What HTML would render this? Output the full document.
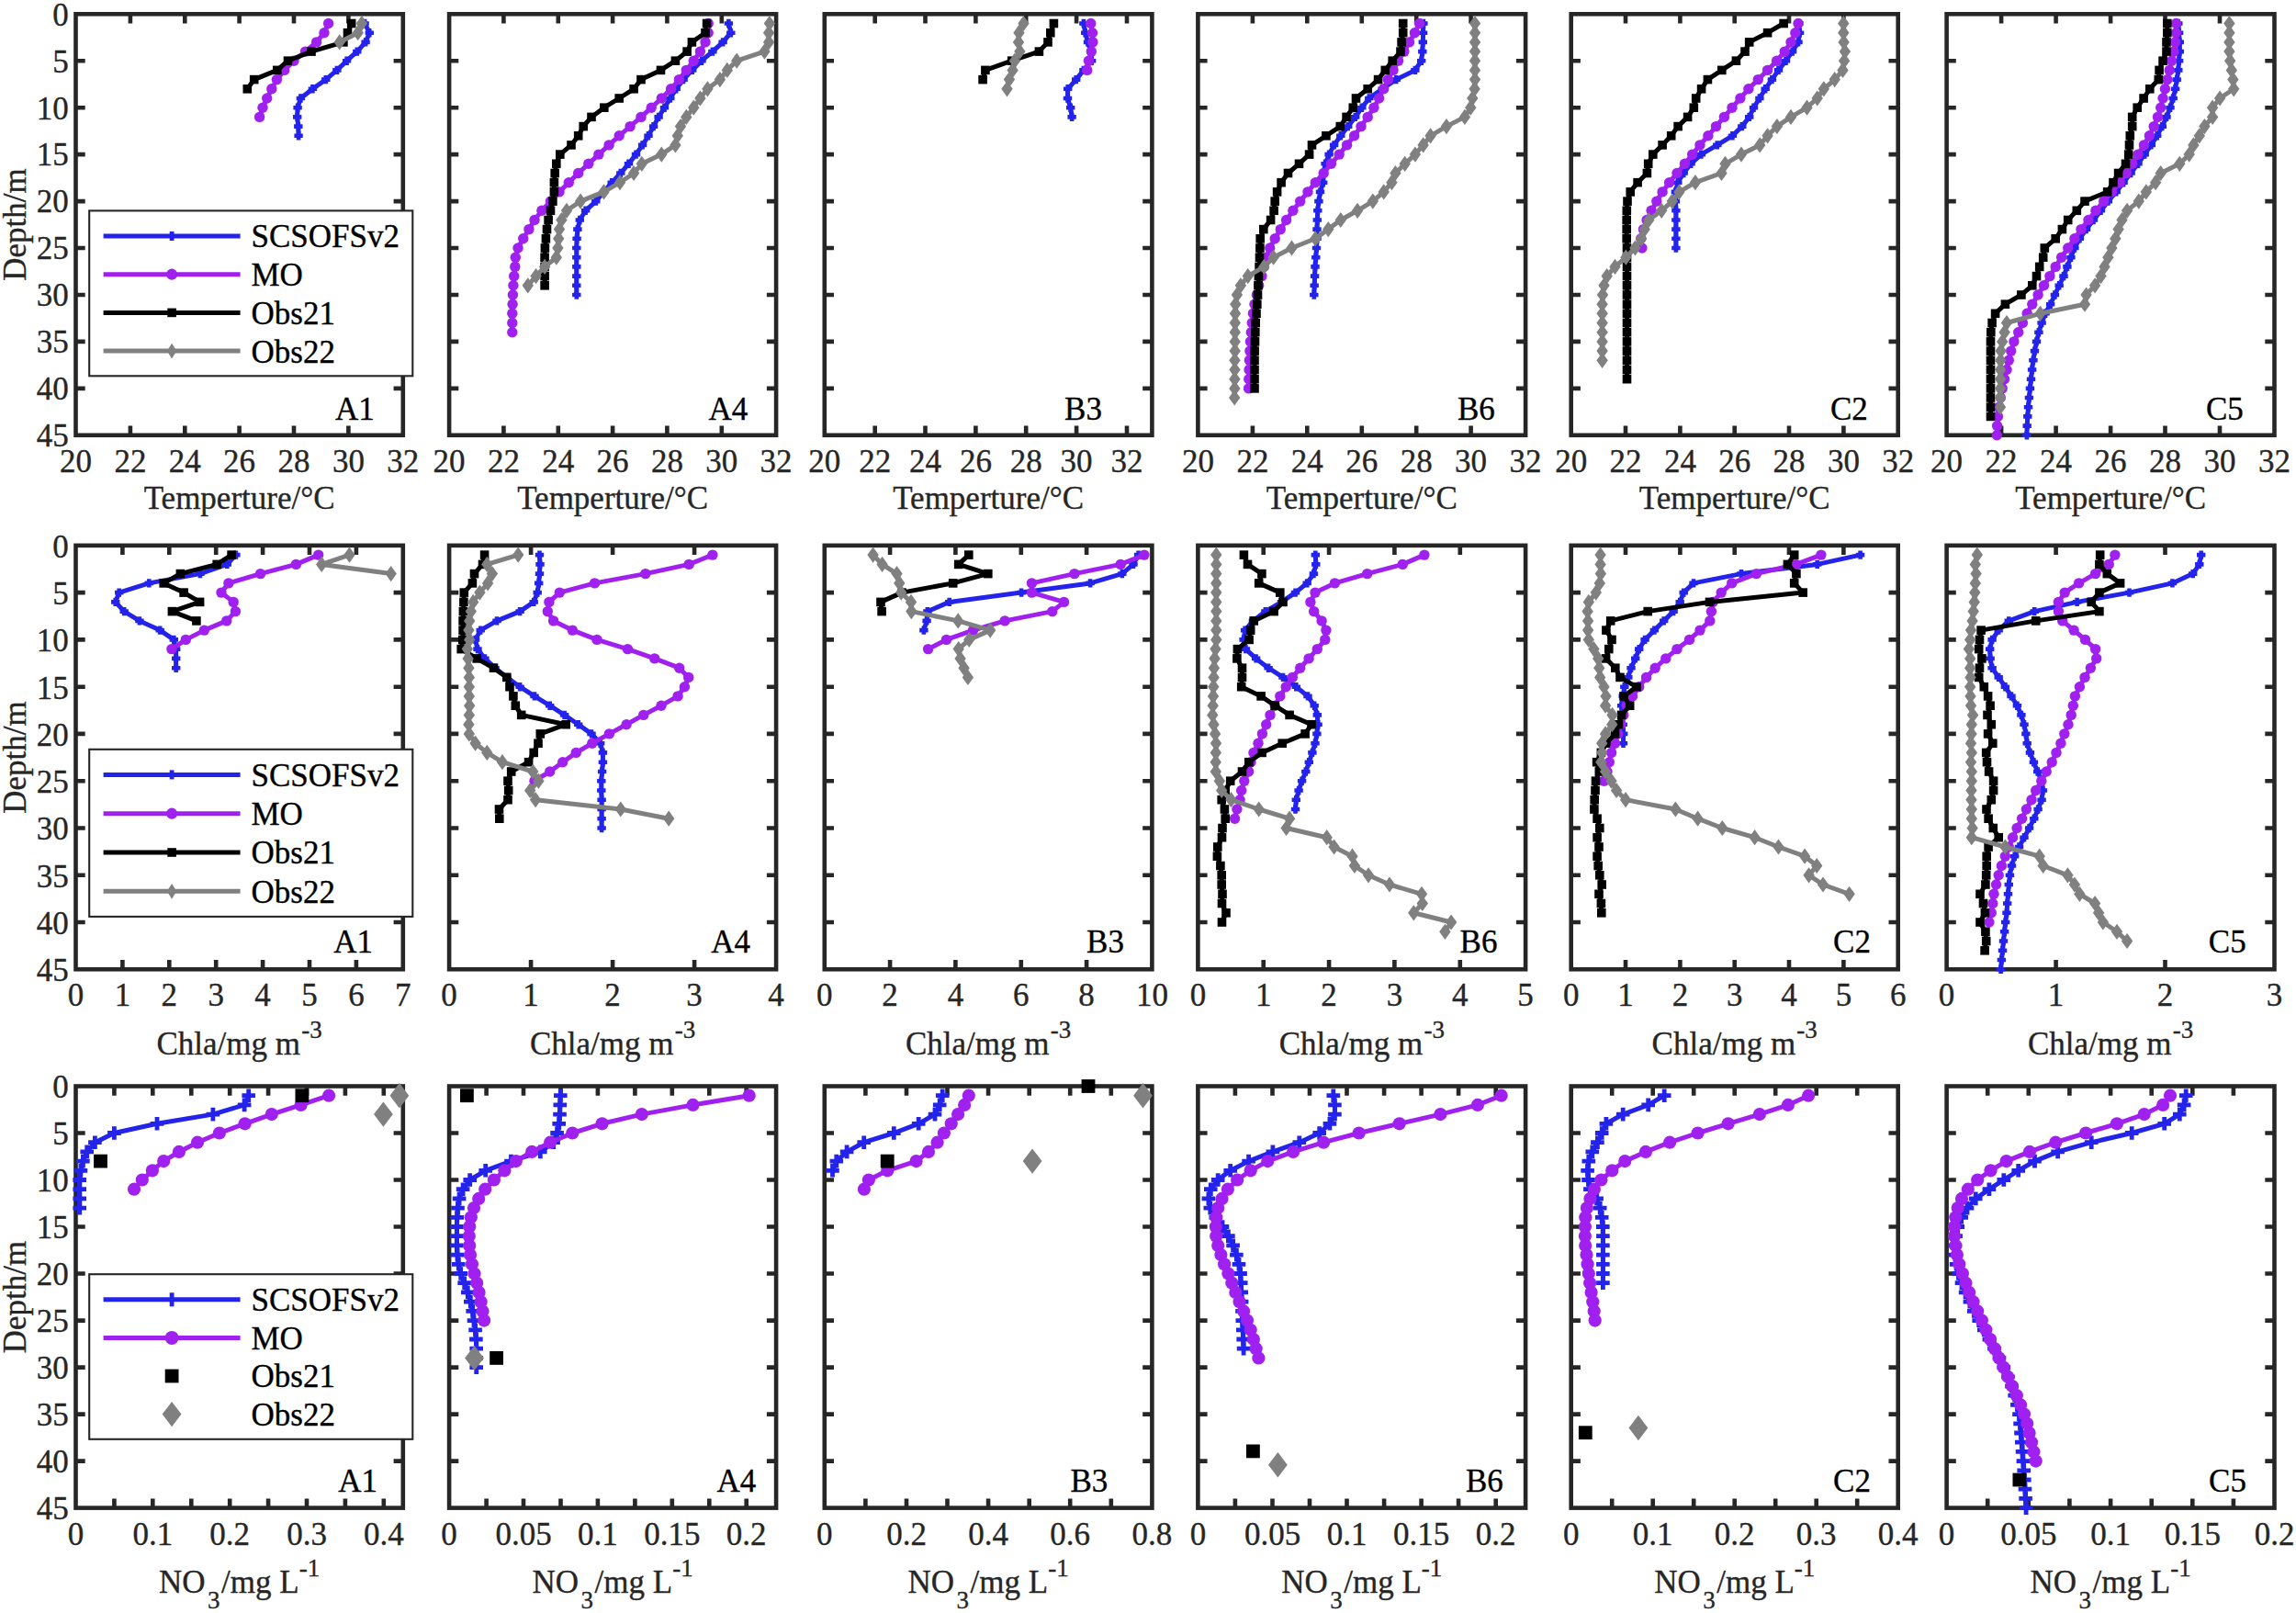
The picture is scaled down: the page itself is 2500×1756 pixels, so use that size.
<!DOCTYPE html><html><head><meta charset="utf-8"><title>Profiles</title>
<style>html,body{margin:0;padding:0;background:#fff}svg{display:block}text{font-family:"Liberation Serif","Times New Roman",serif;fill:#262626;stroke:#262626;stroke-width:0.35px}text.k{fill:#000;stroke:#000}</style></head><body>
<svg width="2500" height="1756" viewBox="0 0 2500 1756" font-size="35">
<rect width="2500" height="1756" fill="#fff"/>
<g id="p00">
<rect x="82.5" y="15.3" width="356.3" height="458.5" fill="none" stroke="#262626" stroke-width="4.6"/>
<path d="M82.5 66.2h10.2M438.8 66.2h-10.2M82.5 117.2h10.2M438.8 117.2h-10.2M82.5 168.1h10.2M438.8 168.1h-10.2M82.5 219.1h10.2M438.8 219.1h-10.2M82.5 270.0h10.2M438.8 270.0h-10.2M82.5 321.0h10.2M438.8 321.0h-10.2M82.5 371.9h10.2M438.8 371.9h-10.2M82.5 422.9h10.2M438.8 422.9h-10.2M141.9 15.3v10.2M141.9 473.8v-10.2M201.3 15.3v10.2M201.3 473.8v-10.2M260.6 15.3v10.2M260.6 473.8v-10.2M320.0 15.3v10.2M320.0 473.8v-10.2M379.4 15.3v10.2M379.4 473.8v-10.2" stroke="#262626" stroke-width="4.6" fill="none"/>
<polyline points="397.1,25.5 402.3,35.7 398.1,45.9 388.8,56.1 377.6,66.2 366.9,76.4 354.8,86.6 340.4,96.8 327.4,107.0 324.1,117.2 323.7,127.4 324.8,137.6 325.1,147.8" fill="none" stroke="#2323ec" stroke-width="5" stroke-linejoin="round"/><path d="M392.4 25.5h9.4M397.1 20.8v9.4M397.6 35.7h9.4M402.3 31.0v9.4M393.4 45.9h9.4M398.1 41.2v9.4M384.1 56.1h9.4M388.8 51.4v9.4M372.9 66.2h9.4M377.6 61.5v9.4M362.2 76.4h9.4M366.9 71.7v9.4M350.1 86.6h9.4M354.8 81.9v9.4M335.7 96.8h9.4M340.4 92.1v9.4M322.7 107.0h9.4M327.4 102.3v9.4M319.4 117.2h9.4M324.1 112.5v9.4M319.0 127.4h9.4M323.7 122.7v9.4M320.1 137.6h9.4M324.8 132.9v9.4M320.4 147.8h9.4M325.1 143.1v9.4" stroke="#2323ec" stroke-width="4.6" fill="none"/>
<polyline points="357.6,25.5 353.0,35.7 344.6,45.9 332.5,56.1 320.0,66.2 309.7,76.4 301.4,86.6 295.8,96.8 290.7,107.0 286.0,117.2 282.6,127.4" fill="none" stroke="#a020f0" stroke-width="5" stroke-linejoin="round"/><circle cx="357.6" cy="25.5" r="5.7" fill="#a020f0"/><circle cx="353.0" cy="35.7" r="5.7" fill="#a020f0"/><circle cx="344.6" cy="45.9" r="5.7" fill="#a020f0"/><circle cx="332.5" cy="56.1" r="5.7" fill="#a020f0"/><circle cx="320.0" cy="66.2" r="5.7" fill="#a020f0"/><circle cx="309.7" cy="76.4" r="5.7" fill="#a020f0"/><circle cx="301.4" cy="86.6" r="5.7" fill="#a020f0"/><circle cx="295.8" cy="96.8" r="5.7" fill="#a020f0"/><circle cx="290.7" cy="107.0" r="5.7" fill="#a020f0"/><circle cx="286.0" cy="117.2" r="5.7" fill="#a020f0"/><circle cx="282.6" cy="127.4" r="5.7" fill="#a020f0"/>
<polyline points="382.7,25.5 378.5,35.7 373.9,45.9 339.0,56.1 313.5,66.2 301.8,76.4 276.7,86.6 269.3,96.8" fill="none" stroke="#000000" stroke-width="5" stroke-linejoin="round"/><rect x="377.9" y="20.7" width="9.6" height="9.6" fill="#000000"/><rect x="373.7" y="30.9" width="9.6" height="9.6" fill="#000000"/><rect x="369.1" y="41.1" width="9.6" height="9.6" fill="#000000"/><rect x="334.2" y="51.3" width="9.6" height="9.6" fill="#000000"/><rect x="308.7" y="61.4" width="9.6" height="9.6" fill="#000000"/><rect x="297.0" y="71.6" width="9.6" height="9.6" fill="#000000"/><rect x="271.9" y="81.8" width="9.6" height="9.6" fill="#000000"/><rect x="264.5" y="92.0" width="9.6" height="9.6" fill="#000000"/>
<polyline points="393.9,25.5 389.7,35.7 369.7,45.9" fill="none" stroke="#808080" stroke-width="5" stroke-linejoin="round"/><path d="M393.9 16.9L400.1 25.5L393.9 34.1L387.7 25.5Z" fill="#808080"/><path d="M389.7 27.1L395.9 35.7L389.7 44.3L383.5 35.7Z" fill="#808080"/><path d="M369.7 37.3L375.9 45.9L369.7 54.5L363.5 45.9Z" fill="#808080"/>
<text x="82.5" y="513.8" text-anchor="middle">20</text>
<text x="141.9" y="513.8" text-anchor="middle">22</text>
<text x="201.3" y="513.8" text-anchor="middle">24</text>
<text x="260.6" y="513.8" text-anchor="middle">26</text>
<text x="320.0" y="513.8" text-anchor="middle">28</text>
<text x="379.4" y="513.8" text-anchor="middle">30</text>
<text x="438.8" y="513.8" text-anchor="middle">32</text>
<text x="74.8" y="27.6" text-anchor="end">0</text>
<text x="74.8" y="78.5" text-anchor="end">5</text>
<text x="74.8" y="129.5" text-anchor="end">10</text>
<text x="74.8" y="180.4" text-anchor="end">15</text>
<text x="74.8" y="231.4" text-anchor="end">20</text>
<text x="74.8" y="282.3" text-anchor="end">25</text>
<text x="74.8" y="333.3" text-anchor="end">30</text>
<text x="74.8" y="384.2" text-anchor="end">35</text>
<text x="74.8" y="435.2" text-anchor="end">40</text>
<text x="74.8" y="486.1" text-anchor="end">45</text>
<text transform="translate(28.3,244.6) rotate(-90)" text-anchor="middle">Depth/m</text>
<text x="260.6" y="553.5" text-anchor="middle">Temperture/°C</text>
<text x="364.9" y="456.9" class="k">A1</text>
<rect x="97.2" y="229.4" width="352.1" height="179.9" fill="#fff" stroke="#262626" stroke-width="2.1"/>
<path d="M112.6 257.0H261.6" stroke="#2323ec" stroke-width="5"/>
<path d="M187.1 252.0v10.0" stroke="#2323ec" stroke-width="4.8"/>
<text x="273.5" y="269.4" font-size="35" class="k">SCSOFSv2</text>
<path d="M112.6 298.7H261.6" stroke="#a020f0" stroke-width="5"/>
<circle cx="187.1" cy="298.7" r="6.1000000000000005" fill="#a020f0"/>
<text x="273.5" y="311.1" font-size="35" class="k">MO</text>
<path d="M112.6 340.4H261.6" stroke="#000000" stroke-width="5"/>
<rect x="182.3" y="335.6" width="9.6" height="9.6" fill="#000000"/>
<text x="273.5" y="352.8" font-size="35" class="k">Obs21</text>
<path d="M112.6 382.1H261.6" stroke="#808080" stroke-width="5"/>
<path d="M187.1 373.7L192.3 382.1L187.1 390.5L181.9 382.1Z" fill="#808080"/>
<text x="273.5" y="394.5" font-size="35" class="k">Obs22</text>
</g>
<g id="p01">
<rect x="489.1" y="15.3" width="356.0" height="458.5" fill="none" stroke="#262626" stroke-width="4.6"/>
<path d="M489.1 66.2h10.2M845.1 66.2h-10.2M489.1 117.2h10.2M845.1 117.2h-10.2M489.1 168.1h10.2M845.1 168.1h-10.2M489.1 219.1h10.2M845.1 219.1h-10.2M489.1 270.0h10.2M845.1 270.0h-10.2M489.1 321.0h10.2M845.1 321.0h-10.2M489.1 371.9h10.2M845.1 371.9h-10.2M489.1 422.9h10.2M845.1 422.9h-10.2M548.4 15.3v10.2M548.4 473.8v-10.2M607.8 15.3v10.2M607.8 473.8v-10.2M667.1 15.3v10.2M667.1 473.8v-10.2M726.4 15.3v10.2M726.4 473.8v-10.2M785.8 15.3v10.2M785.8 473.8v-10.2" stroke="#262626" stroke-width="4.6" fill="none"/>
<polyline points="793.4,25.5 795.8,35.7 787.1,45.9 775.9,56.1 764.0,66.2 753.7,76.4 744.1,86.6 736.2,96.8 729.8,107.0 723.5,117.2 717.1,127.4 711.6,137.6 706.0,147.8 699.6,157.9 692.5,168.1 684.5,178.3 675.8,188.5 666.2,198.7 657.5,208.9 648.8,219.1 637.6,229.3 631.3,239.5 628.9,249.6 628.1,259.8 627.8,270.0 627.8,280.2 627.8,290.4 627.8,300.6 627.8,310.8 627.8,321.0" fill="none" stroke="#2323ec" stroke-width="5" stroke-linejoin="round"/><path d="M788.7 25.5h9.4M793.4 20.8v9.4M791.1 35.7h9.4M795.8 31.0v9.4M782.4 45.9h9.4M787.1 41.2v9.4M771.2 56.1h9.4M775.9 51.4v9.4M759.3 66.2h9.4M764.0 61.5v9.4M749.0 76.4h9.4M753.7 71.7v9.4M739.4 86.6h9.4M744.1 81.9v9.4M731.5 96.8h9.4M736.2 92.1v9.4M725.1 107.0h9.4M729.8 102.3v9.4M718.8 117.2h9.4M723.5 112.5v9.4M712.4 127.4h9.4M717.1 122.7v9.4M706.9 137.6h9.4M711.6 132.9v9.4M701.3 147.8h9.4M706.0 143.1v9.4M694.9 157.9h9.4M699.6 153.2v9.4M687.8 168.1h9.4M692.5 163.4v9.4M679.8 178.3h9.4M684.5 173.6v9.4M671.1 188.5h9.4M675.8 183.8v9.4M661.5 198.7h9.4M666.2 194.0v9.4M652.8 208.9h9.4M657.5 204.2v9.4M644.1 219.1h9.4M648.8 214.4v9.4M632.9 229.3h9.4M637.6 224.6v9.4M626.6 239.5h9.4M631.3 234.8v9.4M624.2 249.6h9.4M628.9 244.9v9.4M623.4 259.8h9.4M628.1 255.1v9.4M623.1 270.0h9.4M627.8 265.3v9.4M623.1 280.2h9.4M627.8 275.5v9.4M623.1 290.4h9.4M627.8 285.7v9.4M623.1 300.6h9.4M627.8 295.9v9.4M623.1 310.8h9.4M627.8 306.1v9.4M623.1 321.0h9.4M627.8 316.3v9.4" stroke="#2323ec" stroke-width="4.6" fill="none"/>
<polyline points="771.2,25.5 771.2,35.7 768.0,45.9 762.4,56.1 755.3,66.2 747.3,76.4 739.4,86.6 730.6,96.8 720.3,107.0 709.2,117.2 698.0,127.4 686.1,137.6 674.2,147.8 663.1,157.9 651.9,168.1 640.8,178.3 629.7,188.5 619.3,198.7 609.0,208.9 599.5,219.1 589.9,229.3 582.0,239.5 575.9,249.6 569.7,259.8 564.0,270.0 561.3,280.2 560.8,290.4 559.7,300.6 558.9,310.8 558.4,321.0 558.1,331.2 557.8,341.3 557.8,351.5 557.8,361.7" fill="none" stroke="#a020f0" stroke-width="5" stroke-linejoin="round"/><circle cx="771.2" cy="25.5" r="5.7" fill="#a020f0"/><circle cx="771.2" cy="35.7" r="5.7" fill="#a020f0"/><circle cx="768.0" cy="45.9" r="5.7" fill="#a020f0"/><circle cx="762.4" cy="56.1" r="5.7" fill="#a020f0"/><circle cx="755.3" cy="66.2" r="5.7" fill="#a020f0"/><circle cx="747.3" cy="76.4" r="5.7" fill="#a020f0"/><circle cx="739.4" cy="86.6" r="5.7" fill="#a020f0"/><circle cx="730.6" cy="96.8" r="5.7" fill="#a020f0"/><circle cx="720.3" cy="107.0" r="5.7" fill="#a020f0"/><circle cx="709.2" cy="117.2" r="5.7" fill="#a020f0"/><circle cx="698.0" cy="127.4" r="5.7" fill="#a020f0"/><circle cx="686.1" cy="137.6" r="5.7" fill="#a020f0"/><circle cx="674.2" cy="147.8" r="5.7" fill="#a020f0"/><circle cx="663.1" cy="157.9" r="5.7" fill="#a020f0"/><circle cx="651.9" cy="168.1" r="5.7" fill="#a020f0"/><circle cx="640.8" cy="178.3" r="5.7" fill="#a020f0"/><circle cx="629.7" cy="188.5" r="5.7" fill="#a020f0"/><circle cx="619.3" cy="198.7" r="5.7" fill="#a020f0"/><circle cx="609.0" cy="208.9" r="5.7" fill="#a020f0"/><circle cx="599.5" cy="219.1" r="5.7" fill="#a020f0"/><circle cx="589.9" cy="229.3" r="5.7" fill="#a020f0"/><circle cx="582.0" cy="239.5" r="5.7" fill="#a020f0"/><circle cx="575.9" cy="249.6" r="5.7" fill="#a020f0"/><circle cx="569.7" cy="259.8" r="5.7" fill="#a020f0"/><circle cx="564.0" cy="270.0" r="5.7" fill="#a020f0"/><circle cx="561.3" cy="280.2" r="5.7" fill="#a020f0"/><circle cx="560.8" cy="290.4" r="5.7" fill="#a020f0"/><circle cx="559.7" cy="300.6" r="5.7" fill="#a020f0"/><circle cx="558.9" cy="310.8" r="5.7" fill="#a020f0"/><circle cx="558.4" cy="321.0" r="5.7" fill="#a020f0"/><circle cx="558.1" cy="331.2" r="5.7" fill="#a020f0"/><circle cx="557.8" cy="341.3" r="5.7" fill="#a020f0"/><circle cx="557.8" cy="351.5" r="5.7" fill="#a020f0"/><circle cx="557.8" cy="361.7" r="5.7" fill="#a020f0"/>
<polyline points="769.6,25.5 768.0,35.7 753.4,45.9 748.1,56.1 735.4,66.2 719.5,76.4 698.0,86.6 690.1,96.8 674.2,107.0 657.8,117.2 644.0,127.4 635.2,137.6 629.7,147.8 622.0,157.9 609.8,168.1 605.8,178.3 604.2,188.5 603.4,198.7 603.4,208.9 601.9,219.1 599.5,229.3 597.1,239.5 595.5,249.6 594.4,259.8 593.4,270.0 593.1,280.2 593.1,290.4 593.1,300.6 593.1,310.8" fill="none" stroke="#000000" stroke-width="5" stroke-linejoin="round"/><rect x="764.8" y="20.7" width="9.6" height="9.6" fill="#000000"/><rect x="763.2" y="30.9" width="9.6" height="9.6" fill="#000000"/><rect x="748.6" y="41.1" width="9.6" height="9.6" fill="#000000"/><rect x="743.3" y="51.3" width="9.6" height="9.6" fill="#000000"/><rect x="730.6" y="61.4" width="9.6" height="9.6" fill="#000000"/><rect x="714.7" y="71.6" width="9.6" height="9.6" fill="#000000"/><rect x="693.2" y="81.8" width="9.6" height="9.6" fill="#000000"/><rect x="685.3" y="92.0" width="9.6" height="9.6" fill="#000000"/><rect x="669.4" y="102.2" width="9.6" height="9.6" fill="#000000"/><rect x="653.0" y="112.4" width="9.6" height="9.6" fill="#000000"/><rect x="639.2" y="122.6" width="9.6" height="9.6" fill="#000000"/><rect x="630.4" y="132.8" width="9.6" height="9.6" fill="#000000"/><rect x="624.9" y="143.0" width="9.6" height="9.6" fill="#000000"/><rect x="617.2" y="153.1" width="9.6" height="9.6" fill="#000000"/><rect x="605.0" y="163.3" width="9.6" height="9.6" fill="#000000"/><rect x="601.0" y="173.5" width="9.6" height="9.6" fill="#000000"/><rect x="599.4" y="183.7" width="9.6" height="9.6" fill="#000000"/><rect x="598.6" y="193.9" width="9.6" height="9.6" fill="#000000"/><rect x="598.6" y="204.1" width="9.6" height="9.6" fill="#000000"/><rect x="597.1" y="214.3" width="9.6" height="9.6" fill="#000000"/><rect x="594.7" y="224.5" width="9.6" height="9.6" fill="#000000"/><rect x="592.3" y="234.7" width="9.6" height="9.6" fill="#000000"/><rect x="590.7" y="244.8" width="9.6" height="9.6" fill="#000000"/><rect x="589.6" y="255.0" width="9.6" height="9.6" fill="#000000"/><rect x="588.6" y="265.2" width="9.6" height="9.6" fill="#000000"/><rect x="588.3" y="275.4" width="9.6" height="9.6" fill="#000000"/><rect x="588.3" y="285.6" width="9.6" height="9.6" fill="#000000"/><rect x="588.3" y="295.8" width="9.6" height="9.6" fill="#000000"/><rect x="588.3" y="306.0" width="9.6" height="9.6" fill="#000000"/>
<polyline points="837.9,25.5 837.1,35.7 837.1,45.9 832.4,56.1 802.2,66.2 791.8,76.4 783.9,86.6 770.4,96.8 762.4,107.0 755.3,117.2 747.3,127.4 741.0,137.6 737.8,147.8 735.4,157.9 720.3,168.1 698.8,178.3 690.1,188.5 675.0,198.7 657.5,208.9 632.1,219.1 617.0,229.3 611.4,239.5 609.0,249.6 608.2,259.8 607.4,270.0 605.8,280.2 593.1,290.4 583.6,300.6 574.8,310.8" fill="none" stroke="#808080" stroke-width="5" stroke-linejoin="round"/><path d="M837.9 16.9L844.1 25.5L837.9 34.1L831.7 25.5Z" fill="#808080"/><path d="M837.1 27.1L843.3 35.7L837.1 44.3L830.9 35.7Z" fill="#808080"/><path d="M837.1 37.3L843.3 45.9L837.1 54.5L830.9 45.9Z" fill="#808080"/><path d="M832.4 47.5L838.6 56.1L832.4 64.7L826.2 56.1Z" fill="#808080"/><path d="M802.2 57.6L808.4 66.2L802.2 74.8L796.0 66.2Z" fill="#808080"/><path d="M791.8 67.8L798.0 76.4L791.8 85.0L785.6 76.4Z" fill="#808080"/><path d="M783.9 78.0L790.1 86.6L783.9 95.2L777.7 86.6Z" fill="#808080"/><path d="M770.4 88.2L776.6 96.8L770.4 105.4L764.2 96.8Z" fill="#808080"/><path d="M762.4 98.4L768.6 107.0L762.4 115.6L756.2 107.0Z" fill="#808080"/><path d="M755.3 108.6L761.5 117.2L755.3 125.8L749.1 117.2Z" fill="#808080"/><path d="M747.3 118.8L753.5 127.4L747.3 136.0L741.1 127.4Z" fill="#808080"/><path d="M741.0 129.0L747.2 137.6L741.0 146.2L734.8 137.6Z" fill="#808080"/><path d="M737.8 139.2L744.0 147.8L737.8 156.4L731.6 147.8Z" fill="#808080"/><path d="M735.4 149.3L741.6 157.9L735.4 166.5L729.2 157.9Z" fill="#808080"/><path d="M720.3 159.5L726.5 168.1L720.3 176.7L714.1 168.1Z" fill="#808080"/><path d="M698.8 169.7L705.0 178.3L698.8 186.9L692.6 178.3Z" fill="#808080"/><path d="M690.1 179.9L696.3 188.5L690.1 197.1L683.9 188.5Z" fill="#808080"/><path d="M675.0 190.1L681.2 198.7L675.0 207.3L668.8 198.7Z" fill="#808080"/><path d="M657.5 200.3L663.7 208.9L657.5 217.5L651.3 208.9Z" fill="#808080"/><path d="M632.1 210.5L638.3 219.1L632.1 227.7L625.9 219.1Z" fill="#808080"/><path d="M617.0 220.7L623.2 229.3L617.0 237.9L610.8 229.3Z" fill="#808080"/><path d="M611.4 230.9L617.6 239.5L611.4 248.1L605.2 239.5Z" fill="#808080"/><path d="M609.0 241.0L615.2 249.6L609.0 258.2L602.8 249.6Z" fill="#808080"/><path d="M608.2 251.2L614.4 259.8L608.2 268.4L602.0 259.8Z" fill="#808080"/><path d="M607.4 261.4L613.6 270.0L607.4 278.6L601.2 270.0Z" fill="#808080"/><path d="M605.8 271.6L612.0 280.2L605.8 288.8L599.6 280.2Z" fill="#808080"/><path d="M593.1 281.8L599.3 290.4L593.1 299.0L586.9 290.4Z" fill="#808080"/><path d="M583.6 292.0L589.8 300.6L583.6 309.2L577.4 300.6Z" fill="#808080"/><path d="M574.8 302.2L581.0 310.8L574.8 319.4L568.6 310.8Z" fill="#808080"/>
<text x="489.1" y="513.8" text-anchor="middle">20</text>
<text x="548.4" y="513.8" text-anchor="middle">22</text>
<text x="607.8" y="513.8" text-anchor="middle">24</text>
<text x="667.1" y="513.8" text-anchor="middle">26</text>
<text x="726.4" y="513.8" text-anchor="middle">28</text>
<text x="785.8" y="513.8" text-anchor="middle">30</text>
<text x="845.1" y="513.8" text-anchor="middle">32</text>
<text x="667.1" y="553.5" text-anchor="middle">Temperture/°C</text>
<text x="771.5" y="456.9" class="k">A4</text>
</g>
<g id="p02">
<rect x="897.8" y="15.3" width="356.6" height="458.5" fill="none" stroke="#262626" stroke-width="4.6"/>
<path d="M897.8 66.2h10.2M1254.4 66.2h-10.2M897.8 117.2h10.2M1254.4 117.2h-10.2M897.8 168.1h10.2M1254.4 168.1h-10.2M897.8 219.1h10.2M1254.4 219.1h-10.2M897.8 270.0h10.2M1254.4 270.0h-10.2M897.8 321.0h10.2M1254.4 321.0h-10.2M897.8 371.9h10.2M1254.4 371.9h-10.2M897.8 422.9h10.2M1254.4 422.9h-10.2M952.7 15.3v10.2M952.7 473.8v-10.2M1007.5 15.3v10.2M1007.5 473.8v-10.2M1062.4 15.3v10.2M1062.4 473.8v-10.2M1117.2 15.3v10.2M1117.2 473.8v-10.2M1172.1 15.3v10.2M1172.1 473.8v-10.2M1227.0 15.3v10.2M1227.0 473.8v-10.2" stroke="#262626" stroke-width="4.6" fill="none"/>
<polyline points="1179.9,25.5 1181.7,35.7 1184.5,45.9 1187.7,56.1 1188.6,66.2 1179.9,76.4 1171.7,86.6 1162.7,96.8 1162.5,107.0 1165.7,117.2 1167.1,127.4" fill="none" stroke="#2323ec" stroke-width="5" stroke-linejoin="round"/><path d="M1175.2 25.5h9.4M1179.9 20.8v9.4M1177.0 35.7h9.4M1181.7 31.0v9.4M1179.8 45.9h9.4M1184.5 41.2v9.4M1183.0 56.1h9.4M1187.7 51.4v9.4M1183.9 66.2h9.4M1188.6 61.5v9.4M1175.2 76.4h9.4M1179.9 71.7v9.4M1167.0 86.6h9.4M1171.7 81.9v9.4M1158.0 96.8h9.4M1162.7 92.1v9.4M1157.8 107.0h9.4M1162.5 102.3v9.4M1161.0 117.2h9.4M1165.7 112.5v9.4M1162.4 127.4h9.4M1167.1 122.7v9.4" stroke="#2323ec" stroke-width="4.6" fill="none"/>
<polyline points="1187.7,25.5 1189.5,35.7 1189.9,45.9 1188.3,56.1 1185.4,66.2 1183.7,76.4" fill="none" stroke="#a020f0" stroke-width="5" stroke-linejoin="round"/><circle cx="1187.7" cy="25.5" r="5.7" fill="#a020f0"/><circle cx="1189.5" cy="35.7" r="5.7" fill="#a020f0"/><circle cx="1189.9" cy="45.9" r="5.7" fill="#a020f0"/><circle cx="1188.3" cy="56.1" r="5.7" fill="#a020f0"/><circle cx="1185.4" cy="66.2" r="5.7" fill="#a020f0"/><circle cx="1183.7" cy="76.4" r="5.7" fill="#a020f0"/>
<polyline points="1147.4,25.5 1143.8,35.7 1141.0,45.9 1131.4,56.1 1101.7,66.2 1072.9,76.4 1070.1,86.6" fill="none" stroke="#000000" stroke-width="5" stroke-linejoin="round"/><rect x="1142.6" y="20.7" width="9.6" height="9.6" fill="#000000"/><rect x="1139.0" y="30.9" width="9.6" height="9.6" fill="#000000"/><rect x="1136.2" y="41.1" width="9.6" height="9.6" fill="#000000"/><rect x="1126.6" y="51.3" width="9.6" height="9.6" fill="#000000"/><rect x="1096.9" y="61.4" width="9.6" height="9.6" fill="#000000"/><rect x="1068.1" y="71.6" width="9.6" height="9.6" fill="#000000"/><rect x="1065.3" y="81.8" width="9.6" height="9.6" fill="#000000"/>
<polyline points="1114.5,25.5 1109.5,35.7 1109.0,45.9 1110.4,56.1 1104.9,66.2 1102.6,76.4 1098.9,86.6 1096.5,96.8" fill="none" stroke="#808080" stroke-width="5" stroke-linejoin="round"/><path d="M1114.5 16.9L1120.7 25.5L1114.5 34.1L1108.3 25.5Z" fill="#808080"/><path d="M1109.5 27.1L1115.7 35.7L1109.5 44.3L1103.3 35.7Z" fill="#808080"/><path d="M1109.0 37.3L1115.2 45.9L1109.0 54.5L1102.8 45.9Z" fill="#808080"/><path d="M1110.4 47.5L1116.6 56.1L1110.4 64.7L1104.2 56.1Z" fill="#808080"/><path d="M1104.9 57.6L1111.1 66.2L1104.9 74.8L1098.7 66.2Z" fill="#808080"/><path d="M1102.6 67.8L1108.8 76.4L1102.6 85.0L1096.4 76.4Z" fill="#808080"/><path d="M1098.9 78.0L1105.1 86.6L1098.9 95.2L1092.7 86.6Z" fill="#808080"/><path d="M1096.5 88.2L1102.7 96.8L1096.5 105.4L1090.3 96.8Z" fill="#808080"/>
<text x="897.8" y="513.8" text-anchor="middle">20</text>
<text x="952.7" y="513.8" text-anchor="middle">22</text>
<text x="1007.5" y="513.8" text-anchor="middle">24</text>
<text x="1062.4" y="513.8" text-anchor="middle">26</text>
<text x="1117.2" y="513.8" text-anchor="middle">28</text>
<text x="1172.1" y="513.8" text-anchor="middle">30</text>
<text x="1227.0" y="513.8" text-anchor="middle">32</text>
<text x="1076.1" y="553.5" text-anchor="middle">Temperture/°C</text>
<text x="1159.1" y="456.9" class="k">B3</text>
</g>
<g id="p03">
<rect x="1304.4" y="15.3" width="356.7" height="458.5" fill="none" stroke="#262626" stroke-width="4.6"/>
<path d="M1304.4 66.2h10.2M1661.1 66.2h-10.2M1304.4 117.2h10.2M1661.1 117.2h-10.2M1304.4 168.1h10.2M1661.1 168.1h-10.2M1304.4 219.1h10.2M1661.1 219.1h-10.2M1304.4 270.0h10.2M1661.1 270.0h-10.2M1304.4 321.0h10.2M1661.1 321.0h-10.2M1304.4 371.9h10.2M1661.1 371.9h-10.2M1304.4 422.9h10.2M1661.1 422.9h-10.2M1363.9 15.3v10.2M1363.9 473.8v-10.2M1423.3 15.3v10.2M1423.3 473.8v-10.2M1482.8 15.3v10.2M1482.8 473.8v-10.2M1542.2 15.3v10.2M1542.2 473.8v-10.2M1601.6 15.3v10.2M1601.6 473.8v-10.2" stroke="#262626" stroke-width="4.6" fill="none"/>
<polyline points="1549.9,25.5 1549.6,35.7 1549.3,45.9 1548.8,56.1 1547.7,66.2 1540.9,76.4 1520.2,86.6 1505.1,96.8 1490.8,107.0 1482.8,117.2 1475.7,127.4 1467.7,137.6 1459.8,147.8 1452.6,157.9 1447.1,168.1 1443.1,178.3 1441.2,188.5 1440.7,198.7 1437.5,208.9 1435.9,219.1 1434.8,229.3 1434.3,239.5 1434.0,249.6 1434.0,259.8 1433.5,270.0 1432.8,280.2 1432.0,290.4 1431.6,300.6 1431.2,310.8 1430.8,321.0" fill="none" stroke="#2323ec" stroke-width="5" stroke-linejoin="round"/><path d="M1545.2 25.5h9.4M1549.9 20.8v9.4M1544.9 35.7h9.4M1549.6 31.0v9.4M1544.6 45.9h9.4M1549.3 41.2v9.4M1544.1 56.1h9.4M1548.8 51.4v9.4M1543.0 66.2h9.4M1547.7 61.5v9.4M1536.2 76.4h9.4M1540.9 71.7v9.4M1515.5 86.6h9.4M1520.2 81.9v9.4M1500.4 96.8h9.4M1505.1 92.1v9.4M1486.1 107.0h9.4M1490.8 102.3v9.4M1478.1 117.2h9.4M1482.8 112.5v9.4M1471.0 127.4h9.4M1475.7 122.7v9.4M1463.0 137.6h9.4M1467.7 132.9v9.4M1455.1 147.8h9.4M1459.8 143.1v9.4M1447.9 157.9h9.4M1452.6 153.2v9.4M1442.4 168.1h9.4M1447.1 163.4v9.4M1438.4 178.3h9.4M1443.1 173.6v9.4M1436.5 188.5h9.4M1441.2 183.8v9.4M1436.0 198.7h9.4M1440.7 194.0v9.4M1432.8 208.9h9.4M1437.5 204.2v9.4M1431.2 219.1h9.4M1435.9 214.4v9.4M1430.1 229.3h9.4M1434.8 224.6v9.4M1429.6 239.5h9.4M1434.3 234.8v9.4M1429.3 249.6h9.4M1434.0 244.9v9.4M1429.3 259.8h9.4M1434.0 255.1v9.4M1428.8 270.0h9.4M1433.5 265.3v9.4M1428.1 280.2h9.4M1432.8 275.5v9.4M1427.3 290.4h9.4M1432.0 285.7v9.4M1426.9 300.6h9.4M1431.6 295.9v9.4M1426.5 310.8h9.4M1431.2 306.1v9.4M1426.1 321.0h9.4M1430.8 316.3v9.4" stroke="#2323ec" stroke-width="4.6" fill="none"/>
<polyline points="1545.6,25.5 1540.4,35.7 1534.5,45.9 1528.9,56.1 1522.6,66.2 1517.0,76.4 1511.4,86.6 1506.7,96.8 1501.6,107.0 1495.9,117.2 1489.2,127.4 1482.0,137.6 1474.6,147.8 1466.6,157.9 1458.2,168.1 1449.4,178.3 1441.2,188.5 1432.3,198.7 1424.0,208.9 1415.7,219.1 1407.9,229.3 1400.6,239.5 1394.3,249.6 1388.2,259.8 1382.7,270.0 1379.0,280.2 1376.3,290.4 1373.9,300.6 1370.7,310.8 1368.4,321.0 1366.0,331.2 1364.4,341.3 1363.3,351.5 1362.3,361.7 1361.5,371.9 1360.9,382.1 1360.4,392.3 1360.1,402.5 1359.8,412.7 1359.6,422.9" fill="none" stroke="#a020f0" stroke-width="5" stroke-linejoin="round"/><circle cx="1545.6" cy="25.5" r="5.7" fill="#a020f0"/><circle cx="1540.4" cy="35.7" r="5.7" fill="#a020f0"/><circle cx="1534.5" cy="45.9" r="5.7" fill="#a020f0"/><circle cx="1528.9" cy="56.1" r="5.7" fill="#a020f0"/><circle cx="1522.6" cy="66.2" r="5.7" fill="#a020f0"/><circle cx="1517.0" cy="76.4" r="5.7" fill="#a020f0"/><circle cx="1511.4" cy="86.6" r="5.7" fill="#a020f0"/><circle cx="1506.7" cy="96.8" r="5.7" fill="#a020f0"/><circle cx="1501.6" cy="107.0" r="5.7" fill="#a020f0"/><circle cx="1495.9" cy="117.2" r="5.7" fill="#a020f0"/><circle cx="1489.2" cy="127.4" r="5.7" fill="#a020f0"/><circle cx="1482.0" cy="137.6" r="5.7" fill="#a020f0"/><circle cx="1474.6" cy="147.8" r="5.7" fill="#a020f0"/><circle cx="1466.6" cy="157.9" r="5.7" fill="#a020f0"/><circle cx="1458.2" cy="168.1" r="5.7" fill="#a020f0"/><circle cx="1449.4" cy="178.3" r="5.7" fill="#a020f0"/><circle cx="1441.2" cy="188.5" r="5.7" fill="#a020f0"/><circle cx="1432.3" cy="198.7" r="5.7" fill="#a020f0"/><circle cx="1424.0" cy="208.9" r="5.7" fill="#a020f0"/><circle cx="1415.7" cy="219.1" r="5.7" fill="#a020f0"/><circle cx="1407.9" cy="229.3" r="5.7" fill="#a020f0"/><circle cx="1400.6" cy="239.5" r="5.7" fill="#a020f0"/><circle cx="1394.3" cy="249.6" r="5.7" fill="#a020f0"/><circle cx="1388.2" cy="259.8" r="5.7" fill="#a020f0"/><circle cx="1382.7" cy="270.0" r="5.7" fill="#a020f0"/><circle cx="1379.0" cy="280.2" r="5.7" fill="#a020f0"/><circle cx="1376.3" cy="290.4" r="5.7" fill="#a020f0"/><circle cx="1373.9" cy="300.6" r="5.7" fill="#a020f0"/><circle cx="1370.7" cy="310.8" r="5.7" fill="#a020f0"/><circle cx="1368.4" cy="321.0" r="5.7" fill="#a020f0"/><circle cx="1366.0" cy="331.2" r="5.7" fill="#a020f0"/><circle cx="1364.4" cy="341.3" r="5.7" fill="#a020f0"/><circle cx="1363.3" cy="351.5" r="5.7" fill="#a020f0"/><circle cx="1362.3" cy="361.7" r="5.7" fill="#a020f0"/><circle cx="1361.5" cy="371.9" r="5.7" fill="#a020f0"/><circle cx="1360.9" cy="382.1" r="5.7" fill="#a020f0"/><circle cx="1360.4" cy="392.3" r="5.7" fill="#a020f0"/><circle cx="1360.1" cy="402.5" r="5.7" fill="#a020f0"/><circle cx="1359.8" cy="412.7" r="5.7" fill="#a020f0"/><circle cx="1359.6" cy="422.9" r="5.7" fill="#a020f0"/>
<polyline points="1527.7,25.5 1527.7,35.7 1526.1,45.9 1525.0,56.1 1516.2,66.2 1508.3,76.4 1500.6,86.6 1489.2,96.8 1476.5,107.0 1473.3,117.2 1466.1,127.4 1459.3,137.6 1443.9,147.8 1428.5,157.9 1425.6,168.1 1414.5,178.3 1402.5,188.5 1395.1,198.7 1390.6,208.9 1388.2,219.1 1387.1,229.3 1383.6,239.5 1375.8,249.6 1372.2,259.8 1371.9,270.0 1371.5,280.2 1371.1,290.4 1370.4,300.6 1370.0,310.8 1369.5,321.0 1368.8,331.2 1368.0,341.3 1367.2,351.5 1366.8,361.7 1366.5,371.9 1366.1,382.1 1366.0,392.3 1366.0,402.5 1366.0,412.7 1366.0,422.9" fill="none" stroke="#000000" stroke-width="5" stroke-linejoin="round"/><rect x="1522.9" y="20.7" width="9.6" height="9.6" fill="#000000"/><rect x="1522.9" y="30.9" width="9.6" height="9.6" fill="#000000"/><rect x="1521.3" y="41.1" width="9.6" height="9.6" fill="#000000"/><rect x="1520.2" y="51.3" width="9.6" height="9.6" fill="#000000"/><rect x="1511.4" y="61.4" width="9.6" height="9.6" fill="#000000"/><rect x="1503.5" y="71.6" width="9.6" height="9.6" fill="#000000"/><rect x="1495.8" y="81.8" width="9.6" height="9.6" fill="#000000"/><rect x="1484.4" y="92.0" width="9.6" height="9.6" fill="#000000"/><rect x="1471.7" y="102.2" width="9.6" height="9.6" fill="#000000"/><rect x="1468.5" y="112.4" width="9.6" height="9.6" fill="#000000"/><rect x="1461.3" y="122.6" width="9.6" height="9.6" fill="#000000"/><rect x="1454.5" y="132.8" width="9.6" height="9.6" fill="#000000"/><rect x="1439.1" y="143.0" width="9.6" height="9.6" fill="#000000"/><rect x="1423.7" y="153.1" width="9.6" height="9.6" fill="#000000"/><rect x="1420.8" y="163.3" width="9.6" height="9.6" fill="#000000"/><rect x="1409.7" y="173.5" width="9.6" height="9.6" fill="#000000"/><rect x="1397.7" y="183.7" width="9.6" height="9.6" fill="#000000"/><rect x="1390.3" y="193.9" width="9.6" height="9.6" fill="#000000"/><rect x="1385.8" y="204.1" width="9.6" height="9.6" fill="#000000"/><rect x="1383.4" y="214.3" width="9.6" height="9.6" fill="#000000"/><rect x="1382.3" y="224.5" width="9.6" height="9.6" fill="#000000"/><rect x="1378.8" y="234.7" width="9.6" height="9.6" fill="#000000"/><rect x="1371.0" y="244.8" width="9.6" height="9.6" fill="#000000"/><rect x="1367.4" y="255.0" width="9.6" height="9.6" fill="#000000"/><rect x="1367.1" y="265.2" width="9.6" height="9.6" fill="#000000"/><rect x="1366.7" y="275.4" width="9.6" height="9.6" fill="#000000"/><rect x="1366.3" y="285.6" width="9.6" height="9.6" fill="#000000"/><rect x="1365.6" y="295.8" width="9.6" height="9.6" fill="#000000"/><rect x="1365.2" y="306.0" width="9.6" height="9.6" fill="#000000"/><rect x="1364.7" y="316.2" width="9.6" height="9.6" fill="#000000"/><rect x="1364.0" y="326.4" width="9.6" height="9.6" fill="#000000"/><rect x="1363.2" y="336.5" width="9.6" height="9.6" fill="#000000"/><rect x="1362.4" y="346.7" width="9.6" height="9.6" fill="#000000"/><rect x="1362.0" y="356.9" width="9.6" height="9.6" fill="#000000"/><rect x="1361.7" y="367.1" width="9.6" height="9.6" fill="#000000"/><rect x="1361.3" y="377.3" width="9.6" height="9.6" fill="#000000"/><rect x="1361.2" y="387.5" width="9.6" height="9.6" fill="#000000"/><rect x="1361.2" y="397.7" width="9.6" height="9.6" fill="#000000"/><rect x="1361.2" y="407.9" width="9.6" height="9.6" fill="#000000"/><rect x="1361.2" y="418.1" width="9.6" height="9.6" fill="#000000"/>
<polyline points="1606.0,25.5 1606.0,35.7 1606.0,45.9 1606.0,56.1 1606.0,66.2 1606.0,76.4 1606.0,86.6 1605.6,96.8 1603.3,107.0 1601.3,117.2 1594.9,127.4 1575.0,137.6 1557.6,147.8 1549.6,157.9 1540.9,168.1 1529.7,178.3 1519.4,188.5 1515.4,198.7 1506.7,208.9 1494.8,219.1 1478.1,229.3 1459.8,239.5 1446.3,249.6 1432.3,259.8 1406.5,270.0 1386.6,280.2 1376.3,290.4 1358.8,300.6 1350.9,310.8 1346.9,321.0 1345.3,331.2 1345.0,341.3 1344.8,351.5 1344.8,361.7 1344.7,371.9 1344.7,382.1 1344.5,392.3 1344.5,402.5 1344.4,412.7 1344.4,422.9 1344.2,433.0" fill="none" stroke="#808080" stroke-width="5" stroke-linejoin="round"/><path d="M1606.0 16.9L1612.2 25.5L1606.0 34.1L1599.8 25.5Z" fill="#808080"/><path d="M1606.0 27.1L1612.2 35.7L1606.0 44.3L1599.8 35.7Z" fill="#808080"/><path d="M1606.0 37.3L1612.2 45.9L1606.0 54.5L1599.8 45.9Z" fill="#808080"/><path d="M1606.0 47.5L1612.2 56.1L1606.0 64.7L1599.8 56.1Z" fill="#808080"/><path d="M1606.0 57.6L1612.2 66.2L1606.0 74.8L1599.8 66.2Z" fill="#808080"/><path d="M1606.0 67.8L1612.2 76.4L1606.0 85.0L1599.8 76.4Z" fill="#808080"/><path d="M1606.0 78.0L1612.2 86.6L1606.0 95.2L1599.8 86.6Z" fill="#808080"/><path d="M1605.6 88.2L1611.8 96.8L1605.6 105.4L1599.4 96.8Z" fill="#808080"/><path d="M1603.3 98.4L1609.5 107.0L1603.3 115.6L1597.1 107.0Z" fill="#808080"/><path d="M1601.3 108.6L1607.5 117.2L1601.3 125.8L1595.1 117.2Z" fill="#808080"/><path d="M1594.9 118.8L1601.1 127.4L1594.9 136.0L1588.7 127.4Z" fill="#808080"/><path d="M1575.0 129.0L1581.2 137.6L1575.0 146.2L1568.8 137.6Z" fill="#808080"/><path d="M1557.6 139.2L1563.8 147.8L1557.6 156.4L1551.4 147.8Z" fill="#808080"/><path d="M1549.6 149.3L1555.8 157.9L1549.6 166.5L1543.4 157.9Z" fill="#808080"/><path d="M1540.9 159.5L1547.1 168.1L1540.9 176.7L1534.7 168.1Z" fill="#808080"/><path d="M1529.7 169.7L1535.9 178.3L1529.7 186.9L1523.5 178.3Z" fill="#808080"/><path d="M1519.4 179.9L1525.6 188.5L1519.4 197.1L1513.2 188.5Z" fill="#808080"/><path d="M1515.4 190.1L1521.6 198.7L1515.4 207.3L1509.2 198.7Z" fill="#808080"/><path d="M1506.7 200.3L1512.9 208.9L1506.7 217.5L1500.5 208.9Z" fill="#808080"/><path d="M1494.8 210.5L1501.0 219.1L1494.8 227.7L1488.6 219.1Z" fill="#808080"/><path d="M1478.1 220.7L1484.3 229.3L1478.1 237.9L1471.9 229.3Z" fill="#808080"/><path d="M1459.8 230.9L1466.0 239.5L1459.8 248.1L1453.6 239.5Z" fill="#808080"/><path d="M1446.3 241.0L1452.5 249.6L1446.3 258.2L1440.1 249.6Z" fill="#808080"/><path d="M1432.3 251.2L1438.5 259.8L1432.3 268.4L1426.1 259.8Z" fill="#808080"/><path d="M1406.5 261.4L1412.7 270.0L1406.5 278.6L1400.3 270.0Z" fill="#808080"/><path d="M1386.6 271.6L1392.8 280.2L1386.6 288.8L1380.4 280.2Z" fill="#808080"/><path d="M1376.3 281.8L1382.5 290.4L1376.3 299.0L1370.1 290.4Z" fill="#808080"/><path d="M1358.8 292.0L1365.0 300.6L1358.8 309.2L1352.6 300.6Z" fill="#808080"/><path d="M1350.9 302.2L1357.1 310.8L1350.9 319.4L1344.7 310.8Z" fill="#808080"/><path d="M1346.9 312.4L1353.1 321.0L1346.9 329.6L1340.7 321.0Z" fill="#808080"/><path d="M1345.3 322.6L1351.5 331.2L1345.3 339.8L1339.1 331.2Z" fill="#808080"/><path d="M1345.0 332.7L1351.2 341.3L1345.0 349.9L1338.8 341.3Z" fill="#808080"/><path d="M1344.8 342.9L1351.0 351.5L1344.8 360.1L1338.6 351.5Z" fill="#808080"/><path d="M1344.8 353.1L1351.0 361.7L1344.8 370.3L1338.6 361.7Z" fill="#808080"/><path d="M1344.7 363.3L1350.9 371.9L1344.7 380.5L1338.5 371.9Z" fill="#808080"/><path d="M1344.7 373.5L1350.9 382.1L1344.7 390.7L1338.5 382.1Z" fill="#808080"/><path d="M1344.5 383.7L1350.7 392.3L1344.5 400.9L1338.3 392.3Z" fill="#808080"/><path d="M1344.5 393.9L1350.7 402.5L1344.5 411.1L1338.3 402.5Z" fill="#808080"/><path d="M1344.4 404.1L1350.6 412.7L1344.4 421.3L1338.2 412.7Z" fill="#808080"/><path d="M1344.4 414.3L1350.6 422.9L1344.4 431.5L1338.2 422.9Z" fill="#808080"/><path d="M1344.2 424.4L1350.4 433.0L1344.2 441.6L1338.0 433.0Z" fill="#808080"/>
<text x="1304.4" y="513.8" text-anchor="middle">20</text>
<text x="1363.9" y="513.8" text-anchor="middle">22</text>
<text x="1423.3" y="513.8" text-anchor="middle">24</text>
<text x="1482.8" y="513.8" text-anchor="middle">26</text>
<text x="1542.2" y="513.8" text-anchor="middle">28</text>
<text x="1601.6" y="513.8" text-anchor="middle">30</text>
<text x="1661.1" y="513.8" text-anchor="middle">32</text>
<text x="1482.8" y="553.5" text-anchor="middle">Temperture/°C</text>
<text x="1586.9" y="456.9" class="k">B6</text>
</g>
<g id="p04">
<rect x="1710.7" y="15.3" width="356.0" height="458.5" fill="none" stroke="#262626" stroke-width="4.6"/>
<path d="M1710.7 66.2h10.2M2066.7 66.2h-10.2M1710.7 117.2h10.2M2066.7 117.2h-10.2M1710.7 168.1h10.2M2066.7 168.1h-10.2M1710.7 219.1h10.2M2066.7 219.1h-10.2M1710.7 270.0h10.2M2066.7 270.0h-10.2M1710.7 321.0h10.2M2066.7 321.0h-10.2M1710.7 371.9h10.2M2066.7 371.9h-10.2M1710.7 422.9h10.2M2066.7 422.9h-10.2M1770.0 15.3v10.2M1770.0 473.8v-10.2M1829.4 15.3v10.2M1829.4 473.8v-10.2M1888.7 15.3v10.2M1888.7 473.8v-10.2M1948.0 15.3v10.2M1948.0 473.8v-10.2M2007.4 15.3v10.2M2007.4 473.8v-10.2" stroke="#262626" stroke-width="4.6" fill="none"/>
<polyline points="1958.8,25.5 1959.6,35.7 1958.0,45.9 1951.6,56.1 1944.5,66.2 1936.5,76.4 1929.4,86.6 1922.2,96.8 1915.9,107.0 1909.5,117.2 1904.7,127.4 1896.8,137.6 1886.4,147.8 1869.8,157.9 1852.3,168.1 1841.1,178.3 1833.2,188.5 1826.8,198.7 1824.4,208.9 1824.4,219.1 1824.9,229.3 1824.9,239.5 1824.9,249.6 1824.9,259.8 1824.9,270.0" fill="none" stroke="#2323ec" stroke-width="5" stroke-linejoin="round"/><path d="M1954.1 25.5h9.4M1958.8 20.8v9.4M1954.9 35.7h9.4M1959.6 31.0v9.4M1953.3 45.9h9.4M1958.0 41.2v9.4M1946.9 56.1h9.4M1951.6 51.4v9.4M1939.8 66.2h9.4M1944.5 61.5v9.4M1931.8 76.4h9.4M1936.5 71.7v9.4M1924.7 86.6h9.4M1929.4 81.9v9.4M1917.5 96.8h9.4M1922.2 92.1v9.4M1911.2 107.0h9.4M1915.9 102.3v9.4M1904.8 117.2h9.4M1909.5 112.5v9.4M1900.0 127.4h9.4M1904.7 122.7v9.4M1892.1 137.6h9.4M1896.8 132.9v9.4M1881.7 147.8h9.4M1886.4 143.1v9.4M1865.1 157.9h9.4M1869.8 153.2v9.4M1847.6 168.1h9.4M1852.3 163.4v9.4M1836.4 178.3h9.4M1841.1 173.6v9.4M1828.5 188.5h9.4M1833.2 183.8v9.4M1822.1 198.7h9.4M1826.8 194.0v9.4M1819.7 208.9h9.4M1824.4 204.2v9.4M1819.7 219.1h9.4M1824.4 214.4v9.4M1820.2 229.3h9.4M1824.9 224.6v9.4M1820.2 239.5h9.4M1824.9 234.8v9.4M1820.2 249.6h9.4M1824.9 244.9v9.4M1820.2 259.8h9.4M1824.9 255.1v9.4M1820.2 270.0h9.4M1824.9 265.3v9.4" stroke="#2323ec" stroke-width="4.6" fill="none"/>
<polyline points="1958.0,25.5 1954.8,35.7 1950.0,45.9 1943.2,56.1 1934.6,66.2 1924.6,76.4 1914.3,86.6 1903.9,96.8 1894.9,107.0 1886.0,117.2 1877.4,127.4 1868.5,137.6 1859.9,147.8 1851.0,157.9 1842.7,168.1 1834.5,178.3 1826.0,188.5 1817.6,198.7 1810.1,208.9 1803.8,219.1 1798.1,229.3 1793.1,239.5 1789.5,249.6 1786.8,259.8 1787.9,270.0" fill="none" stroke="#a020f0" stroke-width="5" stroke-linejoin="round"/><circle cx="1958.0" cy="25.5" r="5.7" fill="#a020f0"/><circle cx="1954.8" cy="35.7" r="5.7" fill="#a020f0"/><circle cx="1950.0" cy="45.9" r="5.7" fill="#a020f0"/><circle cx="1943.2" cy="56.1" r="5.7" fill="#a020f0"/><circle cx="1934.6" cy="66.2" r="5.7" fill="#a020f0"/><circle cx="1924.6" cy="76.4" r="5.7" fill="#a020f0"/><circle cx="1914.3" cy="86.6" r="5.7" fill="#a020f0"/><circle cx="1903.9" cy="96.8" r="5.7" fill="#a020f0"/><circle cx="1894.9" cy="107.0" r="5.7" fill="#a020f0"/><circle cx="1886.0" cy="117.2" r="5.7" fill="#a020f0"/><circle cx="1877.4" cy="127.4" r="5.7" fill="#a020f0"/><circle cx="1868.5" cy="137.6" r="5.7" fill="#a020f0"/><circle cx="1859.9" cy="147.8" r="5.7" fill="#a020f0"/><circle cx="1851.0" cy="157.9" r="5.7" fill="#a020f0"/><circle cx="1842.7" cy="168.1" r="5.7" fill="#a020f0"/><circle cx="1834.5" cy="178.3" r="5.7" fill="#a020f0"/><circle cx="1826.0" cy="188.5" r="5.7" fill="#a020f0"/><circle cx="1817.6" cy="198.7" r="5.7" fill="#a020f0"/><circle cx="1810.1" cy="208.9" r="5.7" fill="#a020f0"/><circle cx="1803.8" cy="219.1" r="5.7" fill="#a020f0"/><circle cx="1798.1" cy="229.3" r="5.7" fill="#a020f0"/><circle cx="1793.1" cy="239.5" r="5.7" fill="#a020f0"/><circle cx="1789.5" cy="249.6" r="5.7" fill="#a020f0"/><circle cx="1786.8" cy="259.8" r="5.7" fill="#a020f0"/><circle cx="1787.9" cy="270.0" r="5.7" fill="#a020f0"/>
<polyline points="1942.1,25.5 1924.6,35.7 1904.7,45.9 1900.0,56.1 1890.4,66.2 1874.8,76.4 1859.4,86.6 1852.6,96.8 1846.7,107.0 1844.3,117.2 1837.6,127.4 1827.1,137.6 1819.7,147.8 1810.1,157.9 1799.8,168.1 1794.7,178.3 1793.4,188.5 1783.1,198.7 1775.2,208.9 1772.0,219.1 1771.3,229.3 1771.2,239.5 1771.2,249.6 1771.2,259.8 1771.5,270.0 1771.5,280.2 1771.5,290.4 1771.5,300.6 1771.5,310.8 1771.5,321.0 1771.5,331.2 1771.5,341.3 1771.5,351.5 1771.5,361.7 1771.5,371.9 1771.5,382.1 1771.5,392.3 1771.5,402.5 1771.5,412.7" fill="none" stroke="#000000" stroke-width="5" stroke-linejoin="round"/><rect x="1937.3" y="20.7" width="9.6" height="9.6" fill="#000000"/><rect x="1919.8" y="30.9" width="9.6" height="9.6" fill="#000000"/><rect x="1899.9" y="41.1" width="9.6" height="9.6" fill="#000000"/><rect x="1895.2" y="51.3" width="9.6" height="9.6" fill="#000000"/><rect x="1885.6" y="61.4" width="9.6" height="9.6" fill="#000000"/><rect x="1870.0" y="71.6" width="9.6" height="9.6" fill="#000000"/><rect x="1854.6" y="81.8" width="9.6" height="9.6" fill="#000000"/><rect x="1847.8" y="92.0" width="9.6" height="9.6" fill="#000000"/><rect x="1841.9" y="102.2" width="9.6" height="9.6" fill="#000000"/><rect x="1839.5" y="112.4" width="9.6" height="9.6" fill="#000000"/><rect x="1832.8" y="122.6" width="9.6" height="9.6" fill="#000000"/><rect x="1822.3" y="132.8" width="9.6" height="9.6" fill="#000000"/><rect x="1814.9" y="143.0" width="9.6" height="9.6" fill="#000000"/><rect x="1805.3" y="153.1" width="9.6" height="9.6" fill="#000000"/><rect x="1795.0" y="163.3" width="9.6" height="9.6" fill="#000000"/><rect x="1789.9" y="173.5" width="9.6" height="9.6" fill="#000000"/><rect x="1788.6" y="183.7" width="9.6" height="9.6" fill="#000000"/><rect x="1778.3" y="193.9" width="9.6" height="9.6" fill="#000000"/><rect x="1770.4" y="204.1" width="9.6" height="9.6" fill="#000000"/><rect x="1767.2" y="214.3" width="9.6" height="9.6" fill="#000000"/><rect x="1766.5" y="224.5" width="9.6" height="9.6" fill="#000000"/><rect x="1766.4" y="234.7" width="9.6" height="9.6" fill="#000000"/><rect x="1766.4" y="244.8" width="9.6" height="9.6" fill="#000000"/><rect x="1766.4" y="255.0" width="9.6" height="9.6" fill="#000000"/><rect x="1766.7" y="265.2" width="9.6" height="9.6" fill="#000000"/><rect x="1766.7" y="275.4" width="9.6" height="9.6" fill="#000000"/><rect x="1766.7" y="285.6" width="9.6" height="9.6" fill="#000000"/><rect x="1766.7" y="295.8" width="9.6" height="9.6" fill="#000000"/><rect x="1766.7" y="306.0" width="9.6" height="9.6" fill="#000000"/><rect x="1766.7" y="316.2" width="9.6" height="9.6" fill="#000000"/><rect x="1766.7" y="326.4" width="9.6" height="9.6" fill="#000000"/><rect x="1766.7" y="336.5" width="9.6" height="9.6" fill="#000000"/><rect x="1766.7" y="346.7" width="9.6" height="9.6" fill="#000000"/><rect x="1766.7" y="356.9" width="9.6" height="9.6" fill="#000000"/><rect x="1766.7" y="367.1" width="9.6" height="9.6" fill="#000000"/><rect x="1766.7" y="377.3" width="9.6" height="9.6" fill="#000000"/><rect x="1766.7" y="387.5" width="9.6" height="9.6" fill="#000000"/><rect x="1766.7" y="397.7" width="9.6" height="9.6" fill="#000000"/><rect x="1766.7" y="407.9" width="9.6" height="9.6" fill="#000000"/>
<polyline points="2007.3,25.5 2007.3,35.7 2007.6,45.9 2008.9,56.1 2008.1,66.2 2006.5,76.4 1997.7,86.6 1985.8,96.8 1978.7,107.0 1967.5,117.2 1950.0,127.4 1934.9,137.6 1924.6,147.8 1916.2,157.9 1896.0,168.1 1878.5,178.3 1874.5,188.5 1845.9,198.7 1828.4,208.9 1820.8,219.1 1809.2,229.3 1795.3,239.5 1790.7,249.6 1787.1,259.8 1780.4,270.0 1770.4,280.2 1758.5,290.4 1749.7,300.6 1746.5,310.8 1745.0,321.0 1744.6,331.2 1744.6,341.3 1744.6,351.5 1744.6,361.7 1744.6,371.9 1744.6,382.1 1744.6,392.3" fill="none" stroke="#808080" stroke-width="5" stroke-linejoin="round"/><path d="M2007.3 16.9L2013.5 25.5L2007.3 34.1L2001.1 25.5Z" fill="#808080"/><path d="M2007.3 27.1L2013.5 35.7L2007.3 44.3L2001.1 35.7Z" fill="#808080"/><path d="M2007.6 37.3L2013.8 45.9L2007.6 54.5L2001.4 45.9Z" fill="#808080"/><path d="M2008.9 47.5L2015.1 56.1L2008.9 64.7L2002.7 56.1Z" fill="#808080"/><path d="M2008.1 57.6L2014.3 66.2L2008.1 74.8L2001.9 66.2Z" fill="#808080"/><path d="M2006.5 67.8L2012.7 76.4L2006.5 85.0L2000.3 76.4Z" fill="#808080"/><path d="M1997.7 78.0L2003.9 86.6L1997.7 95.2L1991.5 86.6Z" fill="#808080"/><path d="M1985.8 88.2L1992.0 96.8L1985.8 105.4L1979.6 96.8Z" fill="#808080"/><path d="M1978.7 98.4L1984.9 107.0L1978.7 115.6L1972.5 107.0Z" fill="#808080"/><path d="M1967.5 108.6L1973.7 117.2L1967.5 125.8L1961.3 117.2Z" fill="#808080"/><path d="M1950.0 118.8L1956.2 127.4L1950.0 136.0L1943.8 127.4Z" fill="#808080"/><path d="M1934.9 129.0L1941.1 137.6L1934.9 146.2L1928.7 137.6Z" fill="#808080"/><path d="M1924.6 139.2L1930.8 147.8L1924.6 156.4L1918.4 147.8Z" fill="#808080"/><path d="M1916.2 149.3L1922.4 157.9L1916.2 166.5L1910.0 157.9Z" fill="#808080"/><path d="M1896.0 159.5L1902.2 168.1L1896.0 176.7L1889.8 168.1Z" fill="#808080"/><path d="M1878.5 169.7L1884.7 178.3L1878.5 186.9L1872.3 178.3Z" fill="#808080"/><path d="M1874.5 179.9L1880.7 188.5L1874.5 197.1L1868.3 188.5Z" fill="#808080"/><path d="M1845.9 190.1L1852.1 198.7L1845.9 207.3L1839.7 198.7Z" fill="#808080"/><path d="M1828.4 200.3L1834.6 208.9L1828.4 217.5L1822.2 208.9Z" fill="#808080"/><path d="M1820.8 210.5L1827.0 219.1L1820.8 227.7L1814.6 219.1Z" fill="#808080"/><path d="M1809.2 220.7L1815.4 229.3L1809.2 237.9L1803.0 229.3Z" fill="#808080"/><path d="M1795.3 230.9L1801.5 239.5L1795.3 248.1L1789.1 239.5Z" fill="#808080"/><path d="M1790.7 241.0L1796.9 249.6L1790.7 258.2L1784.5 249.6Z" fill="#808080"/><path d="M1787.1 251.2L1793.3 259.8L1787.1 268.4L1780.9 259.8Z" fill="#808080"/><path d="M1780.4 261.4L1786.6 270.0L1780.4 278.6L1774.2 270.0Z" fill="#808080"/><path d="M1770.4 271.6L1776.6 280.2L1770.4 288.8L1764.2 280.2Z" fill="#808080"/><path d="M1758.5 281.8L1764.7 290.4L1758.5 299.0L1752.3 290.4Z" fill="#808080"/><path d="M1749.7 292.0L1755.9 300.6L1749.7 309.2L1743.5 300.6Z" fill="#808080"/><path d="M1746.5 302.2L1752.7 310.8L1746.5 319.4L1740.3 310.8Z" fill="#808080"/><path d="M1745.0 312.4L1751.2 321.0L1745.0 329.6L1738.8 321.0Z" fill="#808080"/><path d="M1744.6 322.6L1750.8 331.2L1744.6 339.8L1738.4 331.2Z" fill="#808080"/><path d="M1744.6 332.7L1750.8 341.3L1744.6 349.9L1738.4 341.3Z" fill="#808080"/><path d="M1744.6 342.9L1750.8 351.5L1744.6 360.1L1738.4 351.5Z" fill="#808080"/><path d="M1744.6 353.1L1750.8 361.7L1744.6 370.3L1738.4 361.7Z" fill="#808080"/><path d="M1744.6 363.3L1750.8 371.9L1744.6 380.5L1738.4 371.9Z" fill="#808080"/><path d="M1744.6 373.5L1750.8 382.1L1744.6 390.7L1738.4 382.1Z" fill="#808080"/><path d="M1744.6 383.7L1750.8 392.3L1744.6 400.9L1738.4 392.3Z" fill="#808080"/>
<text x="1710.7" y="513.8" text-anchor="middle">20</text>
<text x="1770.0" y="513.8" text-anchor="middle">22</text>
<text x="1829.4" y="513.8" text-anchor="middle">24</text>
<text x="1888.7" y="513.8" text-anchor="middle">26</text>
<text x="1948.0" y="513.8" text-anchor="middle">28</text>
<text x="2007.4" y="513.8" text-anchor="middle">30</text>
<text x="2066.7" y="513.8" text-anchor="middle">32</text>
<text x="1888.7" y="553.5" text-anchor="middle">Temperture/°C</text>
<text x="1993.0" y="456.9" class="k">C2</text>
</g>
<g id="p05">
<rect x="2119.6" y="15.3" width="356.9" height="458.5" fill="none" stroke="#262626" stroke-width="4.6"/>
<path d="M2119.6 66.2h10.2M2476.5 66.2h-10.2M2119.6 117.2h10.2M2476.5 117.2h-10.2M2119.6 168.1h10.2M2476.5 168.1h-10.2M2119.6 219.1h10.2M2476.5 219.1h-10.2M2119.6 270.0h10.2M2476.5 270.0h-10.2M2119.6 321.0h10.2M2476.5 321.0h-10.2M2119.6 371.9h10.2M2476.5 371.9h-10.2M2119.6 422.9h10.2M2476.5 422.9h-10.2M2179.1 15.3v10.2M2179.1 473.8v-10.2M2238.6 15.3v10.2M2238.6 473.8v-10.2M2298.1 15.3v10.2M2298.1 473.8v-10.2M2357.5 15.3v10.2M2357.5 473.8v-10.2M2417.0 15.3v10.2M2417.0 473.8v-10.2" stroke="#262626" stroke-width="4.6" fill="none"/>
<polyline points="2371.8,25.5 2372.6,35.7 2373.3,45.9 2373.3,56.1 2372.6,66.2 2371.8,76.4 2370.2,86.6 2368.6,96.8 2366.2,107.0 2363.0,117.2 2359.0,127.4 2354.3,137.6 2348.7,147.8 2342.3,157.9 2335.2,168.1 2328.0,178.3 2320.1,188.5 2312.1,198.7 2304.2,208.9 2295.4,219.1 2287.5,229.3 2279.5,239.5 2271.6,249.6 2264.4,259.8 2258.9,270.0 2254.9,280.2 2250.9,290.4 2247.0,300.6 2242.2,310.8 2237.4,321.0 2232.6,331.2 2227.1,341.3 2223.1,351.5 2219.9,361.7 2217.5,371.9 2215.5,382.1 2213.9,392.3 2212.6,402.5 2211.5,412.7 2210.4,422.9 2209.4,433.0 2208.5,443.2 2207.8,453.4 2207.2,463.6 2206.9,473.8" fill="none" stroke="#2323ec" stroke-width="5" stroke-linejoin="round"/><path d="M2367.1 25.5h9.4M2371.8 20.8v9.4M2367.9 35.7h9.4M2372.6 31.0v9.4M2368.6 45.9h9.4M2373.3 41.2v9.4M2368.6 56.1h9.4M2373.3 51.4v9.4M2367.9 66.2h9.4M2372.6 61.5v9.4M2367.1 76.4h9.4M2371.8 71.7v9.4M2365.5 86.6h9.4M2370.2 81.9v9.4M2363.9 96.8h9.4M2368.6 92.1v9.4M2361.5 107.0h9.4M2366.2 102.3v9.4M2358.3 117.2h9.4M2363.0 112.5v9.4M2354.3 127.4h9.4M2359.0 122.7v9.4M2349.6 137.6h9.4M2354.3 132.9v9.4M2344.0 147.8h9.4M2348.7 143.1v9.4M2337.6 157.9h9.4M2342.3 153.2v9.4M2330.5 168.1h9.4M2335.2 163.4v9.4M2323.3 178.3h9.4M2328.0 173.6v9.4M2315.4 188.5h9.4M2320.1 183.8v9.4M2307.4 198.7h9.4M2312.1 194.0v9.4M2299.5 208.9h9.4M2304.2 204.2v9.4M2290.7 219.1h9.4M2295.4 214.4v9.4M2282.8 229.3h9.4M2287.5 224.6v9.4M2274.8 239.5h9.4M2279.5 234.8v9.4M2266.9 249.6h9.4M2271.6 244.9v9.4M2259.7 259.8h9.4M2264.4 255.1v9.4M2254.2 270.0h9.4M2258.9 265.3v9.4M2250.2 280.2h9.4M2254.9 275.5v9.4M2246.2 290.4h9.4M2250.9 285.7v9.4M2242.3 300.6h9.4M2247.0 295.9v9.4M2237.5 310.8h9.4M2242.2 306.1v9.4M2232.7 321.0h9.4M2237.4 316.3v9.4M2227.9 331.2h9.4M2232.6 326.5v9.4M2222.4 341.3h9.4M2227.1 336.6v9.4M2218.4 351.5h9.4M2223.1 346.8v9.4M2215.2 361.7h9.4M2219.9 357.0v9.4M2212.8 371.9h9.4M2217.5 367.2v9.4M2210.8 382.1h9.4M2215.5 377.4v9.4M2209.2 392.3h9.4M2213.9 387.6v9.4M2207.9 402.5h9.4M2212.6 397.8v9.4M2206.8 412.7h9.4M2211.5 408.0v9.4M2205.7 422.9h9.4M2210.4 418.2v9.4M2204.7 433.0h9.4M2209.4 428.3v9.4M2203.8 443.2h9.4M2208.5 438.5v9.4M2203.1 453.4h9.4M2207.8 448.7v9.4M2202.5 463.6h9.4M2207.2 458.9v9.4M2202.2 473.8h9.4M2206.9 469.1v9.4" stroke="#2323ec" stroke-width="4.6" fill="none"/>
<polyline points="2369.4,25.5 2369.4,35.7 2368.6,45.9 2367.0,56.1 2364.6,66.2 2362.2,76.4 2359.8,86.6 2357.4,96.8 2355.1,107.0 2352.7,117.2 2349.5,127.4 2345.2,137.6 2340.4,147.8 2334.4,157.9 2328.0,168.1 2321.7,178.3 2315.3,188.5 2308.2,198.7 2299.4,208.9 2290.7,219.1 2281.9,229.3 2274.0,239.5 2266.0,249.6 2258.9,259.8 2251.7,270.0 2244.6,280.2 2238.2,290.4 2231.9,300.6 2225.5,310.8 2219.1,321.0 2212.8,331.2 2207.2,341.3 2202.4,351.5 2197.7,361.7 2192.9,371.9 2189.7,382.1 2187.3,392.3 2185.0,402.5 2182.6,412.7 2180.2,422.9 2178.3,433.0 2176.7,443.2 2175.4,453.4 2174.6,463.6 2174.3,473.8" fill="none" stroke="#a020f0" stroke-width="5" stroke-linejoin="round"/><circle cx="2369.4" cy="25.5" r="5.7" fill="#a020f0"/><circle cx="2369.4" cy="35.7" r="5.7" fill="#a020f0"/><circle cx="2368.6" cy="45.9" r="5.7" fill="#a020f0"/><circle cx="2367.0" cy="56.1" r="5.7" fill="#a020f0"/><circle cx="2364.6" cy="66.2" r="5.7" fill="#a020f0"/><circle cx="2362.2" cy="76.4" r="5.7" fill="#a020f0"/><circle cx="2359.8" cy="86.6" r="5.7" fill="#a020f0"/><circle cx="2357.4" cy="96.8" r="5.7" fill="#a020f0"/><circle cx="2355.1" cy="107.0" r="5.7" fill="#a020f0"/><circle cx="2352.7" cy="117.2" r="5.7" fill="#a020f0"/><circle cx="2349.5" cy="127.4" r="5.7" fill="#a020f0"/><circle cx="2345.2" cy="137.6" r="5.7" fill="#a020f0"/><circle cx="2340.4" cy="147.8" r="5.7" fill="#a020f0"/><circle cx="2334.4" cy="157.9" r="5.7" fill="#a020f0"/><circle cx="2328.0" cy="168.1" r="5.7" fill="#a020f0"/><circle cx="2321.7" cy="178.3" r="5.7" fill="#a020f0"/><circle cx="2315.3" cy="188.5" r="5.7" fill="#a020f0"/><circle cx="2308.2" cy="198.7" r="5.7" fill="#a020f0"/><circle cx="2299.4" cy="208.9" r="5.7" fill="#a020f0"/><circle cx="2290.7" cy="219.1" r="5.7" fill="#a020f0"/><circle cx="2281.9" cy="229.3" r="5.7" fill="#a020f0"/><circle cx="2274.0" cy="239.5" r="5.7" fill="#a020f0"/><circle cx="2266.0" cy="249.6" r="5.7" fill="#a020f0"/><circle cx="2258.9" cy="259.8" r="5.7" fill="#a020f0"/><circle cx="2251.7" cy="270.0" r="5.7" fill="#a020f0"/><circle cx="2244.6" cy="280.2" r="5.7" fill="#a020f0"/><circle cx="2238.2" cy="290.4" r="5.7" fill="#a020f0"/><circle cx="2231.9" cy="300.6" r="5.7" fill="#a020f0"/><circle cx="2225.5" cy="310.8" r="5.7" fill="#a020f0"/><circle cx="2219.1" cy="321.0" r="5.7" fill="#a020f0"/><circle cx="2212.8" cy="331.2" r="5.7" fill="#a020f0"/><circle cx="2207.2" cy="341.3" r="5.7" fill="#a020f0"/><circle cx="2202.4" cy="351.5" r="5.7" fill="#a020f0"/><circle cx="2197.7" cy="361.7" r="5.7" fill="#a020f0"/><circle cx="2192.9" cy="371.9" r="5.7" fill="#a020f0"/><circle cx="2189.7" cy="382.1" r="5.7" fill="#a020f0"/><circle cx="2187.3" cy="392.3" r="5.7" fill="#a020f0"/><circle cx="2185.0" cy="402.5" r="5.7" fill="#a020f0"/><circle cx="2182.6" cy="412.7" r="5.7" fill="#a020f0"/><circle cx="2180.2" cy="422.9" r="5.7" fill="#a020f0"/><circle cx="2178.3" cy="433.0" r="5.7" fill="#a020f0"/><circle cx="2176.7" cy="443.2" r="5.7" fill="#a020f0"/><circle cx="2175.4" cy="453.4" r="5.7" fill="#a020f0"/><circle cx="2174.6" cy="463.6" r="5.7" fill="#a020f0"/><circle cx="2174.3" cy="473.8" r="5.7" fill="#a020f0"/>
<polyline points="2359.8,25.5 2359.8,35.7 2359.0,45.9 2359.0,56.1 2355.1,66.2 2351.1,76.4 2350.3,86.6 2340.8,96.8 2334.1,107.0 2327.2,117.2 2321.7,127.4 2321.7,137.6 2319.3,147.8 2318.5,157.9 2317.7,168.1 2314.5,178.3 2306.6,188.5 2301.0,198.7 2294.7,208.9 2270.0,219.1 2261.3,229.3 2251.7,239.5 2245.4,249.6 2238.2,259.8 2226.3,270.0 2224.7,280.2 2220.7,290.4 2217.5,300.6 2212.8,310.8 2200.9,321.0 2183.4,331.2 2172.6,341.3 2169.1,351.5 2167.8,361.7 2167.5,371.9 2167.5,382.1 2167.5,392.3 2167.5,402.5 2167.5,412.7 2167.5,422.9 2167.5,433.0 2167.5,443.2 2167.5,453.4" fill="none" stroke="#000000" stroke-width="5" stroke-linejoin="round"/><rect x="2355.0" y="20.7" width="9.6" height="9.6" fill="#000000"/><rect x="2355.0" y="30.9" width="9.6" height="9.6" fill="#000000"/><rect x="2354.2" y="41.1" width="9.6" height="9.6" fill="#000000"/><rect x="2354.2" y="51.3" width="9.6" height="9.6" fill="#000000"/><rect x="2350.3" y="61.4" width="9.6" height="9.6" fill="#000000"/><rect x="2346.3" y="71.6" width="9.6" height="9.6" fill="#000000"/><rect x="2345.5" y="81.8" width="9.6" height="9.6" fill="#000000"/><rect x="2336.0" y="92.0" width="9.6" height="9.6" fill="#000000"/><rect x="2329.3" y="102.2" width="9.6" height="9.6" fill="#000000"/><rect x="2322.4" y="112.4" width="9.6" height="9.6" fill="#000000"/><rect x="2316.9" y="122.6" width="9.6" height="9.6" fill="#000000"/><rect x="2316.9" y="132.8" width="9.6" height="9.6" fill="#000000"/><rect x="2314.5" y="143.0" width="9.6" height="9.6" fill="#000000"/><rect x="2313.7" y="153.1" width="9.6" height="9.6" fill="#000000"/><rect x="2312.9" y="163.3" width="9.6" height="9.6" fill="#000000"/><rect x="2309.7" y="173.5" width="9.6" height="9.6" fill="#000000"/><rect x="2301.8" y="183.7" width="9.6" height="9.6" fill="#000000"/><rect x="2296.2" y="193.9" width="9.6" height="9.6" fill="#000000"/><rect x="2289.9" y="204.1" width="9.6" height="9.6" fill="#000000"/><rect x="2265.2" y="214.3" width="9.6" height="9.6" fill="#000000"/><rect x="2256.5" y="224.5" width="9.6" height="9.6" fill="#000000"/><rect x="2246.9" y="234.7" width="9.6" height="9.6" fill="#000000"/><rect x="2240.6" y="244.8" width="9.6" height="9.6" fill="#000000"/><rect x="2233.4" y="255.0" width="9.6" height="9.6" fill="#000000"/><rect x="2221.5" y="265.2" width="9.6" height="9.6" fill="#000000"/><rect x="2219.9" y="275.4" width="9.6" height="9.6" fill="#000000"/><rect x="2215.9" y="285.6" width="9.6" height="9.6" fill="#000000"/><rect x="2212.7" y="295.8" width="9.6" height="9.6" fill="#000000"/><rect x="2208.0" y="306.0" width="9.6" height="9.6" fill="#000000"/><rect x="2196.1" y="316.2" width="9.6" height="9.6" fill="#000000"/><rect x="2178.6" y="326.4" width="9.6" height="9.6" fill="#000000"/><rect x="2167.8" y="336.5" width="9.6" height="9.6" fill="#000000"/><rect x="2164.3" y="346.7" width="9.6" height="9.6" fill="#000000"/><rect x="2163.0" y="356.9" width="9.6" height="9.6" fill="#000000"/><rect x="2162.7" y="367.1" width="9.6" height="9.6" fill="#000000"/><rect x="2162.7" y="377.3" width="9.6" height="9.6" fill="#000000"/><rect x="2162.7" y="387.5" width="9.6" height="9.6" fill="#000000"/><rect x="2162.7" y="397.7" width="9.6" height="9.6" fill="#000000"/><rect x="2162.7" y="407.9" width="9.6" height="9.6" fill="#000000"/><rect x="2162.7" y="418.1" width="9.6" height="9.6" fill="#000000"/><rect x="2162.7" y="428.2" width="9.6" height="9.6" fill="#000000"/><rect x="2162.7" y="438.4" width="9.6" height="9.6" fill="#000000"/><rect x="2162.7" y="448.6" width="9.6" height="9.6" fill="#000000"/>
<polyline points="2427.4,25.5 2427.4,35.7 2427.4,45.9 2427.4,56.1 2428.2,66.2 2429.8,76.4 2431.4,86.6 2432.2,96.8 2417.1,107.0 2409.1,117.2 2409.1,127.4 2400.4,137.6 2394.8,147.8 2388.4,157.9 2383.7,168.1 2373.3,178.3 2352.7,188.5 2347.1,198.7 2336.8,208.9 2328.8,219.1 2316.1,229.3 2310.5,239.5 2306.6,249.6 2303.4,259.8 2299.4,270.0 2295.4,280.2 2291.5,290.4 2287.5,300.6 2281.1,310.8 2271.6,321.0 2270.0,331.2 2221.5,341.3 2185.0,351.5 2182.6,361.7 2180.2,371.9 2178.6,382.1 2178.3,392.3 2178.1,402.5 2178.0,412.7 2178.0,422.9 2178.0,433.0 2178.0,443.2" fill="none" stroke="#808080" stroke-width="5" stroke-linejoin="round"/><path d="M2427.4 16.9L2433.6 25.5L2427.4 34.1L2421.2 25.5Z" fill="#808080"/><path d="M2427.4 27.1L2433.6 35.7L2427.4 44.3L2421.2 35.7Z" fill="#808080"/><path d="M2427.4 37.3L2433.6 45.9L2427.4 54.5L2421.2 45.9Z" fill="#808080"/><path d="M2427.4 47.5L2433.6 56.1L2427.4 64.7L2421.2 56.1Z" fill="#808080"/><path d="M2428.2 57.6L2434.4 66.2L2428.2 74.8L2422.0 66.2Z" fill="#808080"/><path d="M2429.8 67.8L2436.0 76.4L2429.8 85.0L2423.6 76.4Z" fill="#808080"/><path d="M2431.4 78.0L2437.6 86.6L2431.4 95.2L2425.2 86.6Z" fill="#808080"/><path d="M2432.2 88.2L2438.4 96.8L2432.2 105.4L2426.0 96.8Z" fill="#808080"/><path d="M2417.1 98.4L2423.3 107.0L2417.1 115.6L2410.9 107.0Z" fill="#808080"/><path d="M2409.1 108.6L2415.3 117.2L2409.1 125.8L2402.9 117.2Z" fill="#808080"/><path d="M2409.1 118.8L2415.3 127.4L2409.1 136.0L2402.9 127.4Z" fill="#808080"/><path d="M2400.4 129.0L2406.6 137.6L2400.4 146.2L2394.2 137.6Z" fill="#808080"/><path d="M2394.8 139.2L2401.0 147.8L2394.8 156.4L2388.6 147.8Z" fill="#808080"/><path d="M2388.4 149.3L2394.6 157.9L2388.4 166.5L2382.2 157.9Z" fill="#808080"/><path d="M2383.7 159.5L2389.9 168.1L2383.7 176.7L2377.5 168.1Z" fill="#808080"/><path d="M2373.3 169.7L2379.5 178.3L2373.3 186.9L2367.1 178.3Z" fill="#808080"/><path d="M2352.7 179.9L2358.9 188.5L2352.7 197.1L2346.5 188.5Z" fill="#808080"/><path d="M2347.1 190.1L2353.3 198.7L2347.1 207.3L2340.9 198.7Z" fill="#808080"/><path d="M2336.8 200.3L2343.0 208.9L2336.8 217.5L2330.6 208.9Z" fill="#808080"/><path d="M2328.8 210.5L2335.0 219.1L2328.8 227.7L2322.6 219.1Z" fill="#808080"/><path d="M2316.1 220.7L2322.3 229.3L2316.1 237.9L2309.9 229.3Z" fill="#808080"/><path d="M2310.5 230.9L2316.7 239.5L2310.5 248.1L2304.3 239.5Z" fill="#808080"/><path d="M2306.6 241.0L2312.8 249.6L2306.6 258.2L2300.4 249.6Z" fill="#808080"/><path d="M2303.4 251.2L2309.6 259.8L2303.4 268.4L2297.2 259.8Z" fill="#808080"/><path d="M2299.4 261.4L2305.6 270.0L2299.4 278.6L2293.2 270.0Z" fill="#808080"/><path d="M2295.4 271.6L2301.6 280.2L2295.4 288.8L2289.2 280.2Z" fill="#808080"/><path d="M2291.5 281.8L2297.7 290.4L2291.5 299.0L2285.3 290.4Z" fill="#808080"/><path d="M2287.5 292.0L2293.7 300.6L2287.5 309.2L2281.3 300.6Z" fill="#808080"/><path d="M2281.1 302.2L2287.3 310.8L2281.1 319.4L2274.9 310.8Z" fill="#808080"/><path d="M2271.6 312.4L2277.8 321.0L2271.6 329.6L2265.4 321.0Z" fill="#808080"/><path d="M2270.0 322.6L2276.2 331.2L2270.0 339.8L2263.8 331.2Z" fill="#808080"/><path d="M2221.5 332.7L2227.7 341.3L2221.5 349.9L2215.3 341.3Z" fill="#808080"/><path d="M2185.0 342.9L2191.2 351.5L2185.0 360.1L2178.8 351.5Z" fill="#808080"/><path d="M2182.6 353.1L2188.8 361.7L2182.6 370.3L2176.4 361.7Z" fill="#808080"/><path d="M2180.2 363.3L2186.4 371.9L2180.2 380.5L2174.0 371.9Z" fill="#808080"/><path d="M2178.6 373.5L2184.8 382.1L2178.6 390.7L2172.4 382.1Z" fill="#808080"/><path d="M2178.3 383.7L2184.5 392.3L2178.3 400.9L2172.1 392.3Z" fill="#808080"/><path d="M2178.1 393.9L2184.3 402.5L2178.1 411.1L2171.9 402.5Z" fill="#808080"/><path d="M2178.0 404.1L2184.2 412.7L2178.0 421.3L2171.8 412.7Z" fill="#808080"/><path d="M2178.0 414.3L2184.2 422.9L2178.0 431.5L2171.8 422.9Z" fill="#808080"/><path d="M2178.0 424.4L2184.2 433.0L2178.0 441.6L2171.8 433.0Z" fill="#808080"/><path d="M2178.0 434.6L2184.2 443.2L2178.0 451.8L2171.8 443.2Z" fill="#808080"/>
<text x="2119.6" y="513.8" text-anchor="middle">20</text>
<text x="2179.1" y="513.8" text-anchor="middle">22</text>
<text x="2238.6" y="513.8" text-anchor="middle">24</text>
<text x="2298.1" y="513.8" text-anchor="middle">26</text>
<text x="2357.5" y="513.8" text-anchor="middle">28</text>
<text x="2417.0" y="513.8" text-anchor="middle">30</text>
<text x="2476.5" y="513.8" text-anchor="middle">32</text>
<text x="2298.1" y="553.5" text-anchor="middle">Temperture/°C</text>
<text x="2402.0" y="456.9" class="k">C5</text>
</g>
<g id="p10">
<rect x="82.5" y="593.85" width="356.3" height="461.4" fill="none" stroke="#262626" stroke-width="4.6"/>
<path d="M82.5 645.1h10.2M438.8 645.1h-10.2M82.5 696.4h10.2M438.8 696.4h-10.2M82.5 747.7h10.2M438.8 747.7h-10.2M82.5 798.9h10.2M438.8 798.9h-10.2M82.5 850.2h10.2M438.8 850.2h-10.2M82.5 901.5h10.2M438.8 901.5h-10.2M82.5 952.8h10.2M438.8 952.8h-10.2M82.5 1004.0h10.2M438.8 1004.0h-10.2M133.4 593.85v10.2M133.4 1055.3v-10.2M184.3 593.85v10.2M184.3 1055.3v-10.2M235.2 593.85v10.2M235.2 1055.3v-10.2M286.1 593.85v10.2M286.1 1055.3v-10.2M337.0 593.85v10.2M337.0 1055.3v-10.2M387.9 593.85v10.2M387.9 1055.3v-10.2" stroke="#262626" stroke-width="4.6" fill="none"/>
<polyline points="256.9,604.1 247.3,614.4 217.9,624.6 162.3,634.9 129.7,645.1 125.7,655.4 135.2,665.6 151.9,675.9 174.2,686.1 189.3,696.4 191.7,706.6 191.7,716.9 191.7,727.2" fill="none" stroke="#2323ec" stroke-width="5" stroke-linejoin="round"/><path d="M252.2 604.1h9.4M256.9 599.4v9.4M242.6 614.4h9.4M247.3 609.7v9.4M213.2 624.6h9.4M217.9 619.9v9.4M157.6 634.9h9.4M162.3 630.2v9.4M125.0 645.1h9.4M129.7 640.4v9.4M121.0 655.4h9.4M125.7 650.7v9.4M130.5 665.6h9.4M135.2 660.9v9.4M147.2 675.9h9.4M151.9 671.2v9.4M169.5 686.1h9.4M174.2 681.4v9.4M184.6 696.4h9.4M189.3 691.7v9.4M187.0 706.6h9.4M191.7 701.9v9.4M187.0 716.9h9.4M191.7 712.2v9.4M187.0 727.2h9.4M191.7 722.5v9.4" stroke="#2323ec" stroke-width="4.6" fill="none"/>
<polyline points="346.7,604.1 322.4,614.4 283.6,624.6 248.9,634.9 241.0,645.1 254.2,655.4 256.4,665.6 246.8,675.9 222.4,686.1 202.3,696.4 186.9,706.6" fill="none" stroke="#a020f0" stroke-width="5" stroke-linejoin="round"/><circle cx="346.7" cy="604.1" r="5.7" fill="#a020f0"/><circle cx="322.4" cy="614.4" r="5.7" fill="#a020f0"/><circle cx="283.6" cy="624.6" r="5.7" fill="#a020f0"/><circle cx="248.9" cy="634.9" r="5.7" fill="#a020f0"/><circle cx="241.0" cy="645.1" r="5.7" fill="#a020f0"/><circle cx="254.2" cy="655.4" r="5.7" fill="#a020f0"/><circle cx="256.4" cy="665.6" r="5.7" fill="#a020f0"/><circle cx="246.8" cy="675.9" r="5.7" fill="#a020f0"/><circle cx="222.4" cy="686.1" r="5.7" fill="#a020f0"/><circle cx="202.3" cy="696.4" r="5.7" fill="#a020f0"/><circle cx="186.9" cy="706.6" r="5.7" fill="#a020f0"/>
<polyline points="252.1,604.1 236.2,614.4 196.4,624.6 178.2,634.9 200.1,645.1 217.6,655.4 187.4,665.6 213.9,675.9" fill="none" stroke="#000000" stroke-width="5" stroke-linejoin="round"/><rect x="247.3" y="599.3" width="9.6" height="9.6" fill="#000000"/><rect x="231.4" y="609.6" width="9.6" height="9.6" fill="#000000"/><rect x="191.6" y="619.8" width="9.6" height="9.6" fill="#000000"/><rect x="173.4" y="630.1" width="9.6" height="9.6" fill="#000000"/><rect x="195.3" y="640.3" width="9.6" height="9.6" fill="#000000"/><rect x="212.8" y="650.6" width="9.6" height="9.6" fill="#000000"/><rect x="182.6" y="660.8" width="9.6" height="9.6" fill="#000000"/><rect x="209.1" y="671.1" width="9.6" height="9.6" fill="#000000"/>
<polyline points="380.5,604.1 350.2,614.4 425.7,624.6" fill="none" stroke="#808080" stroke-width="5" stroke-linejoin="round"/><path d="M380.5 595.5L386.7 604.1L380.5 612.7L374.3 604.1Z" fill="#808080"/><path d="M350.2 605.8L356.4 614.4L350.2 623.0L344.0 614.4Z" fill="#808080"/><path d="M425.7 616.0L431.9 624.6L425.7 633.2L419.5 624.6Z" fill="#808080"/>
<text x="82.5" y="1095.3" text-anchor="middle">0</text>
<text x="133.4" y="1095.3" text-anchor="middle">1</text>
<text x="184.3" y="1095.3" text-anchor="middle">2</text>
<text x="235.2" y="1095.3" text-anchor="middle">3</text>
<text x="286.1" y="1095.3" text-anchor="middle">4</text>
<text x="337.0" y="1095.3" text-anchor="middle">5</text>
<text x="387.9" y="1095.3" text-anchor="middle">6</text>
<text x="438.8" y="1095.3" text-anchor="middle">7</text>
<text x="74.8" y="606.6" text-anchor="end">0</text>
<text x="74.8" y="657.9" text-anchor="end">5</text>
<text x="74.8" y="709.2" text-anchor="end">10</text>
<text x="74.8" y="760.5" text-anchor="end">15</text>
<text x="74.8" y="811.7" text-anchor="end">20</text>
<text x="74.8" y="863.0" text-anchor="end">25</text>
<text x="74.8" y="914.3" text-anchor="end">30</text>
<text x="74.8" y="965.6" text-anchor="end">35</text>
<text x="74.8" y="1016.8" text-anchor="end">40</text>
<text x="74.8" y="1068.1" text-anchor="end">45</text>
<text transform="translate(28.3,824.6) rotate(-90)" text-anchor="middle">Depth/m</text>
<text x="260.6" y="1147.9" text-anchor="middle">Chla/mg m<tspan dy="-18" dx="1.2" font-size="27">-3</tspan></text>
<text x="363.2" y="1037.2" class="k">A1</text>
<rect x="97.2" y="815.8" width="352.1" height="182.1" fill="#fff" stroke="#262626" stroke-width="2.1"/>
<path d="M112.6 843.4H261.6" stroke="#2323ec" stroke-width="5"/>
<path d="M187.1 838.4v10.0" stroke="#2323ec" stroke-width="4.8"/>
<text x="273.5" y="855.8" font-size="35" class="k">SCSOFSv2</text>
<path d="M112.6 885.7H261.6" stroke="#a020f0" stroke-width="5"/>
<circle cx="187.1" cy="885.7" r="6.1000000000000005" fill="#a020f0"/>
<text x="273.5" y="898.1" font-size="35" class="k">MO</text>
<path d="M112.6 928.0H261.6" stroke="#000000" stroke-width="5"/>
<rect x="182.3" y="923.2" width="9.6" height="9.6" fill="#000000"/>
<text x="273.5" y="940.4" font-size="35" class="k">Obs21</text>
<path d="M112.6 970.3H261.6" stroke="#808080" stroke-width="5"/>
<path d="M187.1 961.9L192.3 970.3L187.1 978.7L181.9 970.3Z" fill="#808080"/>
<text x="273.5" y="982.7" font-size="35" class="k">Obs22</text>
</g>
<g id="p11">
<rect x="489.1" y="593.85" width="356.0" height="461.4" fill="none" stroke="#262626" stroke-width="4.6"/>
<path d="M489.1 645.1h10.2M845.1 645.1h-10.2M489.1 696.4h10.2M845.1 696.4h-10.2M489.1 747.7h10.2M845.1 747.7h-10.2M489.1 798.9h10.2M845.1 798.9h-10.2M489.1 850.2h10.2M845.1 850.2h-10.2M489.1 901.5h10.2M845.1 901.5h-10.2M489.1 952.8h10.2M845.1 952.8h-10.2M489.1 1004.0h10.2M845.1 1004.0h-10.2M578.1 593.85v10.2M578.1 1055.3v-10.2M667.1 593.85v10.2M667.1 1055.3v-10.2M756.1 593.85v10.2M756.1 1055.3v-10.2" stroke="#262626" stroke-width="4.6" fill="none"/>
<polyline points="587.5,604.1 588.0,614.4 587.5,624.6 586.7,634.9 585.2,645.1 581.2,655.4 566.1,665.6 541.0,675.9 523.2,686.1 517.6,696.4 520.0,706.6 527.9,716.9 539.1,727.2 551.8,737.4 566.1,747.7 582.0,757.9 598.7,768.2 614.6,778.4 629.7,788.7 644.0,798.9 653.7,809.2 656.4,819.4 656.4,829.7 655.6,840.0 654.8,850.2 654.8,860.5 655.1,870.7 655.1,881.0 655.1,891.2 655.1,901.5" fill="none" stroke="#2323ec" stroke-width="5" stroke-linejoin="round"/><path d="M582.8 604.1h9.4M587.5 599.4v9.4M583.3 614.4h9.4M588.0 609.7v9.4M582.8 624.6h9.4M587.5 619.9v9.4M582.0 634.9h9.4M586.7 630.2v9.4M580.5 645.1h9.4M585.2 640.4v9.4M576.5 655.4h9.4M581.2 650.7v9.4M561.4 665.6h9.4M566.1 660.9v9.4M536.3 675.9h9.4M541.0 671.2v9.4M518.5 686.1h9.4M523.2 681.4v9.4M512.9 696.4h9.4M517.6 691.7v9.4M515.3 706.6h9.4M520.0 701.9v9.4M523.2 716.9h9.4M527.9 712.2v9.4M534.4 727.2h9.4M539.1 722.5v9.4M547.1 737.4h9.4M551.8 732.7v9.4M561.4 747.7h9.4M566.1 743.0v9.4M577.3 757.9h9.4M582.0 753.2v9.4M594.0 768.2h9.4M598.7 763.5v9.4M609.9 778.4h9.4M614.6 773.7v9.4M625.0 788.7h9.4M629.7 784.0v9.4M639.3 798.9h9.4M644.0 794.2v9.4M649.0 809.2h9.4M653.7 804.5v9.4M651.7 819.4h9.4M656.4 814.7v9.4M651.7 829.7h9.4M656.4 825.0v9.4M650.9 840.0h9.4M655.6 835.3v9.4M650.1 850.2h9.4M654.8 845.5v9.4M650.1 860.5h9.4M654.8 855.8v9.4M650.4 870.7h9.4M655.1 866.0v9.4M650.4 881.0h9.4M655.1 876.3v9.4M650.4 891.2h9.4M655.1 886.5v9.4M650.4 901.5h9.4M655.1 896.8v9.4" stroke="#2323ec" stroke-width="4.6" fill="none"/>
<polyline points="775.9,604.1 750.2,614.4 702.8,624.6 647.5,634.9 609.3,645.1 597.9,655.4 596.3,665.6 602.6,675.9 623.3,686.1 650.0,696.4 683.4,706.6 712.7,716.9 739.7,727.2 749.7,737.4 745.4,747.7 738.1,757.9 720.0,768.2 700.7,778.4 682.1,788.7 663.4,798.9 644.8,809.2 627.3,819.4 612.7,829.7 598.7,840.0 582.0,850.2" fill="none" stroke="#a020f0" stroke-width="5" stroke-linejoin="round"/><circle cx="775.9" cy="604.1" r="5.7" fill="#a020f0"/><circle cx="750.2" cy="614.4" r="5.7" fill="#a020f0"/><circle cx="702.8" cy="624.6" r="5.7" fill="#a020f0"/><circle cx="647.5" cy="634.9" r="5.7" fill="#a020f0"/><circle cx="609.3" cy="645.1" r="5.7" fill="#a020f0"/><circle cx="597.9" cy="655.4" r="5.7" fill="#a020f0"/><circle cx="596.3" cy="665.6" r="5.7" fill="#a020f0"/><circle cx="602.6" cy="675.9" r="5.7" fill="#a020f0"/><circle cx="623.3" cy="686.1" r="5.7" fill="#a020f0"/><circle cx="650.0" cy="696.4" r="5.7" fill="#a020f0"/><circle cx="683.4" cy="706.6" r="5.7" fill="#a020f0"/><circle cx="712.7" cy="716.9" r="5.7" fill="#a020f0"/><circle cx="739.7" cy="727.2" r="5.7" fill="#a020f0"/><circle cx="749.7" cy="737.4" r="5.7" fill="#a020f0"/><circle cx="745.4" cy="747.7" r="5.7" fill="#a020f0"/><circle cx="738.1" cy="757.9" r="5.7" fill="#a020f0"/><circle cx="720.0" cy="768.2" r="5.7" fill="#a020f0"/><circle cx="700.7" cy="778.4" r="5.7" fill="#a020f0"/><circle cx="682.1" cy="788.7" r="5.7" fill="#a020f0"/><circle cx="663.4" cy="798.9" r="5.7" fill="#a020f0"/><circle cx="644.8" cy="809.2" r="5.7" fill="#a020f0"/><circle cx="627.3" cy="819.4" r="5.7" fill="#a020f0"/><circle cx="612.7" cy="829.7" r="5.7" fill="#a020f0"/><circle cx="598.7" cy="840.0" r="5.7" fill="#a020f0"/><circle cx="582.0" cy="850.2" r="5.7" fill="#a020f0"/>
<polyline points="527.6,604.1 525.5,614.4 516.5,624.6 514.4,634.9 505.3,645.1 504.9,655.4 504.4,665.6 504.1,675.9 504.1,686.1 503.8,696.4 502.2,706.6 519.2,716.9 537.5,727.2 551.8,737.4 555.0,747.7 558.9,757.9 561.3,768.2 567.7,778.4 616.2,788.7 588.3,798.9 586.0,809.2 581.2,819.4 575.6,829.7 556.7,840.0 553.0,850.2 553.7,860.5 553.0,870.7 543.5,881.0 543.8,891.2" fill="none" stroke="#000000" stroke-width="5" stroke-linejoin="round"/><rect x="522.8" y="599.3" width="9.6" height="9.6" fill="#000000"/><rect x="520.7" y="609.6" width="9.6" height="9.6" fill="#000000"/><rect x="511.7" y="619.8" width="9.6" height="9.6" fill="#000000"/><rect x="509.6" y="630.1" width="9.6" height="9.6" fill="#000000"/><rect x="500.5" y="640.3" width="9.6" height="9.6" fill="#000000"/><rect x="500.1" y="650.6" width="9.6" height="9.6" fill="#000000"/><rect x="499.6" y="660.8" width="9.6" height="9.6" fill="#000000"/><rect x="499.3" y="671.1" width="9.6" height="9.6" fill="#000000"/><rect x="499.3" y="681.3" width="9.6" height="9.6" fill="#000000"/><rect x="499.0" y="691.6" width="9.6" height="9.6" fill="#000000"/><rect x="497.4" y="701.8" width="9.6" height="9.6" fill="#000000"/><rect x="514.4" y="712.1" width="9.6" height="9.6" fill="#000000"/><rect x="532.7" y="722.4" width="9.6" height="9.6" fill="#000000"/><rect x="547.0" y="732.6" width="9.6" height="9.6" fill="#000000"/><rect x="550.2" y="742.9" width="9.6" height="9.6" fill="#000000"/><rect x="554.1" y="753.1" width="9.6" height="9.6" fill="#000000"/><rect x="556.5" y="763.4" width="9.6" height="9.6" fill="#000000"/><rect x="562.9" y="773.6" width="9.6" height="9.6" fill="#000000"/><rect x="611.4" y="783.9" width="9.6" height="9.6" fill="#000000"/><rect x="583.5" y="794.1" width="9.6" height="9.6" fill="#000000"/><rect x="581.2" y="804.4" width="9.6" height="9.6" fill="#000000"/><rect x="576.4" y="814.6" width="9.6" height="9.6" fill="#000000"/><rect x="570.8" y="824.9" width="9.6" height="9.6" fill="#000000"/><rect x="551.9" y="835.2" width="9.6" height="9.6" fill="#000000"/><rect x="548.2" y="845.4" width="9.6" height="9.6" fill="#000000"/><rect x="548.9" y="855.7" width="9.6" height="9.6" fill="#000000"/><rect x="548.2" y="865.9" width="9.6" height="9.6" fill="#000000"/><rect x="538.7" y="876.2" width="9.6" height="9.6" fill="#000000"/><rect x="539.0" y="886.4" width="9.6" height="9.6" fill="#000000"/>
<polyline points="564.2,604.1 530.3,614.4 535.9,624.6 531.1,634.9 522.4,645.1 515.2,655.4 512.8,665.6 511.2,675.9 510.4,686.1 511.2,696.4 508.8,706.6 509.6,716.9 510.4,727.2 510.8,737.4 510.8,747.7 510.8,757.9 511.2,768.2 510.8,778.4 510.4,788.7 510.8,798.9 517.6,809.2 530.3,819.4 547.0,829.7 580.2,840.0 586.4,850.2 577.2,860.5 583.1,870.7 675.8,881.0 728.2,891.2" fill="none" stroke="#808080" stroke-width="5" stroke-linejoin="round"/><path d="M564.2 595.5L570.4 604.1L564.2 612.7L558.0 604.1Z" fill="#808080"/><path d="M530.3 605.8L536.5 614.4L530.3 623.0L524.1 614.4Z" fill="#808080"/><path d="M535.9 616.0L542.1 624.6L535.9 633.2L529.7 624.6Z" fill="#808080"/><path d="M531.1 626.3L537.3 634.9L531.1 643.5L524.9 634.9Z" fill="#808080"/><path d="M522.4 636.5L528.6 645.1L522.4 653.7L516.2 645.1Z" fill="#808080"/><path d="M515.2 646.8L521.4 655.4L515.2 664.0L509.0 655.4Z" fill="#808080"/><path d="M512.8 657.0L519.0 665.6L512.8 674.2L506.6 665.6Z" fill="#808080"/><path d="M511.2 667.3L517.4 675.9L511.2 684.5L505.0 675.9Z" fill="#808080"/><path d="M510.4 677.5L516.6 686.1L510.4 694.7L504.2 686.1Z" fill="#808080"/><path d="M511.2 687.8L517.4 696.4L511.2 705.0L505.0 696.4Z" fill="#808080"/><path d="M508.8 698.0L515.0 706.6L508.8 715.2L502.6 706.6Z" fill="#808080"/><path d="M509.6 708.3L515.8 716.9L509.6 725.5L503.4 716.9Z" fill="#808080"/><path d="M510.4 718.6L516.6 727.2L510.4 735.8L504.2 727.2Z" fill="#808080"/><path d="M510.8 728.8L517.0 737.4L510.8 746.0L504.6 737.4Z" fill="#808080"/><path d="M510.8 739.1L517.0 747.7L510.8 756.3L504.6 747.7Z" fill="#808080"/><path d="M510.8 749.3L517.0 757.9L510.8 766.5L504.6 757.9Z" fill="#808080"/><path d="M511.2 759.6L517.4 768.2L511.2 776.8L505.0 768.2Z" fill="#808080"/><path d="M510.8 769.8L517.0 778.4L510.8 787.0L504.6 778.4Z" fill="#808080"/><path d="M510.4 780.1L516.6 788.7L510.4 797.3L504.2 788.7Z" fill="#808080"/><path d="M510.8 790.3L517.0 798.9L510.8 807.5L504.6 798.9Z" fill="#808080"/><path d="M517.6 800.6L523.8 809.2L517.6 817.8L511.4 809.2Z" fill="#808080"/><path d="M530.3 810.8L536.5 819.4L530.3 828.0L524.1 819.4Z" fill="#808080"/><path d="M547.0 821.1L553.2 829.7L547.0 838.3L540.8 829.7Z" fill="#808080"/><path d="M580.2 831.4L586.4 840.0L580.2 848.6L574.0 840.0Z" fill="#808080"/><path d="M586.4 841.6L592.6 850.2L586.4 858.8L580.2 850.2Z" fill="#808080"/><path d="M577.2 851.9L583.4 860.5L577.2 869.1L571.0 860.5Z" fill="#808080"/><path d="M583.1 862.1L589.3 870.7L583.1 879.3L576.9 870.7Z" fill="#808080"/><path d="M675.8 872.4L682.0 881.0L675.8 889.6L669.6 881.0Z" fill="#808080"/><path d="M728.2 882.6L734.4 891.2L728.2 899.8L722.0 891.2Z" fill="#808080"/>
<text x="489.1" y="1095.3" text-anchor="middle">0</text>
<text x="578.1" y="1095.3" text-anchor="middle">1</text>
<text x="667.1" y="1095.3" text-anchor="middle">2</text>
<text x="756.1" y="1095.3" text-anchor="middle">3</text>
<text x="845.1" y="1095.3" text-anchor="middle">4</text>
<text x="667.1" y="1147.9" text-anchor="middle">Chla/mg m<tspan dy="-18" dx="1.2" font-size="27">-3</tspan></text>
<text x="774.2" y="1037.2" class="k">A4</text>
</g>
<g id="p12">
<rect x="897.8" y="593.85" width="356.6" height="461.4" fill="none" stroke="#262626" stroke-width="4.6"/>
<path d="M897.8 645.1h10.2M1254.4 645.1h-10.2M897.8 696.4h10.2M1254.4 696.4h-10.2M897.8 747.7h10.2M1254.4 747.7h-10.2M897.8 798.9h10.2M1254.4 798.9h-10.2M897.8 850.2h10.2M1254.4 850.2h-10.2M897.8 901.5h10.2M1254.4 901.5h-10.2M897.8 952.8h10.2M1254.4 952.8h-10.2M897.8 1004.0h10.2M1254.4 1004.0h-10.2M969.1 593.85v10.2M969.1 1055.3v-10.2M1040.4 593.85v10.2M1040.4 1055.3v-10.2M1111.8 593.85v10.2M1111.8 1055.3v-10.2M1183.1 593.85v10.2M1183.1 1055.3v-10.2" stroke="#262626" stroke-width="4.6" fill="none"/>
<polyline points="1239.6,604.1 1234.0,614.4 1221.8,624.6 1187.1,634.9 1112.1,645.1 1033.7,655.4 1009.9,665.6 1009.1,675.9 1005.9,686.1" fill="none" stroke="#2323ec" stroke-width="5" stroke-linejoin="round"/><path d="M1234.9 604.1h9.4M1239.6 599.4v9.4M1229.3 614.4h9.4M1234.0 609.7v9.4M1217.1 624.6h9.4M1221.8 619.9v9.4M1182.4 634.9h9.4M1187.1 630.2v9.4M1107.4 645.1h9.4M1112.1 640.4v9.4M1029.0 655.4h9.4M1033.7 650.7v9.4M1005.2 665.6h9.4M1009.9 660.9v9.4M1004.4 675.9h9.4M1009.1 671.2v9.4M1001.2 686.1h9.4M1005.9 681.4v9.4" stroke="#2323ec" stroke-width="4.6" fill="none"/>
<polyline points="1245.9,604.1 1220.2,614.4 1169.9,624.6 1123.5,634.9 1123.5,645.1 1158.5,655.4 1145.8,665.6 1094.1,675.9 1059.6,686.1 1030.5,696.4 1010.6,706.6" fill="none" stroke="#a020f0" stroke-width="5" stroke-linejoin="round"/><circle cx="1245.9" cy="604.1" r="5.7" fill="#a020f0"/><circle cx="1220.2" cy="614.4" r="5.7" fill="#a020f0"/><circle cx="1169.9" cy="624.6" r="5.7" fill="#a020f0"/><circle cx="1123.5" cy="634.9" r="5.7" fill="#a020f0"/><circle cx="1123.5" cy="645.1" r="5.7" fill="#a020f0"/><circle cx="1158.5" cy="655.4" r="5.7" fill="#a020f0"/><circle cx="1145.8" cy="665.6" r="5.7" fill="#a020f0"/><circle cx="1094.1" cy="675.9" r="5.7" fill="#a020f0"/><circle cx="1059.6" cy="686.1" r="5.7" fill="#a020f0"/><circle cx="1030.5" cy="696.4" r="5.7" fill="#a020f0"/><circle cx="1010.6" cy="706.6" r="5.7" fill="#a020f0"/>
<polyline points="1054.8,604.1 1043.7,614.4 1075.8,624.6 1037.7,634.9 982.0,645.1 959.0,655.4 960.1,665.6" fill="none" stroke="#000000" stroke-width="5" stroke-linejoin="round"/><rect x="1050.0" y="599.3" width="9.6" height="9.6" fill="#000000"/><rect x="1038.9" y="609.6" width="9.6" height="9.6" fill="#000000"/><rect x="1071.0" y="619.8" width="9.6" height="9.6" fill="#000000"/><rect x="1032.9" y="630.1" width="9.6" height="9.6" fill="#000000"/><rect x="977.2" y="640.3" width="9.6" height="9.6" fill="#000000"/><rect x="954.2" y="650.6" width="9.6" height="9.6" fill="#000000"/><rect x="955.3" y="660.8" width="9.6" height="9.6" fill="#000000"/>
<polyline points="950.6,604.1 960.6,614.4 976.5,624.6 979.3,634.9 981.2,645.1 992.0,655.4 992.4,665.6 1043.2,675.9 1078.2,686.1 1055.2,696.4 1043.7,706.6 1045.6,716.9 1049.6,727.2 1053.9,737.4" fill="none" stroke="#808080" stroke-width="5" stroke-linejoin="round"/><path d="M950.6 595.5L956.8 604.1L950.6 612.7L944.4 604.1Z" fill="#808080"/><path d="M960.6 605.8L966.8 614.4L960.6 623.0L954.4 614.4Z" fill="#808080"/><path d="M976.5 616.0L982.7 624.6L976.5 633.2L970.3 624.6Z" fill="#808080"/><path d="M979.3 626.3L985.5 634.9L979.3 643.5L973.1 634.9Z" fill="#808080"/><path d="M981.2 636.5L987.4 645.1L981.2 653.7L975.0 645.1Z" fill="#808080"/><path d="M992.0 646.8L998.2 655.4L992.0 664.0L985.8 655.4Z" fill="#808080"/><path d="M992.4 657.0L998.6 665.6L992.4 674.2L986.2 665.6Z" fill="#808080"/><path d="M1043.2 667.3L1049.4 675.9L1043.2 684.5L1037.0 675.9Z" fill="#808080"/><path d="M1078.2 677.5L1084.4 686.1L1078.2 694.7L1072.0 686.1Z" fill="#808080"/><path d="M1055.2 687.8L1061.4 696.4L1055.2 705.0L1049.0 696.4Z" fill="#808080"/><path d="M1043.7 698.0L1049.9 706.6L1043.7 715.2L1037.5 706.6Z" fill="#808080"/><path d="M1045.6 708.3L1051.8 716.9L1045.6 725.5L1039.4 716.9Z" fill="#808080"/><path d="M1049.6 718.6L1055.8 727.2L1049.6 735.8L1043.4 727.2Z" fill="#808080"/><path d="M1053.9 728.8L1060.1 737.4L1053.9 746.0L1047.7 737.4Z" fill="#808080"/>
<text x="897.8" y="1095.3" text-anchor="middle">0</text>
<text x="969.1" y="1095.3" text-anchor="middle">2</text>
<text x="1040.4" y="1095.3" text-anchor="middle">4</text>
<text x="1111.8" y="1095.3" text-anchor="middle">6</text>
<text x="1183.1" y="1095.3" text-anchor="middle">8</text>
<text x="1254.4" y="1095.3" text-anchor="middle">10</text>
<text x="1076.1" y="1147.9" text-anchor="middle">Chla/mg m<tspan dy="-18" dx="1.2" font-size="27">-3</tspan></text>
<text x="1183.1" y="1037.2" class="k">B3</text>
</g>
<g id="p13">
<rect x="1304.4" y="593.85" width="356.7" height="461.4" fill="none" stroke="#262626" stroke-width="4.6"/>
<path d="M1304.4 645.1h10.2M1661.1 645.1h-10.2M1304.4 696.4h10.2M1661.1 696.4h-10.2M1304.4 747.7h10.2M1661.1 747.7h-10.2M1304.4 798.9h10.2M1661.1 798.9h-10.2M1304.4 850.2h10.2M1661.1 850.2h-10.2M1304.4 901.5h10.2M1661.1 901.5h-10.2M1304.4 952.8h10.2M1661.1 952.8h-10.2M1304.4 1004.0h10.2M1661.1 1004.0h-10.2M1375.7 593.85v10.2M1375.7 1055.3v-10.2M1447.1 593.85v10.2M1447.1 1055.3v-10.2M1518.4 593.85v10.2M1518.4 1055.3v-10.2M1589.8 593.85v10.2M1589.8 1055.3v-10.2" stroke="#262626" stroke-width="4.6" fill="none"/>
<polyline points="1432.3,604.1 1432.8,614.4 1430.4,624.6 1423.2,634.9 1410.5,645.1 1395.4,655.4 1377.9,665.6 1364.4,675.9 1355.6,686.1 1354.1,696.4 1356.4,706.6 1367.6,716.9 1381.1,727.2 1397.0,737.4 1411.3,747.7 1424.0,757.9 1431.2,768.2 1434.3,778.4 1435.1,788.7 1433.9,798.9 1432.0,809.2 1428.9,819.4 1425.3,829.7 1421.8,840.0 1417.6,850.2 1414.1,860.5 1411.3,870.7 1410.5,881.0" fill="none" stroke="#2323ec" stroke-width="5" stroke-linejoin="round"/><path d="M1427.6 604.1h9.4M1432.3 599.4v9.4M1428.1 614.4h9.4M1432.8 609.7v9.4M1425.7 624.6h9.4M1430.4 619.9v9.4M1418.5 634.9h9.4M1423.2 630.2v9.4M1405.8 645.1h9.4M1410.5 640.4v9.4M1390.7 655.4h9.4M1395.4 650.7v9.4M1373.2 665.6h9.4M1377.9 660.9v9.4M1359.7 675.9h9.4M1364.4 671.2v9.4M1350.9 686.1h9.4M1355.6 681.4v9.4M1349.4 696.4h9.4M1354.1 691.7v9.4M1351.7 706.6h9.4M1356.4 701.9v9.4M1362.9 716.9h9.4M1367.6 712.2v9.4M1376.4 727.2h9.4M1381.1 722.5v9.4M1392.3 737.4h9.4M1397.0 732.7v9.4M1406.6 747.7h9.4M1411.3 743.0v9.4M1419.3 757.9h9.4M1424.0 753.2v9.4M1426.5 768.2h9.4M1431.2 763.5v9.4M1429.6 778.4h9.4M1434.3 773.7v9.4M1430.4 788.7h9.4M1435.1 784.0v9.4M1429.2 798.9h9.4M1433.9 794.2v9.4M1427.3 809.2h9.4M1432.0 804.5v9.4M1424.2 819.4h9.4M1428.9 814.7v9.4M1420.6 829.7h9.4M1425.3 825.0v9.4M1417.1 840.0h9.4M1421.8 835.3v9.4M1412.9 850.2h9.4M1417.6 845.5v9.4M1409.4 860.5h9.4M1414.1 855.8v9.4M1406.6 870.7h9.4M1411.3 866.0v9.4M1405.8 881.0h9.4M1410.5 876.3v9.4" stroke="#2323ec" stroke-width="4.6" fill="none"/>
<polyline points="1550.9,604.1 1527.3,614.4 1488.7,624.6 1453.4,634.9 1432.0,645.1 1426.9,655.4 1430.7,665.6 1439.1,675.9 1443.9,686.1 1442.8,696.4 1434.3,706.6 1425.1,716.9 1415.7,727.2 1407.3,737.4 1400.2,747.7 1393.8,757.9 1388.2,768.2 1383.0,778.4 1378.7,788.7 1374.4,798.9 1370.0,809.2 1365.0,819.4 1362.0,829.7 1359.6,840.0 1354.8,850.2 1351.7,860.5 1350.1,870.7 1346.9,881.0 1344.5,891.2" fill="none" stroke="#a020f0" stroke-width="5" stroke-linejoin="round"/><circle cx="1550.9" cy="604.1" r="5.7" fill="#a020f0"/><circle cx="1527.3" cy="614.4" r="5.7" fill="#a020f0"/><circle cx="1488.7" cy="624.6" r="5.7" fill="#a020f0"/><circle cx="1453.4" cy="634.9" r="5.7" fill="#a020f0"/><circle cx="1432.0" cy="645.1" r="5.7" fill="#a020f0"/><circle cx="1426.9" cy="655.4" r="5.7" fill="#a020f0"/><circle cx="1430.7" cy="665.6" r="5.7" fill="#a020f0"/><circle cx="1439.1" cy="675.9" r="5.7" fill="#a020f0"/><circle cx="1443.9" cy="686.1" r="5.7" fill="#a020f0"/><circle cx="1442.8" cy="696.4" r="5.7" fill="#a020f0"/><circle cx="1434.3" cy="706.6" r="5.7" fill="#a020f0"/><circle cx="1425.1" cy="716.9" r="5.7" fill="#a020f0"/><circle cx="1415.7" cy="727.2" r="5.7" fill="#a020f0"/><circle cx="1407.3" cy="737.4" r="5.7" fill="#a020f0"/><circle cx="1400.2" cy="747.7" r="5.7" fill="#a020f0"/><circle cx="1393.8" cy="757.9" r="5.7" fill="#a020f0"/><circle cx="1388.2" cy="768.2" r="5.7" fill="#a020f0"/><circle cx="1383.0" cy="778.4" r="5.7" fill="#a020f0"/><circle cx="1378.7" cy="788.7" r="5.7" fill="#a020f0"/><circle cx="1374.4" cy="798.9" r="5.7" fill="#a020f0"/><circle cx="1370.0" cy="809.2" r="5.7" fill="#a020f0"/><circle cx="1365.0" cy="819.4" r="5.7" fill="#a020f0"/><circle cx="1362.0" cy="829.7" r="5.7" fill="#a020f0"/><circle cx="1359.6" cy="840.0" r="5.7" fill="#a020f0"/><circle cx="1354.8" cy="850.2" r="5.7" fill="#a020f0"/><circle cx="1351.7" cy="860.5" r="5.7" fill="#a020f0"/><circle cx="1350.1" cy="870.7" r="5.7" fill="#a020f0"/><circle cx="1346.9" cy="881.0" r="5.7" fill="#a020f0"/><circle cx="1344.5" cy="891.2" r="5.7" fill="#a020f0"/>
<polyline points="1354.4,604.1 1358.5,614.4 1373.9,624.6 1370.7,634.9 1393.8,645.1 1397.0,655.4 1387.1,665.6 1365.2,675.9 1361.7,686.1 1360.1,696.4 1347.4,706.6 1346.9,716.9 1352.5,727.2 1352.5,737.4 1351.7,747.7 1373.1,757.9 1388.2,768.2 1404.1,778.4 1428.0,788.7 1421.1,798.9 1396.2,809.2 1374.1,819.4 1359.8,829.7 1352.5,840.0 1339.7,850.2 1334.2,860.5 1330.2,870.7 1333.4,881.0 1334.2,891.2 1331.0,901.5 1330.5,911.7 1325.8,922.0 1325.4,932.2 1328.9,942.5 1330.2,952.8 1330.2,963.0 1331.0,973.3 1330.5,983.5 1335.0,993.8 1330.5,1004.0" fill="none" stroke="#000000" stroke-width="5" stroke-linejoin="round"/><rect x="1349.6" y="599.3" width="9.6" height="9.6" fill="#000000"/><rect x="1353.7" y="609.6" width="9.6" height="9.6" fill="#000000"/><rect x="1369.1" y="619.8" width="9.6" height="9.6" fill="#000000"/><rect x="1365.9" y="630.1" width="9.6" height="9.6" fill="#000000"/><rect x="1389.0" y="640.3" width="9.6" height="9.6" fill="#000000"/><rect x="1392.2" y="650.6" width="9.6" height="9.6" fill="#000000"/><rect x="1382.3" y="660.8" width="9.6" height="9.6" fill="#000000"/><rect x="1360.4" y="671.1" width="9.6" height="9.6" fill="#000000"/><rect x="1356.9" y="681.3" width="9.6" height="9.6" fill="#000000"/><rect x="1355.3" y="691.6" width="9.6" height="9.6" fill="#000000"/><rect x="1342.6" y="701.8" width="9.6" height="9.6" fill="#000000"/><rect x="1342.1" y="712.1" width="9.6" height="9.6" fill="#000000"/><rect x="1347.7" y="722.4" width="9.6" height="9.6" fill="#000000"/><rect x="1347.7" y="732.6" width="9.6" height="9.6" fill="#000000"/><rect x="1346.9" y="742.9" width="9.6" height="9.6" fill="#000000"/><rect x="1368.3" y="753.1" width="9.6" height="9.6" fill="#000000"/><rect x="1383.4" y="763.4" width="9.6" height="9.6" fill="#000000"/><rect x="1399.3" y="773.6" width="9.6" height="9.6" fill="#000000"/><rect x="1423.2" y="783.9" width="9.6" height="9.6" fill="#000000"/><rect x="1416.3" y="794.1" width="9.6" height="9.6" fill="#000000"/><rect x="1391.4" y="804.4" width="9.6" height="9.6" fill="#000000"/><rect x="1369.3" y="814.6" width="9.6" height="9.6" fill="#000000"/><rect x="1355.0" y="824.9" width="9.6" height="9.6" fill="#000000"/><rect x="1347.7" y="835.2" width="9.6" height="9.6" fill="#000000"/><rect x="1334.9" y="845.4" width="9.6" height="9.6" fill="#000000"/><rect x="1329.4" y="855.7" width="9.6" height="9.6" fill="#000000"/><rect x="1325.4" y="865.9" width="9.6" height="9.6" fill="#000000"/><rect x="1328.6" y="876.2" width="9.6" height="9.6" fill="#000000"/><rect x="1329.4" y="886.4" width="9.6" height="9.6" fill="#000000"/><rect x="1326.2" y="896.7" width="9.6" height="9.6" fill="#000000"/><rect x="1325.7" y="906.9" width="9.6" height="9.6" fill="#000000"/><rect x="1321.0" y="917.2" width="9.6" height="9.6" fill="#000000"/><rect x="1320.6" y="927.4" width="9.6" height="9.6" fill="#000000"/><rect x="1324.1" y="937.7" width="9.6" height="9.6" fill="#000000"/><rect x="1325.4" y="948.0" width="9.6" height="9.6" fill="#000000"/><rect x="1325.4" y="958.2" width="9.6" height="9.6" fill="#000000"/><rect x="1326.2" y="968.5" width="9.6" height="9.6" fill="#000000"/><rect x="1325.7" y="978.7" width="9.6" height="9.6" fill="#000000"/><rect x="1330.2" y="989.0" width="9.6" height="9.6" fill="#000000"/><rect x="1325.7" y="999.2" width="9.6" height="9.6" fill="#000000"/>
<polyline points="1324.3,604.1 1324.3,614.4 1324.3,624.6 1324.3,634.9 1324.3,645.1 1324.3,655.4 1324.3,665.6 1324.3,675.9 1324.3,686.1 1324.3,696.4 1323.5,706.6 1322.6,716.9 1321.9,727.2 1321.6,737.4 1321.3,747.7 1321.0,757.9 1320.7,768.2 1320.3,778.4 1321.5,788.7 1323.1,798.9 1324.0,809.2 1323.8,819.4 1323.7,829.7 1323.8,840.0 1327.8,850.2 1330.2,860.5 1340.5,870.7 1370.7,881.0 1404.1,891.2 1400.6,901.5 1444.7,911.7 1452.6,922.0 1472.5,932.2 1474.9,942.5 1490.0,952.8 1513.0,963.0 1548.0,973.3 1548.8,983.5 1539.3,993.8 1580.1,1004.0 1573.4,1014.3" fill="none" stroke="#808080" stroke-width="5" stroke-linejoin="round"/><path d="M1324.3 595.5L1330.5 604.1L1324.3 612.7L1318.1 604.1Z" fill="#808080"/><path d="M1324.3 605.8L1330.5 614.4L1324.3 623.0L1318.1 614.4Z" fill="#808080"/><path d="M1324.3 616.0L1330.5 624.6L1324.3 633.2L1318.1 624.6Z" fill="#808080"/><path d="M1324.3 626.3L1330.5 634.9L1324.3 643.5L1318.1 634.9Z" fill="#808080"/><path d="M1324.3 636.5L1330.5 645.1L1324.3 653.7L1318.1 645.1Z" fill="#808080"/><path d="M1324.3 646.8L1330.5 655.4L1324.3 664.0L1318.1 655.4Z" fill="#808080"/><path d="M1324.3 657.0L1330.5 665.6L1324.3 674.2L1318.1 665.6Z" fill="#808080"/><path d="M1324.3 667.3L1330.5 675.9L1324.3 684.5L1318.1 675.9Z" fill="#808080"/><path d="M1324.3 677.5L1330.5 686.1L1324.3 694.7L1318.1 686.1Z" fill="#808080"/><path d="M1324.3 687.8L1330.5 696.4L1324.3 705.0L1318.1 696.4Z" fill="#808080"/><path d="M1323.5 698.0L1329.7 706.6L1323.5 715.2L1317.3 706.6Z" fill="#808080"/><path d="M1322.6 708.3L1328.8 716.9L1322.6 725.5L1316.4 716.9Z" fill="#808080"/><path d="M1321.9 718.6L1328.1 727.2L1321.9 735.8L1315.7 727.2Z" fill="#808080"/><path d="M1321.6 728.8L1327.8 737.4L1321.6 746.0L1315.4 737.4Z" fill="#808080"/><path d="M1321.3 739.1L1327.5 747.7L1321.3 756.3L1315.1 747.7Z" fill="#808080"/><path d="M1321.0 749.3L1327.2 757.9L1321.0 766.5L1314.8 757.9Z" fill="#808080"/><path d="M1320.7 759.6L1326.9 768.2L1320.7 776.8L1314.5 768.2Z" fill="#808080"/><path d="M1320.3 769.8L1326.5 778.4L1320.3 787.0L1314.1 778.4Z" fill="#808080"/><path d="M1321.5 780.1L1327.7 788.7L1321.5 797.3L1315.3 788.7Z" fill="#808080"/><path d="M1323.1 790.3L1329.3 798.9L1323.1 807.5L1316.9 798.9Z" fill="#808080"/><path d="M1324.0 800.6L1330.2 809.2L1324.0 817.8L1317.8 809.2Z" fill="#808080"/><path d="M1323.8 810.8L1330.0 819.4L1323.8 828.0L1317.6 819.4Z" fill="#808080"/><path d="M1323.7 821.1L1329.9 829.7L1323.7 838.3L1317.5 829.7Z" fill="#808080"/><path d="M1323.8 831.4L1330.0 840.0L1323.8 848.6L1317.6 840.0Z" fill="#808080"/><path d="M1327.8 841.6L1334.0 850.2L1327.8 858.8L1321.6 850.2Z" fill="#808080"/><path d="M1330.2 851.9L1336.4 860.5L1330.2 869.1L1324.0 860.5Z" fill="#808080"/><path d="M1340.5 862.1L1346.7 870.7L1340.5 879.3L1334.3 870.7Z" fill="#808080"/><path d="M1370.7 872.4L1376.9 881.0L1370.7 889.6L1364.5 881.0Z" fill="#808080"/><path d="M1404.1 882.6L1410.3 891.2L1404.1 899.8L1397.9 891.2Z" fill="#808080"/><path d="M1400.6 892.9L1406.8 901.5L1400.6 910.1L1394.4 901.5Z" fill="#808080"/><path d="M1444.7 903.1L1450.9 911.7L1444.7 920.3L1438.5 911.7Z" fill="#808080"/><path d="M1452.6 913.4L1458.8 922.0L1452.6 930.6L1446.4 922.0Z" fill="#808080"/><path d="M1472.5 923.6L1478.7 932.2L1472.5 940.8L1466.3 932.2Z" fill="#808080"/><path d="M1474.9 933.9L1481.1 942.5L1474.9 951.1L1468.7 942.5Z" fill="#808080"/><path d="M1490.0 944.2L1496.2 952.8L1490.0 961.4L1483.8 952.8Z" fill="#808080"/><path d="M1513.0 954.4L1519.2 963.0L1513.0 971.6L1506.8 963.0Z" fill="#808080"/><path d="M1548.0 964.7L1554.2 973.3L1548.0 981.9L1541.8 973.3Z" fill="#808080"/><path d="M1548.8 974.9L1555.0 983.5L1548.8 992.1L1542.6 983.5Z" fill="#808080"/><path d="M1539.3 985.2L1545.5 993.8L1539.3 1002.4L1533.1 993.8Z" fill="#808080"/><path d="M1580.1 995.4L1586.3 1004.0L1580.1 1012.6L1573.9 1004.0Z" fill="#808080"/><path d="M1573.4 1005.7L1579.6 1014.3L1573.4 1022.9L1567.2 1014.3Z" fill="#808080"/>
<text x="1304.4" y="1095.3" text-anchor="middle">0</text>
<text x="1375.7" y="1095.3" text-anchor="middle">1</text>
<text x="1447.1" y="1095.3" text-anchor="middle">2</text>
<text x="1518.4" y="1095.3" text-anchor="middle">3</text>
<text x="1589.8" y="1095.3" text-anchor="middle">4</text>
<text x="1661.1" y="1095.3" text-anchor="middle">5</text>
<text x="1482.8" y="1147.9" text-anchor="middle">Chla/mg m<tspan dy="-18" dx="1.2" font-size="27">-3</tspan></text>
<text x="1589.6" y="1037.2" class="k">B6</text>
</g>
<g id="p14">
<rect x="1710.7" y="593.85" width="356.0" height="461.4" fill="none" stroke="#262626" stroke-width="4.6"/>
<path d="M1710.7 645.1h10.2M2066.7 645.1h-10.2M1710.7 696.4h10.2M2066.7 696.4h-10.2M1710.7 747.7h10.2M2066.7 747.7h-10.2M1710.7 798.9h10.2M2066.7 798.9h-10.2M1710.7 850.2h10.2M2066.7 850.2h-10.2M1710.7 901.5h10.2M2066.7 901.5h-10.2M1710.7 952.8h10.2M2066.7 952.8h-10.2M1710.7 1004.0h10.2M2066.7 1004.0h-10.2M1770.0 593.85v10.2M1770.0 1055.3v-10.2M1829.4 593.85v10.2M1829.4 1055.3v-10.2M1888.7 593.85v10.2M1888.7 1055.3v-10.2M1948.0 593.85v10.2M1948.0 1055.3v-10.2M2007.4 593.85v10.2M2007.4 1055.3v-10.2" stroke="#262626" stroke-width="4.6" fill="none"/>
<polyline points="2025.6,604.1 1978.7,614.4 1896.0,624.6 1844.0,634.9 1833.2,645.1 1829.2,655.4 1822.1,665.6 1811.7,675.9 1801.4,686.1 1791.1,696.4 1784.7,706.6 1780.7,716.9 1776.0,727.2 1772.8,737.4 1768.8,747.7 1767.2,757.9 1765.6,768.2 1766.4,778.4 1767.2,788.7 1767.7,798.9 1767.5,809.2" fill="none" stroke="#2323ec" stroke-width="5" stroke-linejoin="round"/><path d="M2020.9 604.1h9.4M2025.6 599.4v9.4M1974.0 614.4h9.4M1978.7 609.7v9.4M1891.3 624.6h9.4M1896.0 619.9v9.4M1839.3 634.9h9.4M1844.0 630.2v9.4M1828.5 645.1h9.4M1833.2 640.4v9.4M1824.5 655.4h9.4M1829.2 650.7v9.4M1817.4 665.6h9.4M1822.1 660.9v9.4M1807.0 675.9h9.4M1811.7 671.2v9.4M1796.7 686.1h9.4M1801.4 681.4v9.4M1786.4 696.4h9.4M1791.1 691.7v9.4M1780.0 706.6h9.4M1784.7 701.9v9.4M1776.0 716.9h9.4M1780.7 712.2v9.4M1771.3 727.2h9.4M1776.0 722.5v9.4M1768.1 737.4h9.4M1772.8 732.7v9.4M1764.1 747.7h9.4M1768.8 743.0v9.4M1762.5 757.9h9.4M1767.2 753.2v9.4M1760.9 768.2h9.4M1765.6 763.5v9.4M1761.7 778.4h9.4M1766.4 773.7v9.4M1762.5 788.7h9.4M1767.2 784.0v9.4M1763.0 798.9h9.4M1767.7 794.2v9.4M1762.8 809.2h9.4M1767.5 804.5v9.4" stroke="#2323ec" stroke-width="4.6" fill="none"/>
<polyline points="1982.9,604.1 1955.6,614.4 1912.4,624.6 1885.7,634.9 1874.2,645.1 1865.0,655.4 1863.4,665.6 1861.8,675.9 1851.0,686.1 1839.5,696.4 1826.0,706.6 1813.8,716.9 1802.2,727.2 1792.6,737.4 1784.7,747.7 1777.5,757.9 1771.2,768.2 1767.7,778.4 1764.8,788.7 1761.6,798.9 1758.5,809.2 1754.6,819.4 1752.3,829.7 1750.0,840.0 1746.5,850.2" fill="none" stroke="#a020f0" stroke-width="5" stroke-linejoin="round"/><circle cx="1982.9" cy="604.1" r="5.7" fill="#a020f0"/><circle cx="1955.6" cy="614.4" r="5.7" fill="#a020f0"/><circle cx="1912.4" cy="624.6" r="5.7" fill="#a020f0"/><circle cx="1885.7" cy="634.9" r="5.7" fill="#a020f0"/><circle cx="1874.2" cy="645.1" r="5.7" fill="#a020f0"/><circle cx="1865.0" cy="655.4" r="5.7" fill="#a020f0"/><circle cx="1863.4" cy="665.6" r="5.7" fill="#a020f0"/><circle cx="1861.8" cy="675.9" r="5.7" fill="#a020f0"/><circle cx="1851.0" cy="686.1" r="5.7" fill="#a020f0"/><circle cx="1839.5" cy="696.4" r="5.7" fill="#a020f0"/><circle cx="1826.0" cy="706.6" r="5.7" fill="#a020f0"/><circle cx="1813.8" cy="716.9" r="5.7" fill="#a020f0"/><circle cx="1802.2" cy="727.2" r="5.7" fill="#a020f0"/><circle cx="1792.6" cy="737.4" r="5.7" fill="#a020f0"/><circle cx="1784.7" cy="747.7" r="5.7" fill="#a020f0"/><circle cx="1777.5" cy="757.9" r="5.7" fill="#a020f0"/><circle cx="1771.2" cy="768.2" r="5.7" fill="#a020f0"/><circle cx="1767.7" cy="778.4" r="5.7" fill="#a020f0"/><circle cx="1764.8" cy="788.7" r="5.7" fill="#a020f0"/><circle cx="1761.6" cy="798.9" r="5.7" fill="#a020f0"/><circle cx="1758.5" cy="809.2" r="5.7" fill="#a020f0"/><circle cx="1754.6" cy="819.4" r="5.7" fill="#a020f0"/><circle cx="1752.3" cy="829.7" r="5.7" fill="#a020f0"/><circle cx="1750.0" cy="840.0" r="5.7" fill="#a020f0"/><circle cx="1746.5" cy="850.2" r="5.7" fill="#a020f0"/>
<polyline points="1953.7,604.1 1946.4,614.4 1955.9,624.6 1953.7,634.9 1963.2,645.1 1861.5,655.4 1794.2,665.6 1753.7,675.9 1748.9,686.1 1755.0,696.4 1751.8,706.6 1748.6,716.9 1758.8,727.2 1764.0,737.4 1782.0,747.7 1768.0,757.9 1774.7,768.2 1765.6,778.4 1762.4,788.7 1758.5,798.9 1748.9,809.2 1743.4,819.4 1738.6,829.7 1741.3,840.0 1737.5,850.2 1737.0,860.5 1736.2,870.7 1735.9,881.0 1739.1,891.2 1741.8,901.5 1739.1,911.7 1741.0,922.0 1739.1,932.2 1740.2,942.5 1741.8,952.8 1744.2,963.0 1741.0,973.3 1743.4,983.5 1743.8,993.8" fill="none" stroke="#000000" stroke-width="5" stroke-linejoin="round"/><rect x="1948.9" y="599.3" width="9.6" height="9.6" fill="#000000"/><rect x="1941.6" y="609.6" width="9.6" height="9.6" fill="#000000"/><rect x="1951.1" y="619.8" width="9.6" height="9.6" fill="#000000"/><rect x="1948.9" y="630.1" width="9.6" height="9.6" fill="#000000"/><rect x="1958.4" y="640.3" width="9.6" height="9.6" fill="#000000"/><rect x="1856.7" y="650.6" width="9.6" height="9.6" fill="#000000"/><rect x="1789.4" y="660.8" width="9.6" height="9.6" fill="#000000"/><rect x="1748.9" y="671.1" width="9.6" height="9.6" fill="#000000"/><rect x="1744.1" y="681.3" width="9.6" height="9.6" fill="#000000"/><rect x="1750.2" y="691.6" width="9.6" height="9.6" fill="#000000"/><rect x="1747.0" y="701.8" width="9.6" height="9.6" fill="#000000"/><rect x="1743.8" y="712.1" width="9.6" height="9.6" fill="#000000"/><rect x="1754.0" y="722.4" width="9.6" height="9.6" fill="#000000"/><rect x="1759.2" y="732.6" width="9.6" height="9.6" fill="#000000"/><rect x="1777.2" y="742.9" width="9.6" height="9.6" fill="#000000"/><rect x="1763.2" y="753.1" width="9.6" height="9.6" fill="#000000"/><rect x="1769.9" y="763.4" width="9.6" height="9.6" fill="#000000"/><rect x="1760.8" y="773.6" width="9.6" height="9.6" fill="#000000"/><rect x="1757.6" y="783.9" width="9.6" height="9.6" fill="#000000"/><rect x="1753.7" y="794.1" width="9.6" height="9.6" fill="#000000"/><rect x="1744.1" y="804.4" width="9.6" height="9.6" fill="#000000"/><rect x="1738.6" y="814.6" width="9.6" height="9.6" fill="#000000"/><rect x="1733.8" y="824.9" width="9.6" height="9.6" fill="#000000"/><rect x="1736.5" y="835.2" width="9.6" height="9.6" fill="#000000"/><rect x="1732.7" y="845.4" width="9.6" height="9.6" fill="#000000"/><rect x="1732.2" y="855.7" width="9.6" height="9.6" fill="#000000"/><rect x="1731.4" y="865.9" width="9.6" height="9.6" fill="#000000"/><rect x="1731.1" y="876.2" width="9.6" height="9.6" fill="#000000"/><rect x="1734.3" y="886.4" width="9.6" height="9.6" fill="#000000"/><rect x="1737.0" y="896.7" width="9.6" height="9.6" fill="#000000"/><rect x="1734.3" y="906.9" width="9.6" height="9.6" fill="#000000"/><rect x="1736.2" y="917.2" width="9.6" height="9.6" fill="#000000"/><rect x="1734.3" y="927.4" width="9.6" height="9.6" fill="#000000"/><rect x="1735.4" y="937.7" width="9.6" height="9.6" fill="#000000"/><rect x="1737.0" y="948.0" width="9.6" height="9.6" fill="#000000"/><rect x="1739.4" y="958.2" width="9.6" height="9.6" fill="#000000"/><rect x="1736.2" y="968.5" width="9.6" height="9.6" fill="#000000"/><rect x="1738.6" y="978.7" width="9.6" height="9.6" fill="#000000"/><rect x="1739.0" y="989.0" width="9.6" height="9.6" fill="#000000"/>
<polyline points="1742.6,604.1 1742.6,614.4 1742.9,624.6 1741.8,634.9 1737.8,645.1 1729.8,655.4 1728.6,665.6 1729.1,675.9 1729.1,686.1 1729.8,696.4 1735.4,706.6 1740.2,716.9 1741.3,727.2 1742.2,737.4 1746.5,747.7 1748.6,757.9 1748.1,768.2 1755.6,778.4 1755.3,788.7 1748.1,798.9 1744.2,809.2 1744.2,819.4 1743.4,829.7 1748.1,840.0 1754.5,850.2 1760.1,860.5 1770.1,870.7 1824.4,881.0 1848.6,891.2 1875.3,901.5 1910.6,911.7 1936.5,922.0 1965.1,932.2 1978.2,942.5 1969.6,952.8 1985.0,963.0 2013.6,973.3" fill="none" stroke="#808080" stroke-width="5" stroke-linejoin="round"/><path d="M1742.6 595.5L1748.8 604.1L1742.6 612.7L1736.4 604.1Z" fill="#808080"/><path d="M1742.6 605.8L1748.8 614.4L1742.6 623.0L1736.4 614.4Z" fill="#808080"/><path d="M1742.9 616.0L1749.1 624.6L1742.9 633.2L1736.7 624.6Z" fill="#808080"/><path d="M1741.8 626.3L1748.0 634.9L1741.8 643.5L1735.6 634.9Z" fill="#808080"/><path d="M1737.8 636.5L1744.0 645.1L1737.8 653.7L1731.6 645.1Z" fill="#808080"/><path d="M1729.8 646.8L1736.0 655.4L1729.8 664.0L1723.6 655.4Z" fill="#808080"/><path d="M1728.6 657.0L1734.8 665.6L1728.6 674.2L1722.4 665.6Z" fill="#808080"/><path d="M1729.1 667.3L1735.3 675.9L1729.1 684.5L1722.9 675.9Z" fill="#808080"/><path d="M1729.1 677.5L1735.3 686.1L1729.1 694.7L1722.9 686.1Z" fill="#808080"/><path d="M1729.8 687.8L1736.0 696.4L1729.8 705.0L1723.6 696.4Z" fill="#808080"/><path d="M1735.4 698.0L1741.6 706.6L1735.4 715.2L1729.2 706.6Z" fill="#808080"/><path d="M1740.2 708.3L1746.4 716.9L1740.2 725.5L1734.0 716.9Z" fill="#808080"/><path d="M1741.3 718.6L1747.5 727.2L1741.3 735.8L1735.1 727.2Z" fill="#808080"/><path d="M1742.2 728.8L1748.4 737.4L1742.2 746.0L1736.0 737.4Z" fill="#808080"/><path d="M1746.5 739.1L1752.7 747.7L1746.5 756.3L1740.3 747.7Z" fill="#808080"/><path d="M1748.6 749.3L1754.8 757.9L1748.6 766.5L1742.4 757.9Z" fill="#808080"/><path d="M1748.1 759.6L1754.3 768.2L1748.1 776.8L1741.9 768.2Z" fill="#808080"/><path d="M1755.6 769.8L1761.8 778.4L1755.6 787.0L1749.4 778.4Z" fill="#808080"/><path d="M1755.3 780.1L1761.5 788.7L1755.3 797.3L1749.1 788.7Z" fill="#808080"/><path d="M1748.1 790.3L1754.3 798.9L1748.1 807.5L1741.9 798.9Z" fill="#808080"/><path d="M1744.2 800.6L1750.4 809.2L1744.2 817.8L1738.0 809.2Z" fill="#808080"/><path d="M1744.2 810.8L1750.4 819.4L1744.2 828.0L1738.0 819.4Z" fill="#808080"/><path d="M1743.4 821.1L1749.6 829.7L1743.4 838.3L1737.2 829.7Z" fill="#808080"/><path d="M1748.1 831.4L1754.3 840.0L1748.1 848.6L1741.9 840.0Z" fill="#808080"/><path d="M1754.5 841.6L1760.7 850.2L1754.5 858.8L1748.3 850.2Z" fill="#808080"/><path d="M1760.1 851.9L1766.3 860.5L1760.1 869.1L1753.9 860.5Z" fill="#808080"/><path d="M1770.1 862.1L1776.3 870.7L1770.1 879.3L1763.9 870.7Z" fill="#808080"/><path d="M1824.4 872.4L1830.6 881.0L1824.4 889.6L1818.2 881.0Z" fill="#808080"/><path d="M1848.6 882.6L1854.8 891.2L1848.6 899.8L1842.4 891.2Z" fill="#808080"/><path d="M1875.3 892.9L1881.5 901.5L1875.3 910.1L1869.1 901.5Z" fill="#808080"/><path d="M1910.6 903.1L1916.8 911.7L1910.6 920.3L1904.4 911.7Z" fill="#808080"/><path d="M1936.5 913.4L1942.7 922.0L1936.5 930.6L1930.3 922.0Z" fill="#808080"/><path d="M1965.1 923.6L1971.3 932.2L1965.1 940.8L1958.9 932.2Z" fill="#808080"/><path d="M1978.2 933.9L1984.4 942.5L1978.2 951.1L1972.0 942.5Z" fill="#808080"/><path d="M1969.6 944.2L1975.8 952.8L1969.6 961.4L1963.4 952.8Z" fill="#808080"/><path d="M1985.0 954.4L1991.2 963.0L1985.0 971.6L1978.8 963.0Z" fill="#808080"/><path d="M2013.6 964.7L2019.8 973.3L2013.6 981.9L2007.4 973.3Z" fill="#808080"/>
<text x="1710.7" y="1095.3" text-anchor="middle">0</text>
<text x="1770.0" y="1095.3" text-anchor="middle">1</text>
<text x="1829.4" y="1095.3" text-anchor="middle">2</text>
<text x="1888.7" y="1095.3" text-anchor="middle">3</text>
<text x="1948.0" y="1095.3" text-anchor="middle">4</text>
<text x="2007.4" y="1095.3" text-anchor="middle">5</text>
<text x="2066.7" y="1095.3" text-anchor="middle">6</text>
<text x="1888.7" y="1147.9" text-anchor="middle">Chla/mg m<tspan dy="-18" dx="1.2" font-size="27">-3</tspan></text>
<text x="1996.1" y="1037.2" class="k">C2</text>
</g>
<g id="p15">
<rect x="2119.6" y="593.85" width="356.9" height="461.4" fill="none" stroke="#262626" stroke-width="4.6"/>
<path d="M2119.6 645.1h10.2M2476.5 645.1h-10.2M2119.6 696.4h10.2M2476.5 696.4h-10.2M2119.6 747.7h10.2M2476.5 747.7h-10.2M2119.6 798.9h10.2M2476.5 798.9h-10.2M2119.6 850.2h10.2M2476.5 850.2h-10.2M2119.6 901.5h10.2M2476.5 901.5h-10.2M2119.6 952.8h10.2M2476.5 952.8h-10.2M2119.6 1004.0h10.2M2476.5 1004.0h-10.2M2238.6 593.85v10.2M2238.6 1055.3v-10.2M2357.5 593.85v10.2M2357.5 1055.3v-10.2" stroke="#262626" stroke-width="4.6" fill="none"/>
<polyline points="2396.7,604.1 2394.8,614.4 2387.7,624.6 2365.4,634.9 2318.5,645.1 2261.6,655.4 2215.2,665.6 2187.3,675.9 2176.2,686.1 2169.1,696.4 2166.7,706.6 2167.1,716.9 2169.1,727.2 2176.2,737.4 2183.4,747.7 2190.0,757.9 2196.4,768.2 2200.9,778.4 2204.0,788.7 2205.9,798.9 2207.2,809.2 2210.4,819.4 2214.4,829.7 2218.7,840.0 2223.1,850.2 2224.4,860.5 2223.1,870.7 2219.1,881.0 2214.8,891.2 2209.6,901.5 2204.0,911.7 2198.5,922.0 2193.7,932.2 2190.5,942.5 2188.4,952.8 2187.3,963.0 2186.5,973.3 2185.7,983.5 2185.0,993.8 2183.7,1004.0 2182.6,1014.3 2181.5,1024.5 2180.5,1034.8 2179.4,1045.0 2178.6,1055.3" fill="none" stroke="#2323ec" stroke-width="5" stroke-linejoin="round"/><path d="M2392.0 604.1h9.4M2396.7 599.4v9.4M2390.1 614.4h9.4M2394.8 609.7v9.4M2383.0 624.6h9.4M2387.7 619.9v9.4M2360.7 634.9h9.4M2365.4 630.2v9.4M2313.8 645.1h9.4M2318.5 640.4v9.4M2256.9 655.4h9.4M2261.6 650.7v9.4M2210.5 665.6h9.4M2215.2 660.9v9.4M2182.6 675.9h9.4M2187.3 671.2v9.4M2171.5 686.1h9.4M2176.2 681.4v9.4M2164.4 696.4h9.4M2169.1 691.7v9.4M2162.0 706.6h9.4M2166.7 701.9v9.4M2162.4 716.9h9.4M2167.1 712.2v9.4M2164.4 727.2h9.4M2169.1 722.5v9.4M2171.5 737.4h9.4M2176.2 732.7v9.4M2178.7 747.7h9.4M2183.4 743.0v9.4M2185.3 757.9h9.4M2190.0 753.2v9.4M2191.7 768.2h9.4M2196.4 763.5v9.4M2196.2 778.4h9.4M2200.9 773.7v9.4M2199.3 788.7h9.4M2204.0 784.0v9.4M2201.2 798.9h9.4M2205.9 794.2v9.4M2202.5 809.2h9.4M2207.2 804.5v9.4M2205.7 819.4h9.4M2210.4 814.7v9.4M2209.7 829.7h9.4M2214.4 825.0v9.4M2214.0 840.0h9.4M2218.7 835.3v9.4M2218.4 850.2h9.4M2223.1 845.5v9.4M2219.7 860.5h9.4M2224.4 855.8v9.4M2218.4 870.7h9.4M2223.1 866.0v9.4M2214.4 881.0h9.4M2219.1 876.3v9.4M2210.1 891.2h9.4M2214.8 886.5v9.4M2204.9 901.5h9.4M2209.6 896.8v9.4M2199.3 911.7h9.4M2204.0 907.0v9.4M2193.8 922.0h9.4M2198.5 917.3v9.4M2189.0 932.2h9.4M2193.7 927.5v9.4M2185.8 942.5h9.4M2190.5 937.8v9.4M2183.7 952.8h9.4M2188.4 948.1v9.4M2182.6 963.0h9.4M2187.3 958.3v9.4M2181.8 973.3h9.4M2186.5 968.6v9.4M2181.0 983.5h9.4M2185.7 978.8v9.4M2180.3 993.8h9.4M2185.0 989.1v9.4M2179.0 1004.0h9.4M2183.7 999.3v9.4M2177.9 1014.3h9.4M2182.6 1009.6v9.4M2176.8 1024.5h9.4M2181.5 1019.8v9.4M2175.8 1034.8h9.4M2180.5 1030.1v9.4M2174.7 1045.0h9.4M2179.4 1040.3v9.4M2173.9 1055.3h9.4M2178.6 1050.6v9.4" stroke="#2323ec" stroke-width="4.6" fill="none"/>
<polyline points="2302.9,604.1 2296.2,614.4 2281.6,624.6 2263.6,634.9 2248.2,645.1 2241.4,655.4 2241.4,665.6 2245.7,675.9 2258.1,686.1 2270.5,696.4 2281.6,706.6 2282.7,716.9 2276.4,727.2 2270.0,737.4 2264.4,747.7 2259.4,757.9 2257.3,768.2 2255.2,778.4 2252.0,788.7 2247.8,798.9 2243.9,809.2 2239.0,819.4 2234.2,829.7 2228.2,840.0 2222.8,850.2 2216.7,860.5 2212.0,870.7 2206.4,881.0 2201.6,891.2 2196.1,901.5 2191.6,911.7 2187.3,922.0 2183.4,932.2 2179.4,942.5 2176.2,952.8 2173.5,963.0 2171.0,973.3 2169.8,983.5 2168.3,993.8 2165.9,1004.0" fill="none" stroke="#a020f0" stroke-width="5" stroke-linejoin="round"/><circle cx="2302.9" cy="604.1" r="5.7" fill="#a020f0"/><circle cx="2296.2" cy="614.4" r="5.7" fill="#a020f0"/><circle cx="2281.6" cy="624.6" r="5.7" fill="#a020f0"/><circle cx="2263.6" cy="634.9" r="5.7" fill="#a020f0"/><circle cx="2248.2" cy="645.1" r="5.7" fill="#a020f0"/><circle cx="2241.4" cy="655.4" r="5.7" fill="#a020f0"/><circle cx="2241.4" cy="665.6" r="5.7" fill="#a020f0"/><circle cx="2245.7" cy="675.9" r="5.7" fill="#a020f0"/><circle cx="2258.1" cy="686.1" r="5.7" fill="#a020f0"/><circle cx="2270.5" cy="696.4" r="5.7" fill="#a020f0"/><circle cx="2281.6" cy="706.6" r="5.7" fill="#a020f0"/><circle cx="2282.7" cy="716.9" r="5.7" fill="#a020f0"/><circle cx="2276.4" cy="727.2" r="5.7" fill="#a020f0"/><circle cx="2270.0" cy="737.4" r="5.7" fill="#a020f0"/><circle cx="2264.4" cy="747.7" r="5.7" fill="#a020f0"/><circle cx="2259.4" cy="757.9" r="5.7" fill="#a020f0"/><circle cx="2257.3" cy="768.2" r="5.7" fill="#a020f0"/><circle cx="2255.2" cy="778.4" r="5.7" fill="#a020f0"/><circle cx="2252.0" cy="788.7" r="5.7" fill="#a020f0"/><circle cx="2247.8" cy="798.9" r="5.7" fill="#a020f0"/><circle cx="2243.9" cy="809.2" r="5.7" fill="#a020f0"/><circle cx="2239.0" cy="819.4" r="5.7" fill="#a020f0"/><circle cx="2234.2" cy="829.7" r="5.7" fill="#a020f0"/><circle cx="2228.2" cy="840.0" r="5.7" fill="#a020f0"/><circle cx="2222.8" cy="850.2" r="5.7" fill="#a020f0"/><circle cx="2216.7" cy="860.5" r="5.7" fill="#a020f0"/><circle cx="2212.0" cy="870.7" r="5.7" fill="#a020f0"/><circle cx="2206.4" cy="881.0" r="5.7" fill="#a020f0"/><circle cx="2201.6" cy="891.2" r="5.7" fill="#a020f0"/><circle cx="2196.1" cy="901.5" r="5.7" fill="#a020f0"/><circle cx="2191.6" cy="911.7" r="5.7" fill="#a020f0"/><circle cx="2187.3" cy="922.0" r="5.7" fill="#a020f0"/><circle cx="2183.4" cy="932.2" r="5.7" fill="#a020f0"/><circle cx="2179.4" cy="942.5" r="5.7" fill="#a020f0"/><circle cx="2176.2" cy="952.8" r="5.7" fill="#a020f0"/><circle cx="2173.5" cy="963.0" r="5.7" fill="#a020f0"/><circle cx="2171.0" cy="973.3" r="5.7" fill="#a020f0"/><circle cx="2169.8" cy="983.5" r="5.7" fill="#a020f0"/><circle cx="2168.3" cy="993.8" r="5.7" fill="#a020f0"/><circle cx="2165.9" cy="1004.0" r="5.7" fill="#a020f0"/>
<polyline points="2286.7,604.1 2285.9,614.4 2294.3,624.6 2308.6,634.9 2285.9,645.1 2277.2,655.4 2285.9,665.6 2216.7,675.9 2157.1,686.1 2155.5,696.4 2154.7,706.6 2157.9,716.9 2155.5,727.2 2154.7,737.4 2160.3,747.7 2164.6,757.9 2167.1,768.2 2164.0,778.4 2168.3,788.7 2164.6,798.9 2169.8,809.2 2162.7,819.4 2163.5,829.7 2165.6,840.0 2170.6,850.2 2170.6,860.5 2168.3,870.7 2163.0,881.0 2165.1,891.2 2170.3,901.5 2176.2,911.7 2165.1,922.0 2163.2,932.2 2163.2,942.5 2162.7,952.8 2161.9,963.0 2156.0,973.3 2159.5,983.5 2161.4,993.8 2156.0,1004.0 2161.9,1014.3 2162.7,1024.5 2161.1,1034.8" fill="none" stroke="#000000" stroke-width="5" stroke-linejoin="round"/><rect x="2281.9" y="599.3" width="9.6" height="9.6" fill="#000000"/><rect x="2281.1" y="609.6" width="9.6" height="9.6" fill="#000000"/><rect x="2289.5" y="619.8" width="9.6" height="9.6" fill="#000000"/><rect x="2303.8" y="630.1" width="9.6" height="9.6" fill="#000000"/><rect x="2281.1" y="640.3" width="9.6" height="9.6" fill="#000000"/><rect x="2272.4" y="650.6" width="9.6" height="9.6" fill="#000000"/><rect x="2281.1" y="660.8" width="9.6" height="9.6" fill="#000000"/><rect x="2211.9" y="671.1" width="9.6" height="9.6" fill="#000000"/><rect x="2152.3" y="681.3" width="9.6" height="9.6" fill="#000000"/><rect x="2150.7" y="691.6" width="9.6" height="9.6" fill="#000000"/><rect x="2149.9" y="701.8" width="9.6" height="9.6" fill="#000000"/><rect x="2153.1" y="712.1" width="9.6" height="9.6" fill="#000000"/><rect x="2150.7" y="722.4" width="9.6" height="9.6" fill="#000000"/><rect x="2149.9" y="732.6" width="9.6" height="9.6" fill="#000000"/><rect x="2155.5" y="742.9" width="9.6" height="9.6" fill="#000000"/><rect x="2159.8" y="753.1" width="9.6" height="9.6" fill="#000000"/><rect x="2162.3" y="763.4" width="9.6" height="9.6" fill="#000000"/><rect x="2159.2" y="773.6" width="9.6" height="9.6" fill="#000000"/><rect x="2163.5" y="783.9" width="9.6" height="9.6" fill="#000000"/><rect x="2159.8" y="794.1" width="9.6" height="9.6" fill="#000000"/><rect x="2165.0" y="804.4" width="9.6" height="9.6" fill="#000000"/><rect x="2157.9" y="814.6" width="9.6" height="9.6" fill="#000000"/><rect x="2158.7" y="824.9" width="9.6" height="9.6" fill="#000000"/><rect x="2160.8" y="835.2" width="9.6" height="9.6" fill="#000000"/><rect x="2165.8" y="845.4" width="9.6" height="9.6" fill="#000000"/><rect x="2165.8" y="855.7" width="9.6" height="9.6" fill="#000000"/><rect x="2163.5" y="865.9" width="9.6" height="9.6" fill="#000000"/><rect x="2158.2" y="876.2" width="9.6" height="9.6" fill="#000000"/><rect x="2160.3" y="886.4" width="9.6" height="9.6" fill="#000000"/><rect x="2165.5" y="896.7" width="9.6" height="9.6" fill="#000000"/><rect x="2171.4" y="906.9" width="9.6" height="9.6" fill="#000000"/><rect x="2160.3" y="917.2" width="9.6" height="9.6" fill="#000000"/><rect x="2158.4" y="927.4" width="9.6" height="9.6" fill="#000000"/><rect x="2158.4" y="937.7" width="9.6" height="9.6" fill="#000000"/><rect x="2157.9" y="948.0" width="9.6" height="9.6" fill="#000000"/><rect x="2157.1" y="958.2" width="9.6" height="9.6" fill="#000000"/><rect x="2151.2" y="968.5" width="9.6" height="9.6" fill="#000000"/><rect x="2154.7" y="978.7" width="9.6" height="9.6" fill="#000000"/><rect x="2156.6" y="989.0" width="9.6" height="9.6" fill="#000000"/><rect x="2151.2" y="999.2" width="9.6" height="9.6" fill="#000000"/><rect x="2157.1" y="1009.5" width="9.6" height="9.6" fill="#000000"/><rect x="2157.9" y="1019.7" width="9.6" height="9.6" fill="#000000"/><rect x="2156.3" y="1030.0" width="9.6" height="9.6" fill="#000000"/>
<polyline points="2152.8,604.1 2150.8,614.4 2151.6,624.6 2150.8,634.9 2150.3,645.1 2149.7,655.4 2148.7,665.6 2147.6,675.9 2146.0,686.1 2145.2,696.4 2143.9,706.6 2145.2,716.9 2145.2,727.2 2145.5,737.4 2145.2,747.7 2145.5,757.9 2146.0,768.2 2148.1,778.4 2146.8,788.7 2146.5,798.9 2146.0,809.2 2146.8,819.4 2146.0,829.7 2146.8,840.0 2146.8,850.2 2146.5,860.5 2146.5,870.7 2146.8,881.0 2146.8,891.2 2147.6,901.5 2146.8,911.7 2183.4,922.0 2220.7,932.2 2224.7,942.5 2251.4,952.8 2258.9,963.0 2264.4,973.3 2281.1,983.5 2285.1,993.8 2289.9,1004.0 2305.0,1014.3 2316.1,1024.5" fill="none" stroke="#808080" stroke-width="5" stroke-linejoin="round"/><path d="M2152.8 595.5L2159.0 604.1L2152.8 612.7L2146.6 604.1Z" fill="#808080"/><path d="M2150.8 605.8L2157.0 614.4L2150.8 623.0L2144.6 614.4Z" fill="#808080"/><path d="M2151.6 616.0L2157.8 624.6L2151.6 633.2L2145.4 624.6Z" fill="#808080"/><path d="M2150.8 626.3L2157.0 634.9L2150.8 643.5L2144.6 634.9Z" fill="#808080"/><path d="M2150.3 636.5L2156.5 645.1L2150.3 653.7L2144.1 645.1Z" fill="#808080"/><path d="M2149.7 646.8L2155.9 655.4L2149.7 664.0L2143.5 655.4Z" fill="#808080"/><path d="M2148.7 657.0L2154.9 665.6L2148.7 674.2L2142.5 665.6Z" fill="#808080"/><path d="M2147.6 667.3L2153.8 675.9L2147.6 684.5L2141.4 675.9Z" fill="#808080"/><path d="M2146.0 677.5L2152.2 686.1L2146.0 694.7L2139.8 686.1Z" fill="#808080"/><path d="M2145.2 687.8L2151.4 696.4L2145.2 705.0L2139.0 696.4Z" fill="#808080"/><path d="M2143.9 698.0L2150.1 706.6L2143.9 715.2L2137.7 706.6Z" fill="#808080"/><path d="M2145.2 708.3L2151.4 716.9L2145.2 725.5L2139.0 716.9Z" fill="#808080"/><path d="M2145.2 718.6L2151.4 727.2L2145.2 735.8L2139.0 727.2Z" fill="#808080"/><path d="M2145.5 728.8L2151.7 737.4L2145.5 746.0L2139.3 737.4Z" fill="#808080"/><path d="M2145.2 739.1L2151.4 747.7L2145.2 756.3L2139.0 747.7Z" fill="#808080"/><path d="M2145.5 749.3L2151.7 757.9L2145.5 766.5L2139.3 757.9Z" fill="#808080"/><path d="M2146.0 759.6L2152.2 768.2L2146.0 776.8L2139.8 768.2Z" fill="#808080"/><path d="M2148.1 769.8L2154.3 778.4L2148.1 787.0L2141.9 778.4Z" fill="#808080"/><path d="M2146.8 780.1L2153.0 788.7L2146.8 797.3L2140.6 788.7Z" fill="#808080"/><path d="M2146.5 790.3L2152.7 798.9L2146.5 807.5L2140.3 798.9Z" fill="#808080"/><path d="M2146.0 800.6L2152.2 809.2L2146.0 817.8L2139.8 809.2Z" fill="#808080"/><path d="M2146.8 810.8L2153.0 819.4L2146.8 828.0L2140.6 819.4Z" fill="#808080"/><path d="M2146.0 821.1L2152.2 829.7L2146.0 838.3L2139.8 829.7Z" fill="#808080"/><path d="M2146.8 831.4L2153.0 840.0L2146.8 848.6L2140.6 840.0Z" fill="#808080"/><path d="M2146.8 841.6L2153.0 850.2L2146.8 858.8L2140.6 850.2Z" fill="#808080"/><path d="M2146.5 851.9L2152.7 860.5L2146.5 869.1L2140.3 860.5Z" fill="#808080"/><path d="M2146.5 862.1L2152.7 870.7L2146.5 879.3L2140.3 870.7Z" fill="#808080"/><path d="M2146.8 872.4L2153.0 881.0L2146.8 889.6L2140.6 881.0Z" fill="#808080"/><path d="M2146.8 882.6L2153.0 891.2L2146.8 899.8L2140.6 891.2Z" fill="#808080"/><path d="M2147.6 892.9L2153.8 901.5L2147.6 910.1L2141.4 901.5Z" fill="#808080"/><path d="M2146.8 903.1L2153.0 911.7L2146.8 920.3L2140.6 911.7Z" fill="#808080"/><path d="M2183.4 913.4L2189.6 922.0L2183.4 930.6L2177.2 922.0Z" fill="#808080"/><path d="M2220.7 923.6L2226.9 932.2L2220.7 940.8L2214.5 932.2Z" fill="#808080"/><path d="M2224.7 933.9L2230.9 942.5L2224.7 951.1L2218.5 942.5Z" fill="#808080"/><path d="M2251.4 944.2L2257.6 952.8L2251.4 961.4L2245.2 952.8Z" fill="#808080"/><path d="M2258.9 954.4L2265.1 963.0L2258.9 971.6L2252.7 963.0Z" fill="#808080"/><path d="M2264.4 964.7L2270.6 973.3L2264.4 981.9L2258.2 973.3Z" fill="#808080"/><path d="M2281.1 974.9L2287.3 983.5L2281.1 992.1L2274.9 983.5Z" fill="#808080"/><path d="M2285.1 985.2L2291.3 993.8L2285.1 1002.4L2278.9 993.8Z" fill="#808080"/><path d="M2289.9 995.4L2296.1 1004.0L2289.9 1012.6L2283.7 1004.0Z" fill="#808080"/><path d="M2305.0 1005.7L2311.2 1014.3L2305.0 1022.9L2298.8 1014.3Z" fill="#808080"/><path d="M2316.1 1015.9L2322.3 1024.5L2316.1 1033.1L2309.9 1024.5Z" fill="#808080"/>
<text x="2119.6" y="1095.3" text-anchor="middle">0</text>
<text x="2238.6" y="1095.3" text-anchor="middle">1</text>
<text x="2357.5" y="1095.3" text-anchor="middle">2</text>
<text x="2476.5" y="1095.3" text-anchor="middle">3</text>
<text x="2298.1" y="1147.9" text-anchor="middle">Chla/mg m<tspan dy="-18" dx="1.2" font-size="27">-3</tspan></text>
<text x="2404.8" y="1037.2" class="k">C5</text>
</g>
<g id="p20">
<rect x="82.5" y="1182.5" width="356.3" height="459.1" fill="none" stroke="#262626" stroke-width="4.6"/>
<path d="M82.5 1233.5h10.2M438.8 1233.5h-10.2M82.5 1284.5h10.2M438.8 1284.5h-10.2M82.5 1335.5h10.2M438.8 1335.5h-10.2M82.5 1386.5h10.2M438.8 1386.5h-10.2M82.5 1437.6h10.2M438.8 1437.6h-10.2M82.5 1488.6h10.2M438.8 1488.6h-10.2M82.5 1539.6h10.2M438.8 1539.6h-10.2M82.5 1590.6h10.2M438.8 1590.6h-10.2M124.4 1182.5v10.2M124.4 1641.6v-10.2M166.3 1182.5v10.2M166.3 1641.6v-10.2M208.3 1182.5v10.2M208.3 1641.6v-10.2M250.2 1182.5v10.2M250.2 1641.6v-10.2M292.1 1182.5v10.2M292.1 1641.6v-10.2M334.0 1182.5v10.2M334.0 1641.6v-10.2M375.9 1182.5v10.2M375.9 1641.6v-10.2M417.8 1182.5v10.2M417.8 1641.6v-10.2" stroke="#262626" stroke-width="4.6" fill="none"/>
<polyline points="270.7,1192.7 266.1,1202.9 231.9,1213.1 171.0,1223.3 124.4,1233.5 103.4,1243.7 94.7,1253.9 90.4,1264.1 87.9,1274.3 86.7,1284.5 86.7,1294.7 86.7,1304.9 86.7,1315.1" fill="none" stroke="#2323ec" stroke-width="5" stroke-linejoin="round"/><path d="M263.4 1192.7h14.6M270.7 1185.4v14.6M258.8 1202.9h14.6M266.1 1195.6v14.6M224.6 1213.1h14.6M231.9 1205.8v14.6M163.7 1223.3h14.6M171.0 1216.0v14.6M117.1 1233.5h14.6M124.4 1226.2v14.6M96.1 1243.7h14.6M103.4 1236.4v14.6M87.4 1253.9h14.6M94.7 1246.6v14.6M83.1 1264.1h14.6M90.4 1256.8v14.6M80.6 1274.3h14.6M87.9 1267.0v14.6M79.4 1284.5h14.6M86.7 1277.2v14.6M79.4 1294.7h14.6M86.7 1287.4v14.6M79.4 1304.9h14.6M86.7 1297.6v14.6M79.4 1315.1h14.6M86.7 1307.8v14.6" stroke="#2323ec" stroke-width="4.8" fill="none"/>
<polyline points="358.1,1192.7 327.6,1202.9 295.8,1213.1 266.7,1223.3 238.9,1233.5 215.0,1243.7 194.9,1253.9 178.2,1264.1 165.9,1274.3 154.8,1284.5 146.0,1294.7" fill="none" stroke="#a020f0" stroke-width="5" stroke-linejoin="round"/><circle cx="358.1" cy="1192.7" r="7.1" fill="#a020f0"/><circle cx="327.6" cy="1202.9" r="7.1" fill="#a020f0"/><circle cx="295.8" cy="1213.1" r="7.1" fill="#a020f0"/><circle cx="266.7" cy="1223.3" r="7.1" fill="#a020f0"/><circle cx="238.9" cy="1233.5" r="7.1" fill="#a020f0"/><circle cx="215.0" cy="1243.7" r="7.1" fill="#a020f0"/><circle cx="194.9" cy="1253.9" r="7.1" fill="#a020f0"/><circle cx="178.2" cy="1264.1" r="7.1" fill="#a020f0"/><circle cx="165.9" cy="1274.3" r="7.1" fill="#a020f0"/><circle cx="154.8" cy="1284.5" r="7.1" fill="#a020f0"/><circle cx="146.0" cy="1294.7" r="7.1" fill="#a020f0"/>
<rect x="321.5" y="1185.3" width="14.8" height="14.8" fill="#000000"/><rect x="102.1" y="1256.7" width="14.8" height="14.8" fill="#000000"/>
<path d="M434.9 1179.0L445.3 1192.7L434.9 1206.4L424.5 1192.7Z" fill="#808080"/><path d="M417.4 1199.4L427.8 1213.1L417.4 1226.8L407.0 1213.1Z" fill="#808080"/>
<text x="82.5" y="1681.6" text-anchor="middle">0</text>
<text x="166.3" y="1681.6" text-anchor="middle">0.1</text>
<text x="250.2" y="1681.6" text-anchor="middle">0.2</text>
<text x="334.0" y="1681.6" text-anchor="middle">0.3</text>
<text x="417.8" y="1681.6" text-anchor="middle">0.4</text>
<text x="74.8" y="1195.1" text-anchor="end">0</text>
<text x="74.8" y="1246.1" text-anchor="end">5</text>
<text x="74.8" y="1297.1" text-anchor="end">10</text>
<text x="74.8" y="1348.1" text-anchor="end">15</text>
<text x="74.8" y="1399.1" text-anchor="end">20</text>
<text x="74.8" y="1450.2" text-anchor="end">25</text>
<text x="74.8" y="1501.2" text-anchor="end">30</text>
<text x="74.8" y="1552.2" text-anchor="end">35</text>
<text x="74.8" y="1603.2" text-anchor="end">40</text>
<text x="74.8" y="1654.2" text-anchor="end">45</text>
<text transform="translate(28.3,1412.0) rotate(-90)" text-anchor="middle">Depth/m</text>
<text x="260.6" y="1734.4" text-anchor="middle">NO<tspan dy="16.5" dx="2.5" font-size="27">3</tspan><tspan dy="-16.5" dx="1.5">/mg L</tspan><tspan dy="-18" dx="0" font-size="27">-1</tspan></text>
<text x="368.2" y="1624.0" class="k">A1</text>
<rect x="97.2" y="1387.2" width="352.1" height="179.6" fill="#fff" stroke="#262626" stroke-width="2.1"/>
<path d="M112.6 1414.8H261.6" stroke="#2323ec" stroke-width="5"/>
<path d="M187.1 1407.3v15.0" stroke="#2323ec" stroke-width="4.8"/>
<text x="273.5" y="1427.2" font-size="35" class="k">SCSOFSv2</text>
<path d="M112.6 1456.4H261.6" stroke="#a020f0" stroke-width="5"/>
<circle cx="187.1" cy="1456.4" r="7.5" fill="#a020f0"/>
<text x="273.5" y="1468.8" font-size="35" class="k">MO</text>
<rect x="179.7" y="1490.6" width="14.8" height="14.8" fill="#000000"/>
<text x="273.5" y="1510.4" font-size="35" class="k">Obs21</text>
<path d="M187.1 1525.9L197.5 1539.6L187.1 1553.3L176.7 1539.6Z" fill="#808080"/>
<text x="273.5" y="1552.0" font-size="35" class="k">Obs22</text>
</g>
<g id="p21">
<rect x="489.1" y="1182.5" width="356.0" height="459.1" fill="none" stroke="#262626" stroke-width="4.6"/>
<path d="M489.1 1233.5h10.2M845.1 1233.5h-10.2M489.1 1284.5h10.2M845.1 1284.5h-10.2M489.1 1335.5h10.2M845.1 1335.5h-10.2M489.1 1386.5h10.2M845.1 1386.5h-10.2M489.1 1437.6h10.2M845.1 1437.6h-10.2M489.1 1488.6h10.2M845.1 1488.6h-10.2M489.1 1539.6h10.2M845.1 1539.6h-10.2M489.1 1590.6h10.2M845.1 1590.6h-10.2M529.6 1182.5v10.2M529.6 1641.6v-10.2M570.0 1182.5v10.2M570.0 1641.6v-10.2M610.5 1182.5v10.2M610.5 1641.6v-10.2M650.9 1182.5v10.2M650.9 1641.6v-10.2M691.4 1182.5v10.2M691.4 1641.6v-10.2M731.8 1182.5v10.2M731.8 1641.6v-10.2M772.3 1182.5v10.2M772.3 1641.6v-10.2M812.7 1182.5v10.2M812.7 1641.6v-10.2" stroke="#262626" stroke-width="4.6" fill="none"/>
<polyline points="610.3,1192.7 609.8,1202.9 609.5,1213.1 608.7,1223.3 606.6,1233.5 602.6,1243.7 588.3,1253.9 556.5,1264.1 528.7,1274.3 511.7,1284.5 504.1,1294.7 500.1,1304.9 498.5,1315.1 497.7,1325.3 497.4,1335.5 497.4,1345.7 497.4,1355.9 498.0,1366.1 499.3,1376.3 501.7,1386.5 505.7,1396.7 509.3,1406.9 512.3,1417.2 514.7,1427.4 516.0,1437.6 517.6,1447.8 518.4,1458.0 518.7,1468.2 518.7,1478.4 518.7,1488.6" fill="none" stroke="#2323ec" stroke-width="5" stroke-linejoin="round"/><path d="M603.0 1192.7h14.6M610.3 1185.4v14.6M602.5 1202.9h14.6M609.8 1195.6v14.6M602.2 1213.1h14.6M609.5 1205.8v14.6M601.4 1223.3h14.6M608.7 1216.0v14.6M599.3 1233.5h14.6M606.6 1226.2v14.6M595.3 1243.7h14.6M602.6 1236.4v14.6M581.0 1253.9h14.6M588.3 1246.6v14.6M549.2 1264.1h14.6M556.5 1256.8v14.6M521.4 1274.3h14.6M528.7 1267.0v14.6M504.4 1284.5h14.6M511.7 1277.2v14.6M496.8 1294.7h14.6M504.1 1287.4v14.6M492.8 1304.9h14.6M500.1 1297.6v14.6M491.2 1315.1h14.6M498.5 1307.8v14.6M490.4 1325.3h14.6M497.7 1318.0v14.6M490.1 1335.5h14.6M497.4 1328.2v14.6M490.1 1345.7h14.6M497.4 1338.4v14.6M490.1 1355.9h14.6M497.4 1348.6v14.6M490.7 1366.1h14.6M498.0 1358.8v14.6M492.0 1376.3h14.6M499.3 1369.0v14.6M494.4 1386.5h14.6M501.7 1379.2v14.6M498.4 1396.7h14.6M505.7 1389.4v14.6M502.0 1406.9h14.6M509.3 1399.6v14.6M505.0 1417.2h14.6M512.3 1409.9v14.6M507.4 1427.4h14.6M514.7 1420.1v14.6M508.7 1437.6h14.6M516.0 1430.3v14.6M510.3 1447.8h14.6M517.6 1440.5v14.6M511.1 1458.0h14.6M518.4 1450.7v14.6M511.4 1468.2h14.6M518.7 1460.9v14.6M511.4 1478.4h14.6M518.7 1471.1v14.6M511.4 1488.6h14.6M518.7 1481.3v14.6" stroke="#2323ec" stroke-width="4.8" fill="none"/>
<polyline points="815.7,1192.7 754.5,1202.9 698.8,1213.1 655.6,1223.3 623.3,1233.5 599.1,1243.7 579.1,1253.9 561.8,1264.1 549.4,1274.3 537.9,1284.5 528.2,1294.7 521.2,1304.9 516.0,1315.1 512.8,1325.3 511.2,1335.5 510.8,1345.7 511.2,1355.9 512.0,1366.1 513.9,1376.3 516.5,1386.5 519.2,1396.7 521.6,1406.9 523.6,1417.2 525.5,1427.4 527.1,1437.6" fill="none" stroke="#a020f0" stroke-width="5" stroke-linejoin="round"/><circle cx="815.7" cy="1192.7" r="7.1" fill="#a020f0"/><circle cx="754.5" cy="1202.9" r="7.1" fill="#a020f0"/><circle cx="698.8" cy="1213.1" r="7.1" fill="#a020f0"/><circle cx="655.6" cy="1223.3" r="7.1" fill="#a020f0"/><circle cx="623.3" cy="1233.5" r="7.1" fill="#a020f0"/><circle cx="599.1" cy="1243.7" r="7.1" fill="#a020f0"/><circle cx="579.1" cy="1253.9" r="7.1" fill="#a020f0"/><circle cx="561.8" cy="1264.1" r="7.1" fill="#a020f0"/><circle cx="549.4" cy="1274.3" r="7.1" fill="#a020f0"/><circle cx="537.9" cy="1284.5" r="7.1" fill="#a020f0"/><circle cx="528.2" cy="1294.7" r="7.1" fill="#a020f0"/><circle cx="521.2" cy="1304.9" r="7.1" fill="#a020f0"/><circle cx="516.0" cy="1315.1" r="7.1" fill="#a020f0"/><circle cx="512.8" cy="1325.3" r="7.1" fill="#a020f0"/><circle cx="511.2" cy="1335.5" r="7.1" fill="#a020f0"/><circle cx="510.8" cy="1345.7" r="7.1" fill="#a020f0"/><circle cx="511.2" cy="1355.9" r="7.1" fill="#a020f0"/><circle cx="512.0" cy="1366.1" r="7.1" fill="#a020f0"/><circle cx="513.9" cy="1376.3" r="7.1" fill="#a020f0"/><circle cx="516.5" cy="1386.5" r="7.1" fill="#a020f0"/><circle cx="519.2" cy="1396.7" r="7.1" fill="#a020f0"/><circle cx="521.6" cy="1406.9" r="7.1" fill="#a020f0"/><circle cx="523.6" cy="1417.2" r="7.1" fill="#a020f0"/><circle cx="525.5" cy="1427.4" r="7.1" fill="#a020f0"/><circle cx="527.1" cy="1437.6" r="7.1" fill="#a020f0"/>
<rect x="501.0" y="1185.3" width="14.8" height="14.8" fill="#000000"/><rect x="533.2" y="1471.0" width="14.8" height="14.8" fill="#000000"/>
<path d="M516.5 1464.7L526.9 1478.4L516.5 1492.1L506.1 1478.4Z" fill="#808080"/>
<text x="489.1" y="1681.6" text-anchor="middle">0</text>
<text x="570.0" y="1681.6" text-anchor="middle">0.05</text>
<text x="650.9" y="1681.6" text-anchor="middle">0.1</text>
<text x="731.8" y="1681.6" text-anchor="middle">0.15</text>
<text x="812.7" y="1681.6" text-anchor="middle">0.2</text>
<text x="667.1" y="1734.4" text-anchor="middle">NO<tspan dy="16.5" dx="2.5" font-size="27">3</tspan><tspan dy="-16.5" dx="1.5">/mg L</tspan><tspan dy="-18" dx="0" font-size="27">-1</tspan></text>
<text x="780.5" y="1624.0" class="k">A4</text>
</g>
<g id="p22">
<rect x="897.8" y="1182.5" width="356.6" height="459.1" fill="none" stroke="#262626" stroke-width="4.6"/>
<path d="M897.8 1233.5h10.2M1254.4 1233.5h-10.2M897.8 1284.5h10.2M1254.4 1284.5h-10.2M897.8 1335.5h10.2M1254.4 1335.5h-10.2M897.8 1386.5h10.2M1254.4 1386.5h-10.2M897.8 1437.6h10.2M1254.4 1437.6h-10.2M897.8 1488.6h10.2M1254.4 1488.6h-10.2M897.8 1539.6h10.2M1254.4 1539.6h-10.2M897.8 1590.6h10.2M1254.4 1590.6h-10.2M942.4 1182.5v10.2M942.4 1641.6v-10.2M987.0 1182.5v10.2M987.0 1641.6v-10.2M1031.5 1182.5v10.2M1031.5 1641.6v-10.2M1076.1 1182.5v10.2M1076.1 1641.6v-10.2M1120.7 1182.5v10.2M1120.7 1641.6v-10.2M1165.2 1182.5v10.2M1165.2 1641.6v-10.2M1209.8 1182.5v10.2M1209.8 1641.6v-10.2" stroke="#262626" stroke-width="4.6" fill="none"/>
<polyline points="1026.2,1192.7 1023.2,1202.9 1018.0,1213.1 1000.2,1223.3 973.3,1233.5 940.7,1243.7 922.1,1253.9 910.8,1264.1 906.5,1274.3" fill="none" stroke="#2323ec" stroke-width="5" stroke-linejoin="round"/><path d="M1018.9 1192.7h14.6M1026.2 1185.4v14.6M1015.9 1202.9h14.6M1023.2 1195.6v14.6M1010.7 1213.1h14.6M1018.0 1205.8v14.6M992.9 1223.3h14.6M1000.2 1216.0v14.6M966.0 1233.5h14.6M973.3 1226.2v14.6M933.4 1243.7h14.6M940.7 1236.4v14.6M914.8 1253.9h14.6M922.1 1246.6v14.6M903.5 1264.1h14.6M910.8 1256.8v14.6M899.2 1274.3h14.6M906.5 1267.0v14.6" stroke="#2323ec" stroke-width="4.8" fill="none"/>
<polyline points="1054.8,1192.7 1050.1,1202.9 1043.1,1213.1 1035.7,1223.3 1027.9,1233.5 1020.6,1243.7 1011.0,1253.9 997.6,1264.1 966.3,1274.3 945.9,1284.5 940.9,1294.7" fill="none" stroke="#a020f0" stroke-width="5" stroke-linejoin="round"/><circle cx="1054.8" cy="1192.7" r="7.1" fill="#a020f0"/><circle cx="1050.1" cy="1202.9" r="7.1" fill="#a020f0"/><circle cx="1043.1" cy="1213.1" r="7.1" fill="#a020f0"/><circle cx="1035.7" cy="1223.3" r="7.1" fill="#a020f0"/><circle cx="1027.9" cy="1233.5" r="7.1" fill="#a020f0"/><circle cx="1020.6" cy="1243.7" r="7.1" fill="#a020f0"/><circle cx="1011.0" cy="1253.9" r="7.1" fill="#a020f0"/><circle cx="997.6" cy="1264.1" r="7.1" fill="#a020f0"/><circle cx="966.3" cy="1274.3" r="7.1" fill="#a020f0"/><circle cx="945.9" cy="1284.5" r="7.1" fill="#a020f0"/><circle cx="940.9" cy="1294.7" r="7.1" fill="#a020f0"/>
<rect x="1177.6" y="1175.1" width="14.8" height="14.8" fill="#000000"/><rect x="958.8" y="1256.7" width="14.8" height="14.8" fill="#000000"/>
<path d="M1244.5 1179.0L1254.9 1192.7L1244.5 1206.4L1234.1 1192.7Z" fill="#808080"/><path d="M1124.1 1250.4L1134.5 1264.1L1124.1 1277.8L1113.7 1264.1Z" fill="#808080"/>
<text x="897.8" y="1681.6" text-anchor="middle">0</text>
<text x="987.0" y="1681.6" text-anchor="middle">0.2</text>
<text x="1076.1" y="1681.6" text-anchor="middle">0.4</text>
<text x="1165.2" y="1681.6" text-anchor="middle">0.6</text>
<text x="1254.4" y="1681.6" text-anchor="middle">0.8</text>
<text x="1076.1" y="1734.4" text-anchor="middle">NO<tspan dy="16.5" dx="2.5" font-size="27">3</tspan><tspan dy="-16.5" dx="1.5">/mg L</tspan><tspan dy="-18" dx="0" font-size="27">-1</tspan></text>
<text x="1165.5" y="1624.0" class="k">B3</text>
</g>
<g id="p23">
<rect x="1304.4" y="1182.5" width="356.7" height="459.1" fill="none" stroke="#262626" stroke-width="4.6"/>
<path d="M1304.4 1233.5h10.2M1661.1 1233.5h-10.2M1304.4 1284.5h10.2M1661.1 1284.5h-10.2M1304.4 1335.5h10.2M1661.1 1335.5h-10.2M1304.4 1386.5h10.2M1661.1 1386.5h-10.2M1304.4 1437.6h10.2M1661.1 1437.6h-10.2M1304.4 1488.6h10.2M1661.1 1488.6h-10.2M1304.4 1539.6h10.2M1661.1 1539.6h-10.2M1304.4 1590.6h10.2M1661.1 1590.6h-10.2M1344.9 1182.5v10.2M1344.9 1641.6v-10.2M1385.5 1182.5v10.2M1385.5 1641.6v-10.2M1426.0 1182.5v10.2M1426.0 1641.6v-10.2M1466.5 1182.5v10.2M1466.5 1641.6v-10.2M1507.1 1182.5v10.2M1507.1 1641.6v-10.2M1547.6 1182.5v10.2M1547.6 1641.6v-10.2M1588.1 1182.5v10.2M1588.1 1641.6v-10.2M1628.7 1182.5v10.2M1628.7 1641.6v-10.2" stroke="#262626" stroke-width="4.6" fill="none"/>
<polyline points="1451.8,1192.7 1453.4,1202.9 1453.4,1213.1 1447.9,1223.3 1436.7,1233.5 1414.8,1243.7 1385.9,1253.9 1359.6,1264.1 1339.7,1274.3 1326.2,1284.5 1318.3,1294.7 1315.9,1304.9 1317.8,1315.1 1323.8,1325.3 1331.0,1335.5 1337.4,1345.7 1342.6,1355.9 1346.4,1366.1 1349.0,1376.3 1350.6,1386.5 1351.2,1396.7 1351.7,1406.9 1352.1,1417.2 1352.5,1427.4 1352.8,1437.6 1353.3,1447.8 1353.7,1458.0 1354.1,1468.2" fill="none" stroke="#2323ec" stroke-width="5" stroke-linejoin="round"/><path d="M1444.5 1192.7h14.6M1451.8 1185.4v14.6M1446.1 1202.9h14.6M1453.4 1195.6v14.6M1446.1 1213.1h14.6M1453.4 1205.8v14.6M1440.6 1223.3h14.6M1447.9 1216.0v14.6M1429.4 1233.5h14.6M1436.7 1226.2v14.6M1407.5 1243.7h14.6M1414.8 1236.4v14.6M1378.6 1253.9h14.6M1385.9 1246.6v14.6M1352.3 1264.1h14.6M1359.6 1256.8v14.6M1332.4 1274.3h14.6M1339.7 1267.0v14.6M1318.9 1284.5h14.6M1326.2 1277.2v14.6M1311.0 1294.7h14.6M1318.3 1287.4v14.6M1308.6 1304.9h14.6M1315.9 1297.6v14.6M1310.5 1315.1h14.6M1317.8 1307.8v14.6M1316.5 1325.3h14.6M1323.8 1318.0v14.6M1323.7 1335.5h14.6M1331.0 1328.2v14.6M1330.1 1345.7h14.6M1337.4 1338.4v14.6M1335.3 1355.9h14.6M1342.6 1348.6v14.6M1339.1 1366.1h14.6M1346.4 1358.8v14.6M1341.7 1376.3h14.6M1349.0 1369.0v14.6M1343.3 1386.5h14.6M1350.6 1379.2v14.6M1343.9 1396.7h14.6M1351.2 1389.4v14.6M1344.4 1406.9h14.6M1351.7 1399.6v14.6M1344.8 1417.2h14.6M1352.1 1409.9v14.6M1345.2 1427.4h14.6M1352.5 1420.1v14.6M1345.5 1437.6h14.6M1352.8 1430.3v14.6M1346.0 1447.8h14.6M1353.3 1440.5v14.6M1346.4 1458.0h14.6M1353.7 1450.7v14.6M1346.8 1468.2h14.6M1354.1 1460.9v14.6" stroke="#2323ec" stroke-width="4.8" fill="none"/>
<polyline points="1634.7,1192.7 1608.9,1202.9 1568.4,1213.1 1523.7,1223.3 1479.7,1233.5 1441.2,1243.7 1408.1,1253.9 1380.3,1264.1 1361.7,1274.3 1347.2,1284.5 1336.9,1294.7 1330.5,1304.9 1326.2,1315.1 1324.2,1325.3 1323.8,1335.5 1324.2,1345.7 1326.2,1355.9 1329.4,1366.1 1333.1,1376.3 1337.4,1386.5 1341.3,1396.7 1345.3,1406.9 1349.6,1417.2 1354.1,1427.4 1358.0,1437.6 1361.7,1447.8 1364.9,1458.0 1367.6,1468.2 1370.4,1478.4" fill="none" stroke="#a020f0" stroke-width="5" stroke-linejoin="round"/><circle cx="1634.7" cy="1192.7" r="7.1" fill="#a020f0"/><circle cx="1608.9" cy="1202.9" r="7.1" fill="#a020f0"/><circle cx="1568.4" cy="1213.1" r="7.1" fill="#a020f0"/><circle cx="1523.7" cy="1223.3" r="7.1" fill="#a020f0"/><circle cx="1479.7" cy="1233.5" r="7.1" fill="#a020f0"/><circle cx="1441.2" cy="1243.7" r="7.1" fill="#a020f0"/><circle cx="1408.1" cy="1253.9" r="7.1" fill="#a020f0"/><circle cx="1380.3" cy="1264.1" r="7.1" fill="#a020f0"/><circle cx="1361.7" cy="1274.3" r="7.1" fill="#a020f0"/><circle cx="1347.2" cy="1284.5" r="7.1" fill="#a020f0"/><circle cx="1336.9" cy="1294.7" r="7.1" fill="#a020f0"/><circle cx="1330.5" cy="1304.9" r="7.1" fill="#a020f0"/><circle cx="1326.2" cy="1315.1" r="7.1" fill="#a020f0"/><circle cx="1324.2" cy="1325.3" r="7.1" fill="#a020f0"/><circle cx="1323.8" cy="1335.5" r="7.1" fill="#a020f0"/><circle cx="1324.2" cy="1345.7" r="7.1" fill="#a020f0"/><circle cx="1326.2" cy="1355.9" r="7.1" fill="#a020f0"/><circle cx="1329.4" cy="1366.1" r="7.1" fill="#a020f0"/><circle cx="1333.1" cy="1376.3" r="7.1" fill="#a020f0"/><circle cx="1337.4" cy="1386.5" r="7.1" fill="#a020f0"/><circle cx="1341.3" cy="1396.7" r="7.1" fill="#a020f0"/><circle cx="1345.3" cy="1406.9" r="7.1" fill="#a020f0"/><circle cx="1349.6" cy="1417.2" r="7.1" fill="#a020f0"/><circle cx="1354.1" cy="1427.4" r="7.1" fill="#a020f0"/><circle cx="1358.0" cy="1437.6" r="7.1" fill="#a020f0"/><circle cx="1361.7" cy="1447.8" r="7.1" fill="#a020f0"/><circle cx="1364.9" cy="1458.0" r="7.1" fill="#a020f0"/><circle cx="1367.6" cy="1468.2" r="7.1" fill="#a020f0"/><circle cx="1370.4" cy="1478.4" r="7.1" fill="#a020f0"/>
<rect x="1357.0" y="1572.5" width="14.8" height="14.8" fill="#000000"/>
<path d="M1391.4 1581.0L1401.8 1594.7L1391.4 1608.4L1381.0 1594.7Z" fill="#808080"/>
<text x="1304.4" y="1681.6" text-anchor="middle">0</text>
<text x="1385.5" y="1681.6" text-anchor="middle">0.05</text>
<text x="1466.5" y="1681.6" text-anchor="middle">0.1</text>
<text x="1547.6" y="1681.6" text-anchor="middle">0.15</text>
<text x="1628.7" y="1681.6" text-anchor="middle">0.2</text>
<text x="1482.8" y="1734.4" text-anchor="middle">NO<tspan dy="16.5" dx="2.5" font-size="27">3</tspan><tspan dy="-16.5" dx="1.5">/mg L</tspan><tspan dy="-18" dx="0" font-size="27">-1</tspan></text>
<text x="1596.0" y="1624.0" class="k">B6</text>
</g>
<g id="p24">
<rect x="1710.7" y="1182.5" width="356.0" height="459.1" fill="none" stroke="#262626" stroke-width="4.6"/>
<path d="M1710.7 1233.5h10.2M2066.7 1233.5h-10.2M1710.7 1284.5h10.2M2066.7 1284.5h-10.2M1710.7 1335.5h10.2M2066.7 1335.5h-10.2M1710.7 1386.5h10.2M2066.7 1386.5h-10.2M1710.7 1437.6h10.2M2066.7 1437.6h-10.2M1710.7 1488.6h10.2M2066.7 1488.6h-10.2M1710.7 1539.6h10.2M2066.7 1539.6h-10.2M1710.7 1590.6h10.2M2066.7 1590.6h-10.2M1755.2 1182.5v10.2M1755.2 1641.6v-10.2M1799.7 1182.5v10.2M1799.7 1641.6v-10.2M1844.2 1182.5v10.2M1844.2 1641.6v-10.2M1888.7 1182.5v10.2M1888.7 1641.6v-10.2M1933.2 1182.5v10.2M1933.2 1641.6v-10.2M1977.7 1182.5v10.2M1977.7 1641.6v-10.2M2022.2 1182.5v10.2M2022.2 1641.6v-10.2" stroke="#262626" stroke-width="4.6" fill="none"/>
<polyline points="1812.2,1192.7 1794.7,1202.9 1767.2,1213.1 1748.9,1223.3 1744.2,1233.5 1739.4,1243.7 1733.8,1253.9 1729.8,1264.1 1728.6,1274.3 1729.5,1284.5 1731.4,1294.7 1738.6,1304.9 1742.2,1315.1 1744.2,1325.3 1745.3,1335.5 1745.4,1345.7 1745.4,1355.9 1745.4,1366.1 1745.4,1376.3 1745.4,1386.5 1745.4,1396.7" fill="none" stroke="#2323ec" stroke-width="5" stroke-linejoin="round"/><path d="M1804.9 1192.7h14.6M1812.2 1185.4v14.6M1787.4 1202.9h14.6M1794.7 1195.6v14.6M1759.9 1213.1h14.6M1767.2 1205.8v14.6M1741.6 1223.3h14.6M1748.9 1216.0v14.6M1736.9 1233.5h14.6M1744.2 1226.2v14.6M1732.1 1243.7h14.6M1739.4 1236.4v14.6M1726.5 1253.9h14.6M1733.8 1246.6v14.6M1722.5 1264.1h14.6M1729.8 1256.8v14.6M1721.3 1274.3h14.6M1728.6 1267.0v14.6M1722.2 1284.5h14.6M1729.5 1277.2v14.6M1724.1 1294.7h14.6M1731.4 1287.4v14.6M1731.3 1304.9h14.6M1738.6 1297.6v14.6M1734.9 1315.1h14.6M1742.2 1307.8v14.6M1736.9 1325.3h14.6M1744.2 1318.0v14.6M1738.0 1335.5h14.6M1745.3 1328.2v14.6M1738.1 1345.7h14.6M1745.4 1338.4v14.6M1738.1 1355.9h14.6M1745.4 1348.6v14.6M1738.1 1366.1h14.6M1745.4 1358.8v14.6M1738.1 1376.3h14.6M1745.4 1369.0v14.6M1738.1 1386.5h14.6M1745.4 1379.2v14.6M1738.1 1396.7h14.6M1745.4 1389.4v14.6" stroke="#2323ec" stroke-width="4.8" fill="none"/>
<polyline points="1969.1,1192.7 1946.9,1202.9 1915.9,1213.1 1881.7,1223.3 1848.6,1233.5 1818.1,1243.7 1791.9,1253.9 1769.3,1264.1 1755.3,1274.3 1743.4,1284.5 1735.9,1294.7 1731.4,1304.9 1727.9,1315.1 1726.3,1325.3 1725.9,1335.5 1725.9,1345.7 1726.2,1355.9 1727.5,1366.1 1728.6,1376.3 1729.8,1386.5 1731.1,1396.7 1732.6,1406.9 1734.3,1417.2 1735.7,1427.4 1736.7,1437.6" fill="none" stroke="#a020f0" stroke-width="5" stroke-linejoin="round"/><circle cx="1969.1" cy="1192.7" r="7.1" fill="#a020f0"/><circle cx="1946.9" cy="1202.9" r="7.1" fill="#a020f0"/><circle cx="1915.9" cy="1213.1" r="7.1" fill="#a020f0"/><circle cx="1881.7" cy="1223.3" r="7.1" fill="#a020f0"/><circle cx="1848.6" cy="1233.5" r="7.1" fill="#a020f0"/><circle cx="1818.1" cy="1243.7" r="7.1" fill="#a020f0"/><circle cx="1791.9" cy="1253.9" r="7.1" fill="#a020f0"/><circle cx="1769.3" cy="1264.1" r="7.1" fill="#a020f0"/><circle cx="1755.3" cy="1274.3" r="7.1" fill="#a020f0"/><circle cx="1743.4" cy="1284.5" r="7.1" fill="#a020f0"/><circle cx="1735.9" cy="1294.7" r="7.1" fill="#a020f0"/><circle cx="1731.4" cy="1304.9" r="7.1" fill="#a020f0"/><circle cx="1727.9" cy="1315.1" r="7.1" fill="#a020f0"/><circle cx="1726.3" cy="1325.3" r="7.1" fill="#a020f0"/><circle cx="1725.9" cy="1335.5" r="7.1" fill="#a020f0"/><circle cx="1725.9" cy="1345.7" r="7.1" fill="#a020f0"/><circle cx="1726.2" cy="1355.9" r="7.1" fill="#a020f0"/><circle cx="1727.5" cy="1366.1" r="7.1" fill="#a020f0"/><circle cx="1728.6" cy="1376.3" r="7.1" fill="#a020f0"/><circle cx="1729.8" cy="1386.5" r="7.1" fill="#a020f0"/><circle cx="1731.1" cy="1396.7" r="7.1" fill="#a020f0"/><circle cx="1732.6" cy="1406.9" r="7.1" fill="#a020f0"/><circle cx="1734.3" cy="1417.2" r="7.1" fill="#a020f0"/><circle cx="1735.7" cy="1427.4" r="7.1" fill="#a020f0"/><circle cx="1736.7" cy="1437.6" r="7.1" fill="#a020f0"/>
<rect x="1718.9" y="1552.3" width="14.8" height="14.8" fill="#000000"/>
<path d="M1783.9 1540.8L1794.3 1554.5L1783.9 1568.2L1773.5 1554.5Z" fill="#808080"/>
<text x="1710.7" y="1681.6" text-anchor="middle">0</text>
<text x="1799.7" y="1681.6" text-anchor="middle">0.1</text>
<text x="1888.7" y="1681.6" text-anchor="middle">0.2</text>
<text x="1977.7" y="1681.6" text-anchor="middle">0.3</text>
<text x="2066.7" y="1681.6" text-anchor="middle">0.4</text>
<text x="1888.7" y="1734.4" text-anchor="middle">NO<tspan dy="16.5" dx="2.5" font-size="27">3</tspan><tspan dy="-16.5" dx="1.5">/mg L</tspan><tspan dy="-18" dx="0" font-size="27">-1</tspan></text>
<text x="1996.1" y="1624.0" class="k">C2</text>
</g>
<g id="p25">
<rect x="2119.6" y="1182.5" width="356.9" height="459.1" fill="none" stroke="#262626" stroke-width="4.6"/>
<path d="M2119.6 1233.5h10.2M2476.5 1233.5h-10.2M2119.6 1284.5h10.2M2476.5 1284.5h-10.2M2119.6 1335.5h10.2M2476.5 1335.5h-10.2M2119.6 1386.5h10.2M2476.5 1386.5h-10.2M2119.6 1437.6h10.2M2476.5 1437.6h-10.2M2119.6 1488.6h10.2M2476.5 1488.6h-10.2M2119.6 1539.6h10.2M2476.5 1539.6h-10.2M2119.6 1590.6h10.2M2476.5 1590.6h-10.2M2164.2 1182.5v10.2M2164.2 1641.6v-10.2M2208.8 1182.5v10.2M2208.8 1641.6v-10.2M2253.4 1182.5v10.2M2253.4 1641.6v-10.2M2298.1 1182.5v10.2M2298.1 1641.6v-10.2M2342.7 1182.5v10.2M2342.7 1641.6v-10.2M2387.3 1182.5v10.2M2387.3 1641.6v-10.2M2431.9 1182.5v10.2M2431.9 1641.6v-10.2" stroke="#262626" stroke-width="4.6" fill="none"/>
<polyline points="2380.2,1192.7 2378.1,1202.9 2373.3,1213.1 2356.7,1223.3 2321.2,1233.5 2277.2,1243.7 2240.6,1253.9 2215.5,1264.1 2197.7,1274.3 2181.8,1284.5 2165.9,1294.7 2151.2,1304.9 2142.0,1315.1 2135.7,1325.3 2131.7,1335.5 2129.6,1345.7 2129.0,1355.9 2129.0,1366.1 2130.1,1376.3 2132.5,1386.5 2136.0,1396.7 2140.1,1406.9 2144.9,1417.2 2149.3,1427.4 2154.7,1437.6 2160.3,1447.8 2165.9,1458.0 2171.4,1468.2 2177.0,1478.4 2181.8,1488.6 2186.5,1498.8 2190.5,1509.0 2193.7,1519.2 2196.4,1529.4 2198.5,1539.6 2199.6,1549.8 2200.5,1560.0 2201.3,1570.2 2202.1,1580.4 2202.9,1590.6 2203.7,1600.8 2204.3,1611.0 2205.0,1621.2 2205.6,1631.4 2206.1,1641.6" fill="none" stroke="#2323ec" stroke-width="5" stroke-linejoin="round"/><path d="M2372.9 1192.7h14.6M2380.2 1185.4v14.6M2370.8 1202.9h14.6M2378.1 1195.6v14.6M2366.0 1213.1h14.6M2373.3 1205.8v14.6M2349.4 1223.3h14.6M2356.7 1216.0v14.6M2313.9 1233.5h14.6M2321.2 1226.2v14.6M2269.9 1243.7h14.6M2277.2 1236.4v14.6M2233.3 1253.9h14.6M2240.6 1246.6v14.6M2208.2 1264.1h14.6M2215.5 1256.8v14.6M2190.4 1274.3h14.6M2197.7 1267.0v14.6M2174.5 1284.5h14.6M2181.8 1277.2v14.6M2158.6 1294.7h14.6M2165.9 1287.4v14.6M2143.9 1304.9h14.6M2151.2 1297.6v14.6M2134.7 1315.1h14.6M2142.0 1307.8v14.6M2128.4 1325.3h14.6M2135.7 1318.0v14.6M2124.4 1335.5h14.6M2131.7 1328.2v14.6M2122.3 1345.7h14.6M2129.6 1338.4v14.6M2121.7 1355.9h14.6M2129.0 1348.6v14.6M2121.7 1366.1h14.6M2129.0 1358.8v14.6M2122.8 1376.3h14.6M2130.1 1369.0v14.6M2125.2 1386.5h14.6M2132.5 1379.2v14.6M2128.7 1396.7h14.6M2136.0 1389.4v14.6M2132.8 1406.9h14.6M2140.1 1399.6v14.6M2137.6 1417.2h14.6M2144.9 1409.9v14.6M2142.0 1427.4h14.6M2149.3 1420.1v14.6M2147.4 1437.6h14.6M2154.7 1430.3v14.6M2153.0 1447.8h14.6M2160.3 1440.5v14.6M2158.6 1458.0h14.6M2165.9 1450.7v14.6M2164.1 1468.2h14.6M2171.4 1460.9v14.6M2169.7 1478.4h14.6M2177.0 1471.1v14.6M2174.5 1488.6h14.6M2181.8 1481.3v14.6M2179.2 1498.8h14.6M2186.5 1491.5v14.6M2183.2 1509.0h14.6M2190.5 1501.7v14.6M2186.4 1519.2h14.6M2193.7 1511.9v14.6M2189.1 1529.4h14.6M2196.4 1522.1v14.6M2191.2 1539.6h14.6M2198.5 1532.3v14.6M2192.3 1549.8h14.6M2199.6 1542.5v14.6M2193.2 1560.0h14.6M2200.5 1552.7v14.6M2194.0 1570.2h14.6M2201.3 1562.9v14.6M2194.8 1580.4h14.6M2202.1 1573.1v14.6M2195.6 1590.6h14.6M2202.9 1583.3v14.6M2196.4 1600.8h14.6M2203.7 1593.5v14.6M2197.0 1611.0h14.6M2204.3 1603.7v14.6M2197.7 1621.2h14.6M2205.0 1613.9v14.6M2198.3 1631.4h14.6M2205.6 1624.1v14.6M2198.8 1641.6h14.6M2206.1 1634.3v14.6" stroke="#2323ec" stroke-width="4.8" fill="none"/>
<polyline points="2363.0,1192.7 2355.1,1202.9 2334.7,1213.1 2305.0,1223.3 2271.1,1233.5 2238.2,1243.7 2209.9,1253.9 2184.6,1264.1 2167.5,1274.3 2153.2,1284.5 2142.8,1294.7 2136.0,1304.9 2131.7,1315.1 2129.3,1325.3 2128.0,1335.5 2128.0,1345.7 2129.3,1355.9 2130.9,1366.1 2133.3,1376.3 2136.9,1386.5 2140.4,1396.7 2144.1,1406.9 2148.5,1417.2 2153.2,1427.4 2157.9,1437.6 2162.4,1447.8 2167.1,1458.0 2171.9,1468.2 2176.7,1478.4 2181.5,1488.6 2186.2,1498.8 2191.0,1509.0 2195.8,1519.2 2200.1,1529.4 2204.0,1539.6 2207.2,1549.8 2209.6,1560.0 2212.0,1570.2 2214.4,1580.4 2216.7,1590.6" fill="none" stroke="#a020f0" stroke-width="5" stroke-linejoin="round"/><circle cx="2363.0" cy="1192.7" r="7.1" fill="#a020f0"/><circle cx="2355.1" cy="1202.9" r="7.1" fill="#a020f0"/><circle cx="2334.7" cy="1213.1" r="7.1" fill="#a020f0"/><circle cx="2305.0" cy="1223.3" r="7.1" fill="#a020f0"/><circle cx="2271.1" cy="1233.5" r="7.1" fill="#a020f0"/><circle cx="2238.2" cy="1243.7" r="7.1" fill="#a020f0"/><circle cx="2209.9" cy="1253.9" r="7.1" fill="#a020f0"/><circle cx="2184.6" cy="1264.1" r="7.1" fill="#a020f0"/><circle cx="2167.5" cy="1274.3" r="7.1" fill="#a020f0"/><circle cx="2153.2" cy="1284.5" r="7.1" fill="#a020f0"/><circle cx="2142.8" cy="1294.7" r="7.1" fill="#a020f0"/><circle cx="2136.0" cy="1304.9" r="7.1" fill="#a020f0"/><circle cx="2131.7" cy="1315.1" r="7.1" fill="#a020f0"/><circle cx="2129.3" cy="1325.3" r="7.1" fill="#a020f0"/><circle cx="2128.0" cy="1335.5" r="7.1" fill="#a020f0"/><circle cx="2128.0" cy="1345.7" r="7.1" fill="#a020f0"/><circle cx="2129.3" cy="1355.9" r="7.1" fill="#a020f0"/><circle cx="2130.9" cy="1366.1" r="7.1" fill="#a020f0"/><circle cx="2133.3" cy="1376.3" r="7.1" fill="#a020f0"/><circle cx="2136.9" cy="1386.5" r="7.1" fill="#a020f0"/><circle cx="2140.4" cy="1396.7" r="7.1" fill="#a020f0"/><circle cx="2144.1" cy="1406.9" r="7.1" fill="#a020f0"/><circle cx="2148.5" cy="1417.2" r="7.1" fill="#a020f0"/><circle cx="2153.2" cy="1427.4" r="7.1" fill="#a020f0"/><circle cx="2157.9" cy="1437.6" r="7.1" fill="#a020f0"/><circle cx="2162.4" cy="1447.8" r="7.1" fill="#a020f0"/><circle cx="2167.1" cy="1458.0" r="7.1" fill="#a020f0"/><circle cx="2171.9" cy="1468.2" r="7.1" fill="#a020f0"/><circle cx="2176.7" cy="1478.4" r="7.1" fill="#a020f0"/><circle cx="2181.5" cy="1488.6" r="7.1" fill="#a020f0"/><circle cx="2186.2" cy="1498.8" r="7.1" fill="#a020f0"/><circle cx="2191.0" cy="1509.0" r="7.1" fill="#a020f0"/><circle cx="2195.8" cy="1519.2" r="7.1" fill="#a020f0"/><circle cx="2200.1" cy="1529.4" r="7.1" fill="#a020f0"/><circle cx="2204.0" cy="1539.6" r="7.1" fill="#a020f0"/><circle cx="2207.2" cy="1549.8" r="7.1" fill="#a020f0"/><circle cx="2209.6" cy="1560.0" r="7.1" fill="#a020f0"/><circle cx="2212.0" cy="1570.2" r="7.1" fill="#a020f0"/><circle cx="2214.4" cy="1580.4" r="7.1" fill="#a020f0"/><circle cx="2216.7" cy="1590.6" r="7.1" fill="#a020f0"/>
<rect x="2191.5" y="1603.6" width="14.8" height="14.8" fill="#000000"/>

<text x="2119.6" y="1681.6" text-anchor="middle">0</text>
<text x="2208.8" y="1681.6" text-anchor="middle">0.05</text>
<text x="2298.1" y="1681.6" text-anchor="middle">0.1</text>
<text x="2387.3" y="1681.6" text-anchor="middle">0.15</text>
<text x="2476.5" y="1681.6" text-anchor="middle">0.2</text>
<text x="2298.1" y="1734.4" text-anchor="middle">NO<tspan dy="16.5" dx="2.5" font-size="27">3</tspan><tspan dy="-16.5" dx="1.5">/mg L</tspan><tspan dy="-18" dx="0" font-size="27">-1</tspan></text>
<text x="2405.1" y="1624.0" class="k">C5</text>
</g>
</svg></body></html>
